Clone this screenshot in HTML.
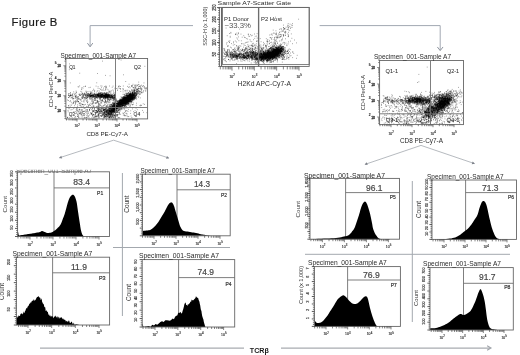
<!DOCTYPE html>
<html><head><meta charset="utf-8"><style>
html,body{margin:0;padding:0;background:#fff;}
svg{display:block;font-family:"Liberation Sans", sans-serif;filter:blur(0.35px);}
</style></head><body>
<svg width="520" height="355" viewBox="0 0 520 355">
<rect width="520" height="355" fill="#fff"/>
<text x="11.6" y="25.95" font-size="11.3" fill="#1a1a1a" stroke="#1a1a1a" stroke-width="0.2" textLength="45.6" lengthAdjust="spacing">Figure B</text>
<polyline points="193.00,25.60 90.10,25.60 90.10,46.50" stroke="#a2a8b2" stroke-width="1.0" fill="none" stroke-linejoin="miter"/>
<polyline points="92.80,43.08 90.10,46.80 87.40,43.08" stroke="#8e949e" stroke-width="1.0" fill="none" stroke-linejoin="miter"/>
<polyline points="319.60,25.60 440.20,25.60 440.20,50.20" stroke="#a2a8b2" stroke-width="1.0" fill="none" stroke-linejoin="miter"/>
<polyline points="443.03,46.98 440.20,50.60 437.37,46.98" stroke="#8e949e" stroke-width="1.0" fill="none" stroke-linejoin="miter"/>
<polyline points="59.40,157.80 113.60,140.20 168.80,158.00" stroke="#a9adb3" stroke-width="0.85" fill="none" stroke-linejoin="miter"/>
<polygon points="59.00,158.00 62.15,158.55 61.22,155.70" fill="#7c8088"/>
<polygon points="169.20,158.20 166.97,155.90 166.05,158.76" fill="#7c8088"/>
<polyline points="365.00,164.40 421.00,145.40 474.50,163.60" stroke="#a9adb3" stroke-width="0.85" fill="none" stroke-linejoin="miter"/>
<polygon points="364.60,164.60 367.76,165.11 366.79,162.27" fill="#7c8088"/>
<polygon points="474.90,163.80 472.71,161.47 471.74,164.31" fill="#7c8088"/>
<line x1="122.40" y1="173.00" x2="122.40" y2="316.00" stroke="#a3a8ae" stroke-width="1.0"/>
<line x1="113.00" y1="247.50" x2="230.00" y2="247.50" stroke="#a3a8ae" stroke-width="1.0"/>
<line x1="412.30" y1="181.00" x2="412.30" y2="322.00" stroke="#a3a8ae" stroke-width="1.0"/>
<line x1="305.00" y1="254.30" x2="510.00" y2="254.30" stroke="#a3a8ae" stroke-width="1.0"/>
<line x1="40.00" y1="348.10" x2="244.00" y2="348.10" stroke="#a8abb0" stroke-width="1.2"/>
<line x1="281.00" y1="348.10" x2="490.00" y2="348.10" stroke="#a8abb0" stroke-width="1.2"/>
<polyline points="487.10,345.85 491.00,348.10 487.10,350.35" stroke="#a0a4aa" stroke-width="1.1" fill="none" stroke-linejoin="miter"/>
<text x="249.80" y="352.70" font-size="7.0" fill="#1a1a1a" textLength="19.00" lengthAdjust="spacingAndGlyphs" font-weight="bold">TCRβ</text>
<line x1="54.00" y1="171.80" x2="54.00" y2="236.50" stroke="#707070" stroke-width="0.9"/>
<line x1="54.00" y1="187.90" x2="109.50" y2="187.90" stroke="#707070" stroke-width="0.9"/>
<path d="M17.60 236.50L17.60 236.50L17.65 235.76L17.71 234.65L17.79 233.46L17.89 232.48L18.00 232.00L18.13 232.20L18.27 232.87L18.43 233.77L18.61 234.64L18.80 235.20L18.95 235.43L19.07 235.50L19.23 235.47L19.51 235.38L20.00 235.30L20.76 235.21L21.73 235.08L22.82 234.93L23.94 234.76L25.00 234.60L26.00 234.45L27.00 234.29L28.00 234.12L29.00 233.96L30.00 233.80L31.00 233.64L32.00 233.49L33.00 233.33L34.00 233.17L35.00 233.00L36.05 232.81L37.14 232.61L38.22 232.41L39.19 232.20L40.00 232.00L40.59 231.77L41.02 231.51L41.34 231.27L41.65 231.08L42.00 231.00L42.37 231.04L42.70 231.17L43.06 231.36L43.47 231.59L44.00 231.80L44.67 232.05L45.46 232.35L46.30 232.64L47.17 232.88L48.00 233.00L48.83 232.97L49.70 232.84L50.54 232.64L51.33 232.42L52.00 232.20L52.53 231.99L52.94 231.76L53.30 231.51L53.63 231.26L54.00 231.00L54.40 230.74L54.80 230.48L55.20 230.21L55.60 229.92L56.00 229.60L56.40 229.25L56.79 228.87L57.18 228.47L57.58 228.05L58.00 227.60L58.45 227.14L58.93 226.66L59.41 226.16L59.87 225.61L60.30 225.00L60.69 224.30L61.06 223.52L61.40 222.71L61.71 221.92L62.00 221.20L62.24 220.59L62.43 220.06L62.60 219.55L62.78 219.01L63.00 218.40L63.27 217.70L63.58 216.93L63.90 216.13L64.21 215.32L64.50 214.50L64.76 213.69L65.00 212.87L65.23 212.04L65.46 211.18L65.70 210.30L65.95 209.38L66.21 208.42L66.47 207.44L66.73 206.46L67.00 205.50L67.27 204.54L67.54 203.56L67.82 202.60L68.11 201.67L68.40 200.80L68.69 199.99L68.99 199.22L69.29 198.50L69.63 197.83L70.00 197.20L70.43 196.59L70.92 195.98L71.42 195.44L71.93 195.03L72.40 194.80L72.84 194.74L73.27 194.81L73.68 195.04L74.09 195.43L74.50 196.00L74.92 196.78L75.34 197.75L75.76 198.88L76.15 200.14L76.50 201.50L76.81 203.02L77.08 204.71L77.32 206.49L77.56 208.28L77.80 210.00L78.05 211.66L78.30 213.31L78.54 214.93L78.77 216.50L79.00 218.00L79.22 219.42L79.42 220.78L79.62 222.08L79.82 223.32L80.00 224.50L80.17 225.61L80.32 226.64L80.46 227.62L80.62 228.57L80.80 229.50L81.01 230.44L81.24 231.37L81.48 232.26L81.73 233.09L82.00 233.80L82.27 234.40L82.55 234.91L82.85 235.34L83.16 235.70L83.50 236.00L83.90 236.22L84.36 236.35L84.82 236.42L85.22 236.46L85.50 236.50L85.50 236.50Z" fill="#000"/>
<rect x="17.60" y="171.80" width="91.90" height="64.70" fill="none" stroke="#666" stroke-width="0.9"/>
<text x="73.20" y="185.30" font-size="8.6" fill="#484848" stroke="#484848" stroke-width="0.2" textLength="16.80" lengthAdjust="spacingAndGlyphs">83.4</text>
<text x="97.10" y="195.40" font-size="5.6" fill="#333" stroke="#333" stroke-width="0.2" textLength="6.10" lengthAdjust="spacingAndGlyphs">P1</text>
<clipPath id="c25"><rect x="14" y="169.8" width="80" height="10"/></clipPath>
<g clip-path="url(#c25)">
<text x="16.00" y="172.60" font-size="6.42" fill="#6a6a6a" textLength="76.00" lengthAdjust="spacingAndGlyphs">Specimen_001-Sample A7</text>
</g>
<path d="M17.97 236.50v2.0 M20.85 236.50v2.0 M23.08 236.50v2.0 M24.90 236.50v2.0 M26.44 236.50v2.0 M27.77 236.50v2.0 M28.95 236.50v2.0 M30.00 236.50v3.0 M36.92 236.50v2.0 M40.97 236.50v2.0 M43.85 236.50v2.0 M46.08 236.50v2.0 M47.90 236.50v2.0 M49.44 236.50v2.0 M50.77 236.50v2.0 M51.95 236.50v2.0 M53.00 236.50v3.0 M59.92 236.50v2.0 M63.97 236.50v2.0 M66.85 236.50v2.0 M69.08 236.50v2.0 M70.90 236.50v2.0 M72.44 236.50v2.0 M73.77 236.50v2.0 M74.95 236.50v2.0 M76.00 236.50v3.0 M82.92 236.50v2.0 M86.97 236.50v2.0 M89.85 236.50v2.0 M92.08 236.50v2.0 M93.90 236.50v2.0 M95.44 236.50v2.0 M96.77 236.50v2.0 M97.95 236.50v2.0 M99.00 236.50v3.0" stroke="#333" stroke-width="0.6"/>
<text x="27.40" y="245.50" font-size="4.1" fill="#3a3a3a" stroke="#3a3a3a" stroke-width="0.18" textLength="3.80" lengthAdjust="spacingAndGlyphs">10</text>
<text x="31.30" y="243.60" font-size="2.9519999999999995" fill="#3a3a3a" stroke="#3a3a3a" stroke-width="0.15">2</text>
<text x="50.40" y="245.50" font-size="4.1" fill="#3a3a3a" stroke="#3a3a3a" stroke-width="0.18" textLength="3.80" lengthAdjust="spacingAndGlyphs">10</text>
<text x="54.30" y="243.60" font-size="2.9519999999999995" fill="#3a3a3a" stroke="#3a3a3a" stroke-width="0.15">3</text>
<text x="73.40" y="245.50" font-size="4.1" fill="#3a3a3a" stroke="#3a3a3a" stroke-width="0.18" textLength="3.80" lengthAdjust="spacingAndGlyphs">10</text>
<text x="77.30" y="243.60" font-size="2.9519999999999995" fill="#3a3a3a" stroke="#3a3a3a" stroke-width="0.15">4</text>
<text x="96.40" y="245.50" font-size="4.1" fill="#3a3a3a" stroke="#3a3a3a" stroke-width="0.18" textLength="3.80" lengthAdjust="spacingAndGlyphs">10</text>
<text x="100.30" y="243.60" font-size="2.9519999999999995" fill="#3a3a3a" stroke="#3a3a3a" stroke-width="0.15">5</text>
<path d="M17.60 236.50h-2.6 M17.60 228.41h-2.6 M17.60 220.32h-2.6 M17.60 212.24h-2.6 M17.60 204.15h-2.6 M17.60 196.06h-2.6 M17.60 187.98h-2.6 M17.60 179.89h-2.6 M17.60 171.80h-2.6" stroke="#333" stroke-width="0.8"/>
<path d="M17.60 234.48h-1.5 M17.60 232.46h-1.5 M17.60 230.43h-1.5 M17.60 226.39h-1.5 M17.60 224.37h-1.5 M17.60 222.35h-1.5 M17.60 218.30h-1.5 M17.60 216.28h-1.5 M17.60 214.26h-1.5 M17.60 210.22h-1.5 M17.60 208.19h-1.5 M17.60 206.17h-1.5 M17.60 202.13h-1.5 M17.60 200.11h-1.5 M17.60 198.08h-1.5 M17.60 194.04h-1.5 M17.60 192.02h-1.5 M17.60 190.00h-1.5 M17.60 185.95h-1.5 M17.60 183.93h-1.5 M17.60 181.91h-1.5 M17.60 177.87h-1.5 M17.60 175.84h-1.5 M17.60 173.82h-1.5" stroke="#444" stroke-width="0.7"/>
<text x="6.90" y="212.50" font-size="6.18" fill="#333" textLength="16.50" lengthAdjust="spacingAndGlyphs" transform="rotate(-90 6.90 212.50)">Count</text>
<text x="13.20" y="227.53" font-size="3.9" fill="#333" stroke="#333" stroke-width="0.15" text-anchor="middle" transform="rotate(-90 13.20 227.53)">50</text>
<text x="13.20" y="218.55" font-size="3.9" fill="#333" stroke="#333" stroke-width="0.15" text-anchor="middle" transform="rotate(-90 13.20 218.55)">100</text>
<text x="13.20" y="209.58" font-size="3.9" fill="#333" stroke="#333" stroke-width="0.15" text-anchor="middle" transform="rotate(-90 13.20 209.58)">150</text>
<text x="13.20" y="200.61" font-size="3.9" fill="#333" stroke="#333" stroke-width="0.15" text-anchor="middle" transform="rotate(-90 13.20 200.61)">200</text>
<text x="13.20" y="191.64" font-size="3.9" fill="#333" stroke="#333" stroke-width="0.15" text-anchor="middle" transform="rotate(-90 13.20 191.64)">250</text>
<text x="13.20" y="182.66" font-size="3.9" fill="#333" stroke="#333" stroke-width="0.15" text-anchor="middle" transform="rotate(-90 13.20 182.66)">300</text>
<text x="13.20" y="173.69" font-size="3.9" fill="#333" stroke="#333" stroke-width="0.15" text-anchor="middle" transform="rotate(-90 13.20 173.69)">350</text>
<line x1="177.00" y1="174.20" x2="177.00" y2="235.80" stroke="#707070" stroke-width="0.9"/>
<line x1="177.00" y1="189.80" x2="230.20" y2="189.80" stroke="#707070" stroke-width="0.9"/>
<path d="M142.40 235.80L142.40 235.80L142.44 235.11L142.48 234.10L142.56 232.97L142.72 231.94L143.00 231.20L143.43 230.82L143.98 230.67L144.61 230.65L145.30 230.66L146.00 230.60L146.75 230.50L147.58 230.43L148.42 230.34L149.25 230.21L150.00 230.00L150.66 229.71L151.27 229.35L151.85 228.94L152.42 228.49L153.00 228.00L153.60 227.48L154.20 226.92L154.80 226.32L155.40 225.68L156.00 225.00L156.60 224.28L157.20 223.52L157.80 222.72L158.40 221.88L159.00 221.00L159.60 220.06L160.20 219.07L160.80 218.05L161.40 217.02L162.00 216.00L162.62 214.98L163.25 213.95L163.87 212.93L164.46 211.94L165.00 211.00L165.46 210.12L165.87 209.29L166.25 208.49L166.62 207.73L167.00 207.00L167.40 206.28L167.80 205.58L168.20 204.91L168.60 204.31L169.00 203.80L169.41 203.37L169.82 203.01L170.24 202.73L170.63 202.52L171.00 202.40L171.33 202.35L171.64 202.38L171.92 202.49L172.21 202.69L172.50 203.00L172.80 203.41L173.10 203.93L173.40 204.54L173.70 205.23L174.00 206.00L174.30 206.87L174.60 207.86L174.90 208.90L175.20 209.97L175.50 211.00L175.80 212.00L176.10 213.00L176.40 214.00L176.70 215.00L177.00 216.00L177.30 217.00L177.60 218.00L177.90 219.00L178.20 220.00L178.50 221.00L178.79 222.02L179.08 223.07L179.36 224.11L179.67 225.10L180.00 226.00L180.37 226.83L180.76 227.60L181.18 228.32L181.59 228.95L182.00 229.50L182.34 229.94L182.61 230.27L182.91 230.53L183.34 230.76L184.00 231.00L184.94 231.23L186.11 231.44L187.41 231.62L188.74 231.81L190.00 232.00L191.20 232.19L192.40 232.38L193.60 232.57L194.80 232.77L196.00 233.00L197.23 233.27L198.50 233.57L199.74 233.88L200.93 234.16L202.00 234.40L202.93 234.57L203.74 234.70L204.50 234.80L205.23 234.89L206.00 235.00L206.83 235.13L207.70 235.26L208.54 235.39L209.33 235.51L210.00 235.60L210.56 235.67L211.04 235.72L211.44 235.75L211.76 235.78L212.00 235.80L212.00 235.80Z" fill="#000"/>
<rect x="142.40" y="174.20" width="87.80" height="61.60" fill="none" stroke="#666" stroke-width="0.9"/>
<text x="194.00" y="186.80" font-size="8.6" fill="#484848" stroke="#484848" stroke-width="0.2" textLength="16.00" lengthAdjust="spacingAndGlyphs">14.3</text>
<text x="221.00" y="197.20" font-size="5.6" fill="#333" stroke="#333" stroke-width="0.2" textLength="6.00" lengthAdjust="spacingAndGlyphs">P2</text>
<text x="140.40" y="173.40" font-size="6.3" fill="#2a2a2a" textLength="74.60" lengthAdjust="spacingAndGlyphs">Specimen_001-Sample A7</text>
<path d="M142.50 235.80v2.0 M145.25 235.80v2.0 M147.38 235.80v2.0 M149.12 235.80v2.0 M150.59 235.80v2.0 M151.87 235.80v2.0 M152.99 235.80v2.0 M154.00 235.80v3.0 M160.62 235.80v2.0 M164.50 235.80v2.0 M167.25 235.80v2.0 M169.38 235.80v2.0 M171.12 235.80v2.0 M172.59 235.80v2.0 M173.87 235.80v2.0 M174.99 235.80v2.0 M176.00 235.80v3.0 M182.62 235.80v2.0 M186.50 235.80v2.0 M189.25 235.80v2.0 M191.38 235.80v2.0 M193.12 235.80v2.0 M194.59 235.80v2.0 M195.87 235.80v2.0 M196.99 235.80v2.0 M198.00 235.80v3.0 M204.62 235.80v2.0 M208.50 235.80v2.0 M211.25 235.80v2.0 M213.38 235.80v2.0 M215.12 235.80v2.0 M216.59 235.80v2.0 M217.87 235.80v2.0 M218.99 235.80v2.0 M220.00 235.80v3.0" stroke="#333" stroke-width="0.6"/>
<text x="151.40" y="244.80" font-size="4.1" fill="#3a3a3a" stroke="#3a3a3a" stroke-width="0.18" textLength="3.80" lengthAdjust="spacingAndGlyphs">10</text>
<text x="155.30" y="242.90" font-size="2.9519999999999995" fill="#3a3a3a" stroke="#3a3a3a" stroke-width="0.15">2</text>
<text x="173.40" y="244.80" font-size="4.1" fill="#3a3a3a" stroke="#3a3a3a" stroke-width="0.18" textLength="3.80" lengthAdjust="spacingAndGlyphs">10</text>
<text x="177.30" y="242.90" font-size="2.9519999999999995" fill="#3a3a3a" stroke="#3a3a3a" stroke-width="0.15">3</text>
<text x="195.40" y="244.80" font-size="4.1" fill="#3a3a3a" stroke="#3a3a3a" stroke-width="0.18" textLength="3.80" lengthAdjust="spacingAndGlyphs">10</text>
<text x="199.30" y="242.90" font-size="2.9519999999999995" fill="#3a3a3a" stroke="#3a3a3a" stroke-width="0.15">4</text>
<text x="217.40" y="244.80" font-size="4.1" fill="#3a3a3a" stroke="#3a3a3a" stroke-width="0.18" textLength="3.80" lengthAdjust="spacingAndGlyphs">10</text>
<text x="221.30" y="242.90" font-size="2.9519999999999995" fill="#3a3a3a" stroke="#3a3a3a" stroke-width="0.15">5</text>
<path d="M142.40 235.80h-2.6 M142.40 228.10h-2.6 M142.40 220.40h-2.6 M142.40 212.70h-2.6 M142.40 205.00h-2.6 M142.40 197.30h-2.6 M142.40 189.60h-2.6 M142.40 181.90h-2.6 M142.40 174.20h-2.6" stroke="#333" stroke-width="0.8"/>
<path d="M142.40 233.88h-1.5 M142.40 231.95h-1.5 M142.40 230.03h-1.5 M142.40 226.18h-1.5 M142.40 224.25h-1.5 M142.40 222.33h-1.5 M142.40 218.47h-1.5 M142.40 216.55h-1.5 M142.40 214.62h-1.5 M142.40 210.78h-1.5 M142.40 208.85h-1.5 M142.40 206.93h-1.5 M142.40 203.07h-1.5 M142.40 201.15h-1.5 M142.40 199.22h-1.5 M142.40 195.38h-1.5 M142.40 193.45h-1.5 M142.40 191.52h-1.5 M142.40 187.68h-1.5 M142.40 185.75h-1.5 M142.40 183.82h-1.5 M142.40 179.97h-1.5 M142.40 178.05h-1.5 M142.40 176.12h-1.5" stroke="#444" stroke-width="0.7"/>
<text x="129.50" y="212.80" font-size="6.48" fill="#333" textLength="17.30" lengthAdjust="spacingAndGlyphs" transform="rotate(-90 129.50 212.80)">Count</text>
<text x="139.00" y="221.47" font-size="3.9" fill="#333" stroke="#333" stroke-width="0.15" text-anchor="middle" transform="rotate(-90 139.00 221.47)">500</text>
<text x="139.00" y="207.15" font-size="3.9" fill="#333" stroke="#333" stroke-width="0.15" text-anchor="middle" transform="rotate(-90 139.00 207.15)">1,000</text>
<text x="139.00" y="192.82" font-size="3.9" fill="#333" stroke="#333" stroke-width="0.15" text-anchor="middle" transform="rotate(-90 139.00 192.82)">1,500</text>
<text x="139.00" y="178.50" font-size="3.9" fill="#333" stroke="#333" stroke-width="0.15" text-anchor="middle" transform="rotate(-90 139.00 178.50)">2,000</text>
<line x1="52.60" y1="257.20" x2="52.60" y2="325.00" stroke="#707070" stroke-width="0.9"/>
<line x1="52.60" y1="272.80" x2="109.60" y2="272.80" stroke="#707070" stroke-width="0.9"/>
<path d="M16.40 325.00L16.40 317.00L16.61 316.81L16.91 317.04L17.25 317.97L17.63 316.56L18.00 316.52L18.36 316.55L18.73 315.19L19.12 315.85L19.54 315.89L20.00 316.02L20.51 313.71L21.07 313.90L21.65 312.88L22.23 314.44L22.80 313.64L23.35 311.31L23.89 313.39L24.43 312.78L24.97 311.32L25.50 310.62L26.02 308.78L26.52 307.84L27.02 308.71L27.54 306.75L28.10 306.33L28.72 305.45L29.38 303.63L30.06 303.57L30.71 302.34L31.30 302.56L31.80 301.07L32.24 301.05L32.65 300.43L33.06 300.69L33.50 299.88L33.95 299.11L34.40 300.87L34.87 300.62L35.36 299.93L35.90 299.28L36.53 297.81L37.23 297.11L37.94 296.84L38.62 295.91L39.20 297.75L39.65 296.85L40.01 298.39L40.33 297.54L40.64 299.68L41.00 299.97L41.41 298.32L41.84 299.75L42.27 302.63L42.70 302.33L43.10 304.65L43.47 303.87L43.81 303.82L44.15 306.23L44.47 307.48L44.80 306.86L45.11 307.10L45.40 308.50L45.69 310.97L46.02 311.09L46.40 310.03L46.87 311.19L47.40 311.64L47.96 312.37L48.50 315.20L49.00 314.10L49.44 315.64L49.85 315.67L50.24 315.22L50.62 316.95L51.00 315.47L51.38 317.09L51.73 315.76L52.09 316.72L52.48 316.20L52.90 316.36L53.38 318.21L53.89 317.53L54.43 315.89L54.98 317.33L55.50 315.39L56.00 316.02L56.49 317.54L56.98 317.24L57.48 316.03L58.00 318.77L58.53 316.79L59.08 317.09L59.64 318.69L60.21 317.62L60.80 317.73L61.41 317.34L62.05 317.64L62.69 319.29L63.35 318.61L64.00 319.88L64.66 319.52L65.32 320.03L65.98 321.74L66.64 320.69L67.30 321.21L67.94 322.28L68.58 320.61L69.22 320.77L69.86 323.11L70.50 323.09L71.16 321.72L71.82 321.78L72.48 323.54L73.14 324.31L73.80 322.45L74.46 324.79L75.12 324.83L75.78 324.29L76.41 324.21L77.00 324.40L77.58 324.56L78.17 324.70L78.71 324.83L79.17 324.93L79.50 325.00L79.50 325.00Z" fill="#000"/>
<rect x="16.40" y="257.20" width="93.20" height="67.80" fill="none" stroke="#666" stroke-width="0.9"/>
<text x="71.00" y="270.30" font-size="8.6" fill="#484848" stroke="#484848" stroke-width="0.2" textLength="16.00" lengthAdjust="spacingAndGlyphs">11.9</text>
<text x="99.00" y="280.00" font-size="5.6" fill="#333" stroke="#333" stroke-width="0.2" textLength="6.60" lengthAdjust="spacingAndGlyphs">P3</text>
<text x="12.40" y="256.00" font-size="6.76" fill="#2a2a2a" textLength="80.00" lengthAdjust="spacingAndGlyphs">Specimen_001-Sample A7</text>
<path d="M18.58 325.00v2.0 M20.88 325.00v2.0 M22.75 325.00v2.0 M24.33 325.00v2.0 M25.71 325.00v2.0 M26.92 325.00v2.0 M28.00 325.00v3.0 M35.12 325.00v2.0 M39.29 325.00v2.0 M42.25 325.00v2.0 M44.54 325.00v2.0 M46.42 325.00v2.0 M48.00 325.00v2.0 M49.37 325.00v2.0 M50.58 325.00v2.0 M51.67 325.00v3.0 M58.79 325.00v2.0 M62.96 325.00v2.0 M65.92 325.00v2.0 M68.21 325.00v2.0 M70.08 325.00v2.0 M71.67 325.00v2.0 M73.04 325.00v2.0 M74.25 325.00v2.0 M75.33 325.00v3.0 M82.46 325.00v2.0 M86.63 325.00v2.0 M89.58 325.00v2.0 M91.88 325.00v2.0 M93.75 325.00v2.0 M95.33 325.00v2.0 M96.71 325.00v2.0 M97.92 325.00v2.0 M99.00 325.00v3.0" stroke="#333" stroke-width="0.6"/>
<text x="25.40" y="334.00" font-size="4.1" fill="#3a3a3a" stroke="#3a3a3a" stroke-width="0.18" textLength="3.80" lengthAdjust="spacingAndGlyphs">10</text>
<text x="29.30" y="332.10" font-size="2.9519999999999995" fill="#3a3a3a" stroke="#3a3a3a" stroke-width="0.15">2</text>
<text x="49.07" y="334.00" font-size="4.1" fill="#3a3a3a" stroke="#3a3a3a" stroke-width="0.18" textLength="3.80" lengthAdjust="spacingAndGlyphs">10</text>
<text x="52.97" y="332.10" font-size="2.9519999999999995" fill="#3a3a3a" stroke="#3a3a3a" stroke-width="0.15">3</text>
<text x="72.73" y="334.00" font-size="4.1" fill="#3a3a3a" stroke="#3a3a3a" stroke-width="0.18" textLength="3.80" lengthAdjust="spacingAndGlyphs">10</text>
<text x="76.63" y="332.10" font-size="2.9519999999999995" fill="#3a3a3a" stroke="#3a3a3a" stroke-width="0.15">4</text>
<text x="96.40" y="334.00" font-size="4.1" fill="#3a3a3a" stroke="#3a3a3a" stroke-width="0.18" textLength="3.80" lengthAdjust="spacingAndGlyphs">10</text>
<text x="100.30" y="332.10" font-size="2.9519999999999995" fill="#3a3a3a" stroke="#3a3a3a" stroke-width="0.15">5</text>
<path d="M16.40 325.00h-2.6 M16.40 316.52h-2.6 M16.40 308.05h-2.6 M16.40 299.57h-2.6 M16.40 291.10h-2.6 M16.40 282.62h-2.6 M16.40 274.15h-2.6 M16.40 265.68h-2.6 M16.40 257.20h-2.6" stroke="#333" stroke-width="0.8"/>
<path d="M16.40 322.88h-1.5 M16.40 320.76h-1.5 M16.40 318.64h-1.5 M16.40 314.41h-1.5 M16.40 312.29h-1.5 M16.40 310.17h-1.5 M16.40 305.93h-1.5 M16.40 303.81h-1.5 M16.40 301.69h-1.5 M16.40 297.46h-1.5 M16.40 295.34h-1.5 M16.40 293.22h-1.5 M16.40 288.98h-1.5 M16.40 286.86h-1.5 M16.40 284.74h-1.5 M16.40 280.51h-1.5 M16.40 278.39h-1.5 M16.40 276.27h-1.5 M16.40 272.03h-1.5 M16.40 269.91h-1.5 M16.40 267.79h-1.5 M16.40 263.56h-1.5 M16.40 261.44h-1.5 M16.40 259.32h-1.5" stroke="#444" stroke-width="0.7"/>
<text x="4.40" y="300.00" font-size="6.37" fill="#333" textLength="17.00" lengthAdjust="spacingAndGlyphs" transform="rotate(-90 4.40 300.00)">Count</text>
<text x="9.80" y="309.28" font-size="3.9" fill="#333" stroke="#333" stroke-width="0.15" text-anchor="middle" transform="rotate(-90 9.80 309.28)">50</text>
<text x="9.80" y="293.56" font-size="3.9" fill="#333" stroke="#333" stroke-width="0.15" text-anchor="middle" transform="rotate(-90 9.80 293.56)">100</text>
<text x="9.80" y="277.84" font-size="3.9" fill="#333" stroke="#333" stroke-width="0.15" text-anchor="middle" transform="rotate(-90 9.80 277.84)">150</text>
<text x="9.80" y="262.12" font-size="3.9" fill="#333" stroke="#333" stroke-width="0.15" text-anchor="middle" transform="rotate(-90 9.80 262.12)">200</text>
<line x1="178.60" y1="259.60" x2="178.60" y2="327.00" stroke="#707070" stroke-width="0.9"/>
<line x1="178.60" y1="277.60" x2="234.70" y2="277.60" stroke="#707070" stroke-width="0.9"/>
<path d="M142.40 327.00L142.40 324.00L142.53 324.19L142.69 323.99L142.91 324.46L143.17 326.13L143.50 326.50L143.82 326.67L144.14 326.71L144.54 326.66L145.13 326.54L146.00 326.40L147.25 326.23L148.80 326.01L150.54 326.85L152.31 324.78L154.00 325.49L155.60 323.90L157.20 324.64L158.80 323.44L160.40 322.07L162.00 321.22L163.63 322.08L165.30 320.14L166.94 320.17L168.53 320.59L170.00 320.85L171.38 319.75L172.69 318.39L173.91 319.32L175.02 316.97L176.00 315.84L176.79 315.66L177.42 315.20L177.94 313.38L178.45 312.85L179.00 312.69L179.60 312.89L180.20 311.84L180.80 312.43L181.40 313.54L182.00 313.15L182.60 311.08L183.20 309.33L183.80 307.09L184.40 304.27L185.00 302.88L185.60 302.55L186.20 304.98L186.80 305.01L187.40 306.09L188.00 303.85L188.60 304.81L189.20 303.62L189.80 303.25L190.40 301.32L191.00 302.20L191.61 299.46L192.23 300.20L192.84 300.32L193.44 300.37L194.00 299.57L194.52 298.91L194.99 298.41L195.45 298.02L195.92 296.18L196.40 296.84L196.92 297.58L197.45 297.98L197.99 297.60L198.52 299.47L199.00 300.87L199.44 301.80L199.84 303.94L200.23 305.55L200.61 308.22L201.00 310.26L201.40 310.72L201.80 313.68L202.20 316.08L202.60 317.34L203.00 318.55L203.42 319.44L203.85 322.10L204.27 323.50L204.66 324.71L205.00 326.00L205.28 326.66L205.52 326.95L205.72 327.01L205.88 326.98L206.00 327.00L206.00 327.00Z" fill="#000"/>
<rect x="142.20" y="259.60" width="92.50" height="67.40" fill="none" stroke="#666" stroke-width="0.9"/>
<text x="197.60" y="274.80" font-size="8.6" fill="#484848" stroke="#484848" stroke-width="0.2" textLength="16.40" lengthAdjust="spacingAndGlyphs">74.9</text>
<text x="225.40" y="285.60" font-size="5.6" fill="#333" stroke="#333" stroke-width="0.2" textLength="6.00" lengthAdjust="spacingAndGlyphs">P4</text>
<text x="139.00" y="258.30" font-size="6.76" fill="#2a2a2a" textLength="80.00" lengthAdjust="spacingAndGlyphs">Specimen_001-Sample A7</text>
<path d="M143.04 327.00v2.0 M145.90 327.00v2.0 M148.12 327.00v2.0 M149.93 327.00v2.0 M151.46 327.00v2.0 M152.78 327.00v2.0 M153.95 327.00v2.0 M155.00 327.00v3.0 M161.88 327.00v2.0 M165.91 327.00v2.0 M168.77 327.00v2.0 M170.98 327.00v2.0 M172.79 327.00v2.0 M174.32 327.00v2.0 M175.65 327.00v2.0 M176.82 327.00v2.0 M177.87 327.00v3.0 M184.75 327.00v2.0 M188.78 327.00v2.0 M191.63 327.00v2.0 M193.85 327.00v2.0 M195.66 327.00v2.0 M197.19 327.00v2.0 M198.52 327.00v2.0 M199.69 327.00v2.0 M200.73 327.00v3.0 M207.62 327.00v2.0 M211.64 327.00v2.0 M214.50 327.00v2.0 M216.72 327.00v2.0 M218.53 327.00v2.0 M220.06 327.00v2.0 M221.38 327.00v2.0 M222.55 327.00v2.0 M223.60 327.00v3.0" stroke="#333" stroke-width="0.6"/>
<text x="152.40" y="336.00" font-size="4.1" fill="#3a3a3a" stroke="#3a3a3a" stroke-width="0.18" textLength="3.80" lengthAdjust="spacingAndGlyphs">10</text>
<text x="156.30" y="334.10" font-size="2.9519999999999995" fill="#3a3a3a" stroke="#3a3a3a" stroke-width="0.15">2</text>
<text x="175.27" y="336.00" font-size="4.1" fill="#3a3a3a" stroke="#3a3a3a" stroke-width="0.18" textLength="3.80" lengthAdjust="spacingAndGlyphs">10</text>
<text x="179.17" y="334.10" font-size="2.9519999999999995" fill="#3a3a3a" stroke="#3a3a3a" stroke-width="0.15">3</text>
<text x="198.13" y="336.00" font-size="4.1" fill="#3a3a3a" stroke="#3a3a3a" stroke-width="0.18" textLength="3.80" lengthAdjust="spacingAndGlyphs">10</text>
<text x="202.03" y="334.10" font-size="2.9519999999999995" fill="#3a3a3a" stroke="#3a3a3a" stroke-width="0.15">4</text>
<text x="221.00" y="336.00" font-size="4.1" fill="#3a3a3a" stroke="#3a3a3a" stroke-width="0.18" textLength="3.80" lengthAdjust="spacingAndGlyphs">10</text>
<text x="224.90" y="334.10" font-size="2.9519999999999995" fill="#3a3a3a" stroke="#3a3a3a" stroke-width="0.15">5</text>
<path d="M142.20 327.00h-2.6 M142.20 318.57h-2.6 M142.20 310.15h-2.6 M142.20 301.73h-2.6 M142.20 293.30h-2.6 M142.20 284.88h-2.6 M142.20 276.45h-2.6 M142.20 268.03h-2.6 M142.20 259.60h-2.6" stroke="#333" stroke-width="0.8"/>
<path d="M142.20 324.89h-1.5 M142.20 322.79h-1.5 M142.20 320.68h-1.5 M142.20 316.47h-1.5 M142.20 314.36h-1.5 M142.20 312.26h-1.5 M142.20 308.04h-1.5 M142.20 305.94h-1.5 M142.20 303.83h-1.5 M142.20 299.62h-1.5 M142.20 297.51h-1.5 M142.20 295.41h-1.5 M142.20 291.19h-1.5 M142.20 289.09h-1.5 M142.20 286.98h-1.5 M142.20 282.77h-1.5 M142.20 280.66h-1.5 M142.20 278.56h-1.5 M142.20 274.34h-1.5 M142.20 272.24h-1.5 M142.20 270.13h-1.5 M142.20 265.92h-1.5 M142.20 263.81h-1.5 M142.20 261.71h-1.5" stroke="#444" stroke-width="0.7"/>
<text x="131.00" y="301.00" font-size="6.37" fill="#333" textLength="17.00" lengthAdjust="spacingAndGlyphs" transform="rotate(-90 131.00 301.00)">Count</text>
<text x="137.00" y="319.73" font-size="3.9" fill="#333" stroke="#333" stroke-width="0.15" text-anchor="middle" transform="rotate(-90 137.00 319.73)">10</text>
<text x="137.00" y="312.46" font-size="3.9" fill="#333" stroke="#333" stroke-width="0.15" text-anchor="middle" transform="rotate(-90 137.00 312.46)">20</text>
<text x="137.00" y="305.19" font-size="3.9" fill="#333" stroke="#333" stroke-width="0.15" text-anchor="middle" transform="rotate(-90 137.00 305.19)">30</text>
<text x="137.00" y="297.92" font-size="3.9" fill="#333" stroke="#333" stroke-width="0.15" text-anchor="middle" transform="rotate(-90 137.00 297.92)">40</text>
<text x="137.00" y="290.66" font-size="3.9" fill="#333" stroke="#333" stroke-width="0.15" text-anchor="middle" transform="rotate(-90 137.00 290.66)">50</text>
<text x="137.00" y="283.39" font-size="3.9" fill="#333" stroke="#333" stroke-width="0.15" text-anchor="middle" transform="rotate(-90 137.00 283.39)">60</text>
<text x="137.00" y="276.12" font-size="3.9" fill="#333" stroke="#333" stroke-width="0.15" text-anchor="middle" transform="rotate(-90 137.00 276.12)">70</text>
<text x="137.00" y="268.85" font-size="3.9" fill="#333" stroke="#333" stroke-width="0.15" text-anchor="middle" transform="rotate(-90 137.00 268.85)">80</text>
<text x="137.00" y="261.58" font-size="3.9" fill="#333" stroke="#333" stroke-width="0.15" text-anchor="middle" transform="rotate(-90 137.00 261.58)">90</text>
<line x1="345.60" y1="178.40" x2="345.60" y2="239.20" stroke="#707070" stroke-width="0.9"/>
<line x1="345.60" y1="192.60" x2="399.50" y2="192.60" stroke="#707070" stroke-width="0.9"/>
<path d="M311.00 239.20L311.00 239.00L312.78 238.95L315.31 238.88L318.25 238.79L321.26 238.70L324.00 238.60L326.53 238.51L329.06 238.41L331.54 238.31L333.87 238.17L336.00 238.00L337.92 237.77L339.68 237.48L341.28 237.18L342.72 236.87L344.00 236.60L345.09 236.37L345.98 236.16L346.74 235.95L347.39 235.74L348.00 235.50L348.53 235.24L348.94 234.97L349.30 234.68L349.63 234.36L350.00 234.00L350.40 233.59L350.79 233.13L351.19 232.65L351.59 232.13L352.00 231.60L352.43 231.06L352.88 230.52L353.34 229.94L353.78 229.31L354.20 228.60L354.58 227.80L354.94 226.94L355.28 226.02L355.63 225.04L356.00 224.00L356.40 222.84L356.83 221.56L357.26 220.25L357.66 219.03L358.00 218.00L358.25 217.27L358.42 216.78L358.58 216.34L358.75 215.81L359.00 215.00L359.34 213.82L359.73 212.38L360.15 210.83L360.58 209.32L361.00 208.00L361.40 206.86L361.80 205.81L362.20 204.85L362.60 204.01L363.00 203.30L363.40 202.70L363.80 202.21L364.20 201.84L364.60 201.63L365.00 201.60L365.40 201.76L365.80 202.09L366.20 202.58L366.60 203.22L367.00 204.00L367.41 204.98L367.83 206.17L368.24 207.48L368.64 208.79L369.00 210.00L369.32 211.07L369.59 212.06L369.85 213.04L370.12 214.10L370.40 215.30L370.72 216.72L371.05 218.30L371.39 219.94L371.71 221.54L372.00 223.00L372.24 224.30L372.44 225.51L372.63 226.65L372.84 227.74L373.10 228.80L373.44 229.85L373.82 230.87L374.23 231.85L374.63 232.73L375.00 233.50L375.31 234.11L375.58 234.58L375.85 234.97L376.14 235.36L376.50 235.80L376.90 236.33L377.31 236.90L377.77 237.47L378.32 237.98L379.00 238.40L379.82 238.70L380.77 238.91L381.81 239.06L382.90 239.19L384.00 239.30L385.23 239.40L386.62 239.48L387.98 239.53L389.17 239.57L390.00 239.60L390.00 239.20Z" fill="#000"/>
<rect x="310.00" y="178.40" width="89.50" height="60.80" fill="none" stroke="#666" stroke-width="0.9"/>
<text x="366.00" y="190.80" font-size="8.6" fill="#484848" stroke="#484848" stroke-width="0.2" textLength="16.50" lengthAdjust="spacingAndGlyphs">96.1</text>
<text x="389.80" y="199.20" font-size="5.6" fill="#333" stroke="#333" stroke-width="0.2" textLength="6.00" lengthAdjust="spacingAndGlyphs">P5</text>
<text x="304.00" y="178.20" font-size="6.84" fill="#2a2a2a" textLength="81.00" lengthAdjust="spacingAndGlyphs">Specimen_001-Sample A7</text>
<path d="M310.90 239.20v2.0 M313.65 239.20v2.0 M315.78 239.20v2.0 M317.52 239.20v2.0 M318.99 239.20v2.0 M320.27 239.20v2.0 M321.39 239.20v2.0 M322.40 239.20v3.0 M329.02 239.20v2.0 M332.90 239.20v2.0 M335.65 239.20v2.0 M337.78 239.20v2.0 M339.52 239.20v2.0 M340.99 239.20v2.0 M342.27 239.20v2.0 M343.39 239.20v2.0 M344.40 239.20v3.0 M351.02 239.20v2.0 M354.90 239.20v2.0 M357.65 239.20v2.0 M359.78 239.20v2.0 M361.52 239.20v2.0 M362.99 239.20v2.0 M364.27 239.20v2.0 M365.39 239.20v2.0 M366.40 239.20v3.0 M373.02 239.20v2.0 M376.90 239.20v2.0 M379.65 239.20v2.0 M381.78 239.20v2.0 M383.52 239.20v2.0 M384.99 239.20v2.0 M386.27 239.20v2.0 M387.39 239.20v2.0 M388.40 239.20v3.0" stroke="#333" stroke-width="0.6"/>
<text x="319.80" y="248.20" font-size="4.1" fill="#3a3a3a" stroke="#3a3a3a" stroke-width="0.18" textLength="3.80" lengthAdjust="spacingAndGlyphs">10</text>
<text x="323.70" y="246.30" font-size="2.9519999999999995" fill="#3a3a3a" stroke="#3a3a3a" stroke-width="0.15">2</text>
<text x="341.80" y="248.20" font-size="4.1" fill="#3a3a3a" stroke="#3a3a3a" stroke-width="0.18" textLength="3.80" lengthAdjust="spacingAndGlyphs">10</text>
<text x="345.70" y="246.30" font-size="2.9519999999999995" fill="#3a3a3a" stroke="#3a3a3a" stroke-width="0.15">3</text>
<text x="363.80" y="248.20" font-size="4.1" fill="#3a3a3a" stroke="#3a3a3a" stroke-width="0.18" textLength="3.80" lengthAdjust="spacingAndGlyphs">10</text>
<text x="367.70" y="246.30" font-size="2.9519999999999995" fill="#3a3a3a" stroke="#3a3a3a" stroke-width="0.15">4</text>
<text x="385.80" y="248.20" font-size="4.1" fill="#3a3a3a" stroke="#3a3a3a" stroke-width="0.18" textLength="3.80" lengthAdjust="spacingAndGlyphs">10</text>
<text x="389.70" y="246.30" font-size="2.9519999999999995" fill="#3a3a3a" stroke="#3a3a3a" stroke-width="0.15">5</text>
<path d="M310.00 239.20h-2.6 M310.00 231.60h-2.6 M310.00 224.00h-2.6 M310.00 216.40h-2.6 M310.00 208.80h-2.6 M310.00 201.20h-2.6 M310.00 193.60h-2.6 M310.00 186.00h-2.6 M310.00 178.40h-2.6" stroke="#333" stroke-width="0.8"/>
<path d="M310.00 237.30h-1.5 M310.00 235.40h-1.5 M310.00 233.50h-1.5 M310.00 229.70h-1.5 M310.00 227.80h-1.5 M310.00 225.90h-1.5 M310.00 222.10h-1.5 M310.00 220.20h-1.5 M310.00 218.30h-1.5 M310.00 214.50h-1.5 M310.00 212.60h-1.5 M310.00 210.70h-1.5 M310.00 206.90h-1.5 M310.00 205.00h-1.5 M310.00 203.10h-1.5 M310.00 199.30h-1.5 M310.00 197.40h-1.5 M310.00 195.50h-1.5 M310.00 191.70h-1.5 M310.00 189.80h-1.5 M310.00 187.90h-1.5 M310.00 184.10h-1.5 M310.00 182.20h-1.5 M310.00 180.30h-1.5" stroke="#444" stroke-width="0.7"/>
<text x="300.00" y="217.50" font-size="6.18" fill="#333" textLength="16.50" lengthAdjust="spacingAndGlyphs" transform="rotate(-90 300.00 217.50)">Count</text>
<text x="308.00" y="225.37" font-size="3.9" fill="#333" stroke="#333" stroke-width="0.15" text-anchor="middle" transform="rotate(-90 308.00 225.37)">500</text>
<text x="308.00" y="211.13" font-size="3.9" fill="#333" stroke="#333" stroke-width="0.15" text-anchor="middle" transform="rotate(-90 308.00 211.13)">1,000</text>
<text x="308.00" y="196.90" font-size="3.9" fill="#333" stroke="#333" stroke-width="0.15" text-anchor="middle" transform="rotate(-90 308.00 196.90)">1,500</text>
<text x="308.00" y="182.67" font-size="3.9" fill="#333" stroke="#333" stroke-width="0.15" text-anchor="middle" transform="rotate(-90 308.00 182.67)">1,800</text>
<line x1="465.60" y1="180.00" x2="465.60" y2="239.40" stroke="#707070" stroke-width="0.9"/>
<line x1="465.60" y1="192.60" x2="516.50" y2="192.60" stroke="#707070" stroke-width="0.9"/>
<path d="M432.00 239.40L432.00 239.60L434.00 239.53L436.88 239.43L440.16 239.31L443.36 239.17L446.00 239.00L448.03 238.82L449.78 238.62L451.30 238.39L452.69 238.12L454.00 237.80L455.21 237.42L456.26 236.99L457.22 236.52L458.11 236.02L459.00 235.50L459.85 234.96L460.63 234.38L461.39 233.78L462.16 233.16L463.00 232.50L463.93 231.81L464.94 231.08L465.96 230.32L466.93 229.56L467.80 228.80L468.55 228.06L469.20 227.32L469.81 226.58L470.40 225.81L471.00 225.00L471.61 224.16L472.20 223.28L472.79 222.38L473.38 221.46L474.00 220.50L474.66 219.54L475.35 218.57L476.04 217.56L476.71 216.49L477.30 215.30L477.81 213.94L478.26 212.44L478.68 210.88L479.08 209.37L479.50 208.00L479.93 206.74L480.36 205.52L480.79 204.40L481.20 203.41L481.60 202.60L481.98 201.99L482.33 201.54L482.68 201.23L483.03 201.06L483.40 201.00L483.79 201.05L484.20 201.23L484.62 201.54L485.02 201.96L485.40 202.50L485.74 203.15L486.06 203.90L486.36 204.78L486.67 205.81L487.00 207.00L487.35 208.43L487.71 210.08L488.07 211.84L488.44 213.62L488.80 215.30L489.16 216.91L489.53 218.51L489.89 220.09L490.25 221.59L490.60 223.00L490.93 224.30L491.24 225.51L491.56 226.65L491.87 227.74L492.20 228.80L492.54 229.82L492.89 230.79L493.24 231.72L493.61 232.62L494.00 233.50L494.39 234.38L494.77 235.26L495.19 236.09L495.65 236.85L496.20 237.50L496.84 238.02L497.55 238.45L498.32 238.79L499.14 239.07L500.00 239.30L501.00 239.46L502.15 239.54L503.30 239.57L504.30 239.58L505.00 239.60L505.00 239.40Z" fill="#000"/>
<rect x="432.00" y="180.00" width="84.50" height="59.40" fill="none" stroke="#666" stroke-width="0.9"/>
<text x="482.00" y="190.80" font-size="8.6" fill="#484848" stroke="#484848" stroke-width="0.2" textLength="16.50" lengthAdjust="spacingAndGlyphs">71.3</text>
<text x="508.00" y="199.20" font-size="5.6" fill="#333" stroke="#333" stroke-width="0.2" textLength="6.00" lengthAdjust="spacingAndGlyphs">P6</text>
<text x="427.00" y="179.00" font-size="6.46" fill="#2a2a2a" textLength="76.50" lengthAdjust="spacingAndGlyphs">Specimen_001-Sample A7</text>
<path d="M433.02 239.40v2.0 M435.64 239.40v2.0 M437.68 239.40v2.0 M439.34 239.40v2.0 M440.75 239.40v2.0 M441.96 239.40v2.0 M443.04 239.40v2.0 M444.00 239.40v3.0 M450.32 239.40v2.0 M454.02 239.40v2.0 M456.64 239.40v2.0 M458.68 239.40v2.0 M460.34 239.40v2.0 M461.75 239.40v2.0 M462.96 239.40v2.0 M464.04 239.40v2.0 M465.00 239.40v3.0 M471.32 239.40v2.0 M475.02 239.40v2.0 M477.64 239.40v2.0 M479.68 239.40v2.0 M481.34 239.40v2.0 M482.75 239.40v2.0 M483.96 239.40v2.0 M485.04 239.40v2.0 M486.00 239.40v3.0 M492.32 239.40v2.0 M496.02 239.40v2.0 M498.64 239.40v2.0 M500.68 239.40v2.0 M502.34 239.40v2.0 M503.75 239.40v2.0 M504.96 239.40v2.0 M506.04 239.40v2.0 M507.00 239.40v3.0" stroke="#333" stroke-width="0.6"/>
<text x="441.40" y="248.40" font-size="4.1" fill="#3a3a3a" stroke="#3a3a3a" stroke-width="0.18" textLength="3.80" lengthAdjust="spacingAndGlyphs">10</text>
<text x="445.30" y="246.50" font-size="2.9519999999999995" fill="#3a3a3a" stroke="#3a3a3a" stroke-width="0.15">2</text>
<text x="462.40" y="248.40" font-size="4.1" fill="#3a3a3a" stroke="#3a3a3a" stroke-width="0.18" textLength="3.80" lengthAdjust="spacingAndGlyphs">10</text>
<text x="466.30" y="246.50" font-size="2.9519999999999995" fill="#3a3a3a" stroke="#3a3a3a" stroke-width="0.15">3</text>
<text x="483.40" y="248.40" font-size="4.1" fill="#3a3a3a" stroke="#3a3a3a" stroke-width="0.18" textLength="3.80" lengthAdjust="spacingAndGlyphs">10</text>
<text x="487.30" y="246.50" font-size="2.9519999999999995" fill="#3a3a3a" stroke="#3a3a3a" stroke-width="0.15">4</text>
<text x="504.40" y="248.40" font-size="4.1" fill="#3a3a3a" stroke="#3a3a3a" stroke-width="0.18" textLength="3.80" lengthAdjust="spacingAndGlyphs">10</text>
<text x="508.30" y="246.50" font-size="2.9519999999999995" fill="#3a3a3a" stroke="#3a3a3a" stroke-width="0.15">5</text>
<path d="M432.00 239.40h-2.6 M432.00 231.97h-2.6 M432.00 224.55h-2.6 M432.00 217.12h-2.6 M432.00 209.70h-2.6 M432.00 202.28h-2.6 M432.00 194.85h-2.6 M432.00 187.43h-2.6 M432.00 180.00h-2.6" stroke="#333" stroke-width="0.8"/>
<path d="M432.00 237.54h-1.5 M432.00 235.69h-1.5 M432.00 233.83h-1.5 M432.00 230.12h-1.5 M432.00 228.26h-1.5 M432.00 226.41h-1.5 M432.00 222.69h-1.5 M432.00 220.84h-1.5 M432.00 218.98h-1.5 M432.00 215.27h-1.5 M432.00 213.41h-1.5 M432.00 211.56h-1.5 M432.00 207.84h-1.5 M432.00 205.99h-1.5 M432.00 204.13h-1.5 M432.00 200.42h-1.5 M432.00 198.56h-1.5 M432.00 196.71h-1.5 M432.00 192.99h-1.5 M432.00 191.14h-1.5 M432.00 189.28h-1.5 M432.00 185.57h-1.5 M432.00 183.71h-1.5 M432.00 181.86h-1.5" stroke="#444" stroke-width="0.7"/>
<text x="421.00" y="218.00" font-size="6.37" fill="#333" textLength="17.00" lengthAdjust="spacingAndGlyphs" transform="rotate(-90 421.00 218.00)">Count</text>
<text x="428.50" y="233.81" font-size="3.9" fill="#333" stroke="#333" stroke-width="0.15" text-anchor="middle" transform="rotate(-90 428.50 233.81)">10</text>
<text x="428.50" y="228.03" font-size="3.9" fill="#333" stroke="#333" stroke-width="0.15" text-anchor="middle" transform="rotate(-90 428.50 228.03)">20</text>
<text x="428.50" y="222.24" font-size="3.9" fill="#333" stroke="#333" stroke-width="0.15" text-anchor="middle" transform="rotate(-90 428.50 222.24)">30</text>
<text x="428.50" y="216.45" font-size="3.9" fill="#333" stroke="#333" stroke-width="0.15" text-anchor="middle" transform="rotate(-90 428.50 216.45)">40</text>
<text x="428.50" y="210.67" font-size="3.9" fill="#333" stroke="#333" stroke-width="0.15" text-anchor="middle" transform="rotate(-90 428.50 210.67)">50</text>
<text x="428.50" y="204.88" font-size="3.9" fill="#333" stroke="#333" stroke-width="0.15" text-anchor="middle" transform="rotate(-90 428.50 204.88)">60</text>
<text x="428.50" y="199.10" font-size="3.9" fill="#333" stroke="#333" stroke-width="0.15" text-anchor="middle" transform="rotate(-90 428.50 199.10)">70</text>
<text x="428.50" y="193.31" font-size="3.9" fill="#333" stroke="#333" stroke-width="0.15" text-anchor="middle" transform="rotate(-90 428.50 193.31)">80</text>
<text x="428.50" y="187.52" font-size="3.9" fill="#333" stroke="#333" stroke-width="0.15" text-anchor="middle" transform="rotate(-90 428.50 187.52)">90</text>
<text x="428.50" y="181.74" font-size="3.9" fill="#333" stroke="#333" stroke-width="0.15" text-anchor="middle" transform="rotate(-90 428.50 181.74)">100</text>
<line x1="347.60" y1="266.60" x2="347.60" y2="326.40" stroke="#707070" stroke-width="0.9"/>
<line x1="347.60" y1="280.00" x2="400.40" y2="280.00" stroke="#707070" stroke-width="0.9"/>
<path d="M314.60 326.40L314.60 320.00L314.88 320.48L315.26 321.19L315.74 321.96L316.32 322.62L317.00 323.00L317.83 323.10L318.81 323.03L319.88 322.80L320.96 322.39L322.00 321.80L323.03 320.95L324.10 319.83L325.14 318.59L326.13 317.33L327.00 316.20L327.72 315.22L328.32 314.29L328.85 313.39L329.39 312.48L330.00 311.50L330.68 310.47L331.38 309.40L332.11 308.30L332.85 307.17L333.60 306.00L334.37 304.73L335.16 303.35L335.95 301.97L336.74 300.69L337.50 299.60L338.24 298.72L338.98 297.99L339.69 297.38L340.37 296.85L341.00 296.40L341.56 296.00L342.07 295.67L342.55 295.44L343.02 295.31L343.50 295.30L343.98 295.41L344.43 295.64L344.89 295.98L345.40 296.43L346.00 297.00L346.70 297.77L347.49 298.74L348.33 299.78L349.18 300.77L350.00 301.60L350.80 302.28L351.60 302.88L352.40 303.39L353.20 303.77L354.00 304.00L354.80 304.07L355.60 303.99L356.40 303.78L357.20 303.45L358.00 303.00L358.82 302.37L359.65 301.55L360.47 300.64L361.26 299.76L362.00 299.00L362.67 298.32L363.29 297.66L363.88 297.07L364.44 296.63L365.00 296.40L365.55 296.32L366.08 296.33L366.59 296.55L367.10 297.08L367.60 298.00L368.08 299.46L368.55 301.40L369.01 303.60L369.48 305.87L370.00 308.00L370.56 310.05L371.16 312.14L371.77 314.22L372.39 316.19L373.00 318.00L373.62 319.68L374.25 321.28L374.87 322.75L375.46 324.01L376.00 325.00L376.50 325.66L376.97 326.03L377.39 326.21L377.74 326.30L378.00 326.40L378.00 326.40Z" fill="#000"/>
<rect x="314.40" y="266.60" width="86.00" height="59.80" fill="none" stroke="#666" stroke-width="0.9"/>
<text x="363.00" y="277.80" font-size="8.6" fill="#484848" stroke="#484848" stroke-width="0.2" textLength="16.80" lengthAdjust="spacingAndGlyphs">76.9</text>
<text x="390.80" y="286.90" font-size="5.6" fill="#333" stroke="#333" stroke-width="0.2" textLength="6.00" lengthAdjust="spacingAndGlyphs">P7</text>
<text x="308.00" y="264.60" font-size="6.66" fill="#2a2a2a" textLength="78.80" lengthAdjust="spacingAndGlyphs">Specimen_001-Sample A7</text>
<path d="M314.67 326.40v2.0 M317.38 326.40v2.0 M319.48 326.40v2.0 M321.19 326.40v2.0 M322.64 326.40v2.0 M323.90 326.40v2.0 M325.01 326.40v2.0 M326.00 326.40v3.0 M332.52 326.40v2.0 M336.34 326.40v2.0 M339.04 326.40v2.0 M341.14 326.40v2.0 M342.86 326.40v2.0 M344.31 326.40v2.0 M345.57 326.40v2.0 M346.68 326.40v2.0 M347.67 326.40v3.0 M354.19 326.40v2.0 M358.00 326.40v2.0 M360.71 326.40v2.0 M362.81 326.40v2.0 M364.53 326.40v2.0 M365.98 326.40v2.0 M367.23 326.40v2.0 M368.34 326.40v2.0 M369.33 326.40v3.0 M375.86 326.40v2.0 M379.67 326.40v2.0 M382.38 326.40v2.0 M384.48 326.40v2.0 M386.19 326.40v2.0 M387.64 326.40v2.0 M388.90 326.40v2.0 M390.01 326.40v2.0 M391.00 326.40v3.0" stroke="#333" stroke-width="0.6"/>
<text x="323.40" y="335.40" font-size="4.1" fill="#3a3a3a" stroke="#3a3a3a" stroke-width="0.18" textLength="3.80" lengthAdjust="spacingAndGlyphs">10</text>
<text x="327.30" y="333.50" font-size="2.9519999999999995" fill="#3a3a3a" stroke="#3a3a3a" stroke-width="0.15">2</text>
<text x="345.07" y="335.40" font-size="4.1" fill="#3a3a3a" stroke="#3a3a3a" stroke-width="0.18" textLength="3.80" lengthAdjust="spacingAndGlyphs">10</text>
<text x="348.97" y="333.50" font-size="2.9519999999999995" fill="#3a3a3a" stroke="#3a3a3a" stroke-width="0.15">3</text>
<text x="366.73" y="335.40" font-size="4.1" fill="#3a3a3a" stroke="#3a3a3a" stroke-width="0.18" textLength="3.80" lengthAdjust="spacingAndGlyphs">10</text>
<text x="370.63" y="333.50" font-size="2.9519999999999995" fill="#3a3a3a" stroke="#3a3a3a" stroke-width="0.15">4</text>
<text x="388.40" y="335.40" font-size="4.1" fill="#3a3a3a" stroke="#3a3a3a" stroke-width="0.18" textLength="3.80" lengthAdjust="spacingAndGlyphs">10</text>
<text x="392.30" y="333.50" font-size="2.9519999999999995" fill="#3a3a3a" stroke="#3a3a3a" stroke-width="0.15">5</text>
<path d="M314.40 326.40h-2.6 M314.40 318.92h-2.6 M314.40 311.45h-2.6 M314.40 303.98h-2.6 M314.40 296.50h-2.6 M314.40 289.02h-2.6 M314.40 281.55h-2.6 M314.40 274.08h-2.6 M314.40 266.60h-2.6" stroke="#333" stroke-width="0.8"/>
<path d="M314.40 324.53h-1.5 M314.40 322.66h-1.5 M314.40 320.79h-1.5 M314.40 317.06h-1.5 M314.40 315.19h-1.5 M314.40 313.32h-1.5 M314.40 309.58h-1.5 M314.40 307.71h-1.5 M314.40 305.84h-1.5 M314.40 302.11h-1.5 M314.40 300.24h-1.5 M314.40 298.37h-1.5 M314.40 294.63h-1.5 M314.40 292.76h-1.5 M314.40 290.89h-1.5 M314.40 287.16h-1.5 M314.40 285.29h-1.5 M314.40 283.42h-1.5 M314.40 279.68h-1.5 M314.40 277.81h-1.5 M314.40 275.94h-1.5 M314.40 272.21h-1.5 M314.40 270.34h-1.5 M314.40 268.47h-1.5" stroke="#444" stroke-width="0.7"/>
<text x="303.00" y="304.00" font-size="5.51" fill="#333" textLength="38.00" lengthAdjust="spacingAndGlyphs" transform="rotate(-90 303.00 304.00)">Count (x 1,000)</text>
<text x="309.50" y="318.13" font-size="3.9" fill="#333" stroke="#333" stroke-width="0.15" text-anchor="middle" transform="rotate(-90 309.50 318.13)">1</text>
<text x="309.50" y="309.85" font-size="3.9" fill="#333" stroke="#333" stroke-width="0.15" text-anchor="middle" transform="rotate(-90 309.50 309.85)">2</text>
<text x="309.50" y="301.58" font-size="3.9" fill="#333" stroke="#333" stroke-width="0.15" text-anchor="middle" transform="rotate(-90 309.50 301.58)">3</text>
<text x="309.50" y="293.30" font-size="3.9" fill="#333" stroke="#333" stroke-width="0.15" text-anchor="middle" transform="rotate(-90 309.50 293.30)">4</text>
<text x="309.50" y="285.03" font-size="3.9" fill="#333" stroke="#333" stroke-width="0.15" text-anchor="middle" transform="rotate(-90 309.50 285.03)">5</text>
<text x="309.50" y="276.76" font-size="3.9" fill="#333" stroke="#333" stroke-width="0.15" text-anchor="middle" transform="rotate(-90 309.50 276.76)">6</text>
<text x="309.50" y="268.48" font-size="3.9" fill="#333" stroke="#333" stroke-width="0.15" text-anchor="middle" transform="rotate(-90 309.50 268.48)">7</text>
<line x1="463.50" y1="267.60" x2="463.50" y2="330.00" stroke="#707070" stroke-width="0.9"/>
<line x1="463.50" y1="283.30" x2="513.30" y2="283.30" stroke="#707070" stroke-width="0.9"/>
<path d="M430.00 330.00L430.00 328.40L430.82 328.37L431.97 328.35L433.31 328.29L434.70 328.19L436.00 328.00L437.20 327.72L438.40 327.36L439.60 326.95L440.80 326.49L442.00 326.00L443.22 325.48L444.45 324.92L445.67 324.32L446.86 323.68L448.00 323.00L449.08 322.25L450.12 321.42L451.12 320.58L452.08 319.75L453.00 319.00L453.87 318.32L454.70 317.68L455.49 317.08L456.25 316.52L457.00 316.00L457.72 315.49L458.39 314.98L459.05 314.54L459.72 314.19L460.40 314.00L461.10 314.06L461.81 314.33L462.52 314.67L463.25 314.94L464.00 315.00L464.78 314.81L465.60 314.48L466.42 314.04L467.23 313.54L468.00 313.00L468.71 312.49L469.37 312.00L470.02 311.41L470.68 310.64L471.40 309.60L472.19 308.19L473.04 306.49L473.91 304.61L474.74 302.71L475.50 300.90L476.18 299.12L476.82 297.27L477.42 295.48L477.98 293.85L478.50 292.50L478.98 291.38L479.40 290.42L479.80 289.69L480.19 289.26L480.60 289.20L481.04 289.61L481.49 290.43L481.94 291.53L482.38 292.77L482.80 294.00L483.20 295.24L483.58 296.59L483.94 298.02L484.28 299.50L484.60 301.00L484.88 302.50L485.11 304.01L485.33 305.57L485.56 307.22L485.80 309.00L486.06 311.00L486.33 313.21L486.60 315.47L486.89 317.62L487.20 319.50L487.53 321.12L487.88 322.58L488.25 323.87L488.62 325.01L489.00 326.00L489.36 326.80L489.69 327.40L490.05 327.86L490.47 328.24L491.00 328.60L491.69 328.91L492.50 329.14L493.38 329.32L494.23 329.46L495.00 329.60L495.71 329.72L496.42 329.82L497.06 329.90L497.61 329.96L498.00 330.00L498.00 330.00Z" fill="#000"/>
<rect x="430.00" y="267.60" width="83.30" height="62.40" fill="none" stroke="#666" stroke-width="0.9"/>
<text x="479.00" y="280.40" font-size="8.6" fill="#484848" stroke="#484848" stroke-width="0.2" textLength="16.50" lengthAdjust="spacingAndGlyphs">91.7</text>
<text x="504.20" y="289.20" font-size="5.6" fill="#333" stroke="#333" stroke-width="0.2" textLength="6.20" lengthAdjust="spacingAndGlyphs">P8</text>
<text x="423.00" y="266.40" font-size="6.59" fill="#2a2a2a" textLength="78.00" lengthAdjust="spacingAndGlyphs">Specimen_001-Sample A7</text>
<path d="M431.19 330.00v2.0 M433.78 330.00v2.0 M435.78 330.00v2.0 M437.42 330.00v2.0 M438.80 330.00v2.0 M440.00 330.00v2.0 M441.05 330.00v2.0 M442.00 330.00v3.0 M448.22 330.00v2.0 M451.86 330.00v2.0 M454.44 330.00v2.0 M456.45 330.00v2.0 M458.08 330.00v2.0 M459.47 330.00v2.0 M460.66 330.00v2.0 M461.72 330.00v2.0 M462.67 330.00v3.0 M468.89 330.00v2.0 M472.53 330.00v2.0 M475.11 330.00v2.0 M477.11 330.00v2.0 M478.75 330.00v2.0 M480.13 330.00v2.0 M481.33 330.00v2.0 M482.39 330.00v2.0 M483.33 330.00v3.0 M489.55 330.00v2.0 M493.19 330.00v2.0 M495.78 330.00v2.0 M497.78 330.00v2.0 M499.42 330.00v2.0 M500.80 330.00v2.0 M502.00 330.00v2.0 M503.05 330.00v2.0 M504.00 330.00v3.0" stroke="#333" stroke-width="0.6"/>
<text x="439.40" y="339.00" font-size="4.1" fill="#3a3a3a" stroke="#3a3a3a" stroke-width="0.18" textLength="3.80" lengthAdjust="spacingAndGlyphs">10</text>
<text x="443.30" y="337.10" font-size="2.9519999999999995" fill="#3a3a3a" stroke="#3a3a3a" stroke-width="0.15">2</text>
<text x="460.07" y="339.00" font-size="4.1" fill="#3a3a3a" stroke="#3a3a3a" stroke-width="0.18" textLength="3.80" lengthAdjust="spacingAndGlyphs">10</text>
<text x="463.97" y="337.10" font-size="2.9519999999999995" fill="#3a3a3a" stroke="#3a3a3a" stroke-width="0.15">3</text>
<text x="480.73" y="339.00" font-size="4.1" fill="#3a3a3a" stroke="#3a3a3a" stroke-width="0.18" textLength="3.80" lengthAdjust="spacingAndGlyphs">10</text>
<text x="484.63" y="337.10" font-size="2.9519999999999995" fill="#3a3a3a" stroke="#3a3a3a" stroke-width="0.15">4</text>
<text x="501.40" y="339.00" font-size="4.1" fill="#3a3a3a" stroke="#3a3a3a" stroke-width="0.18" textLength="3.80" lengthAdjust="spacingAndGlyphs">10</text>
<text x="505.30" y="337.10" font-size="2.9519999999999995" fill="#3a3a3a" stroke="#3a3a3a" stroke-width="0.15">5</text>
<path d="M430.00 330.00h-2.6 M430.00 322.20h-2.6 M430.00 314.40h-2.6 M430.00 306.60h-2.6 M430.00 298.80h-2.6 M430.00 291.00h-2.6 M430.00 283.20h-2.6 M430.00 275.40h-2.6 M430.00 267.60h-2.6" stroke="#333" stroke-width="0.8"/>
<path d="M430.00 328.05h-1.5 M430.00 326.10h-1.5 M430.00 324.15h-1.5 M430.00 320.25h-1.5 M430.00 318.30h-1.5 M430.00 316.35h-1.5 M430.00 312.45h-1.5 M430.00 310.50h-1.5 M430.00 308.55h-1.5 M430.00 304.65h-1.5 M430.00 302.70h-1.5 M430.00 300.75h-1.5 M430.00 296.85h-1.5 M430.00 294.90h-1.5 M430.00 292.95h-1.5 M430.00 289.05h-1.5 M430.00 287.10h-1.5 M430.00 285.15h-1.5 M430.00 281.25h-1.5 M430.00 279.30h-1.5 M430.00 277.35h-1.5 M430.00 273.45h-1.5 M430.00 271.50h-1.5 M430.00 269.55h-1.5" stroke="#444" stroke-width="0.7"/>
<text x="418.00" y="306.00" font-size="6.0" fill="#333" textLength="16.00" lengthAdjust="spacingAndGlyphs" transform="rotate(-90 418.00 306.00)">Count</text>
<text x="425.00" y="321.51" font-size="3.9" fill="#333" stroke="#333" stroke-width="0.15" text-anchor="middle" transform="rotate(-90 425.00 321.51)">100</text>
<text x="425.00" y="313.01" font-size="3.9" fill="#333" stroke="#333" stroke-width="0.15" text-anchor="middle" transform="rotate(-90 425.00 313.01)">200</text>
<text x="425.00" y="304.52" font-size="3.9" fill="#333" stroke="#333" stroke-width="0.15" text-anchor="middle" transform="rotate(-90 425.00 304.52)">300</text>
<text x="425.00" y="296.03" font-size="3.9" fill="#333" stroke="#333" stroke-width="0.15" text-anchor="middle" transform="rotate(-90 425.00 296.03)">400</text>
<text x="425.00" y="287.53" font-size="3.9" fill="#333" stroke="#333" stroke-width="0.15" text-anchor="middle" transform="rotate(-90 425.00 287.53)">500</text>
<text x="425.00" y="279.04" font-size="3.9" fill="#333" stroke="#333" stroke-width="0.15" text-anchor="middle" transform="rotate(-90 425.00 279.04)">600</text>
<text x="425.00" y="270.55" font-size="3.9" fill="#333" stroke="#333" stroke-width="0.15" text-anchor="middle" transform="rotate(-90 425.00 270.55)">700</text>
<path d="M275.2 17.2h.75M271.9 18.9h.75M298.3 19.2h.75M287.8 23.6h.75M289.7 24.2h.75M292.0 23.6h.75M248.1 24.6h.75M283.1 25.1h.75M287.5 25.2h.75M291.1 25.1h.75M292.1 25.4h.75M287.7 25.6h.75M289.4 26.4h.75M285.7 27.2h.75M287.2 26.8h.75M287.9 27.4h.75M288.5 27.0h.75M290.5 27.3h.75M291.7 27.4h.75M225.7 28.0h.75M283.2 27.7h.75M283.3 27.5h.75M288.0 28.1h.75M239.3 29.1h.75M279.2 29.3h.75M280.5 28.8h.75M281.1 29.1h.75M283.6 29.2h.75M283.7 29.1h.75M283.9 28.7h.75M284.0 28.6h.75M284.8 28.8h.75M286.7 29.5h.75M287.4 29.3h.75M290.0 28.5h.75M272.8 30.1h.75M282.9 30.1h.75M288.1 29.8h.75M275.6 30.8h.75M281.6 31.0h.75M282.5 31.1h.75M282.7 31.3h.75M285.3 31.3h.75M289.4 30.6h.75M230.5 32.4h.75M279.2 32.1h.75M280.6 31.8h.75M284.5 31.9h.75M284.8 32.1h.75M285.5 32.1h.75M288.2 32.3h.75M230.5 33.2h.75M236.5 33.1h.75M238.2 32.8h.75M273.2 33.1h.75M273.9 33.2h.75M275.9 32.9h.75M279.0 32.7h.75M284.5 32.6h.75M284.9 33.2h.75M229.0 33.5h.75M235.0 34.4h.75M235.2 34.0h.75M238.0 33.6h.75M240.6 34.1h.75M247.9 34.2h.75M247.9 34.3h.75M254.2 34.0h.75M256.7 33.6h.75M270.8 34.4h.75M271.6 33.8h.75M275.1 34.0h.75M275.8 33.9h.75M276.3 34.0h.75M278.2 34.0h.75M279.9 34.4h.75M287.4 34.0h.75M290.9 33.9h.75M235.6 34.6h.75M237.4 34.9h.75M250.2 34.6h.75M251.8 35.3h.75M269.4 35.0h.75M271.8 35.2h.75M275.8 34.7h.75M278.9 34.7h.75M279.9 34.7h.75M281.4 34.6h.75M282.9 34.6h.75M283.1 35.1h.75M283.4 35.1h.75M284.9 35.2h.75M285.1 35.3h.75M288.1 34.9h.75M226.8 35.7h.75M229.8 36.3h.75M243.4 35.7h.75M248.3 36.0h.75M249.2 36.4h.75M250.9 35.8h.75M254.8 36.3h.75M256.3 36.1h.75M258.1 36.4h.75M276.7 36.2h.75M277.7 35.6h.75M280.6 36.3h.75M281.3 35.9h.75M283.0 35.6h.75M283.0 36.3h.75M287.9 36.1h.75M288.1 36.1h.75M229.8 37.3h.75M238.1 36.9h.75M241.8 37.2h.75M244.0 37.3h.75M274.8 37.1h.75M276.4 37.2h.75M276.4 37.4h.75M276.9 37.3h.75M277.5 37.2h.75M277.7 37.4h.75M278.8 36.7h.75M280.0 36.7h.75M280.2 36.9h.75M287.8 36.7h.75M236.5 37.9h.75M244.8 37.5h.75M254.4 38.4h.75M256.7 38.1h.75M257.8 38.1h.75M269.7 37.6h.75M270.3 37.6h.75M270.9 38.5h.75M271.7 37.6h.75M274.0 38.0h.75M274.2 37.8h.75M277.4 38.2h.75M279.0 37.6h.75M282.2 38.2h.75M291.5 38.3h.75M237.3 39.1h.75M245.9 38.6h.75M247.3 39.0h.75M259.8 38.6h.75M265.9 38.7h.75M273.6 39.4h.75M276.2 39.1h.75M285.0 38.8h.75M249.6 39.6h.75M253.0 39.7h.75M267.1 40.2h.75M267.5 39.7h.75M269.2 40.4h.75M271.4 39.5h.75M274.3 40.1h.75M274.7 39.9h.75M281.2 39.7h.75M282.1 39.8h.75M294.0 40.0h.75M228.2 41.3h.75M229.5 40.7h.75M234.9 41.0h.75M238.5 40.7h.75M240.9 40.8h.75M249.9 41.1h.75M256.3 41.2h.75M256.5 41.4h.75M256.8 40.8h.75M266.3 41.2h.75M274.9 40.7h.75M275.8 40.9h.75M279.1 41.0h.75M280.8 40.8h.75M290.1 41.1h.75M229.2 42.0h.75M233.2 41.8h.75M236.3 42.0h.75M245.8 42.4h.75M246.7 42.3h.75M247.7 41.9h.75M251.4 41.7h.75M260.7 41.7h.75M263.2 42.4h.75M267.0 41.7h.75M267.2 41.9h.75M267.5 41.6h.75M268.9 41.8h.75M271.2 42.2h.75M273.6 42.1h.75M274.5 41.8h.75M276.5 41.6h.75M283.5 42.4h.75M288.1 41.9h.75M226.6 42.6h.75M229.1 42.5h.75M233.1 42.9h.75M244.9 42.9h.75M253.3 43.3h.75M266.7 43.3h.75M270.4 42.5h.75M272.7 43.0h.75M274.0 43.0h.75M275.0 43.3h.75M275.1 42.8h.75M277.1 42.9h.75M282.5 43.1h.75M284.2 42.8h.75M285.5 43.1h.75M296.1 42.9h.75M226.2 44.0h.75M231.1 43.6h.75M241.1 43.7h.75M241.7 43.7h.75M243.5 43.8h.75M252.0 43.7h.75M255.9 43.8h.75M258.8 44.1h.75M263.0 44.3h.75M264.0 43.8h.75M268.9 43.6h.75M269.1 43.7h.75M271.6 44.3h.75M273.1 44.3h.75M274.3 43.9h.75M274.8 43.7h.75M277.2 43.5h.75M280.4 43.8h.75M284.1 44.2h.75M287.7 43.9h.75M292.2 43.7h.75M232.8 45.1h.75M234.4 44.6h.75M243.7 45.1h.75M247.5 44.6h.75M249.7 45.4h.75M251.1 45.3h.75M251.5 45.3h.75M251.9 45.1h.75M253.8 44.9h.75M254.8 44.9h.75M260.5 45.0h.75M265.6 45.0h.75M267.3 44.8h.75M274.8 44.6h.75M275.6 44.8h.75M276.6 45.4h.75M278.7 44.9h.75M279.0 45.4h.75M279.9 44.9h.75M280.1 45.4h.75M280.8 44.7h.75M281.4 44.9h.75M286.4 45.0h.75M227.2 46.1h.75M227.3 46.1h.75M228.0 45.9h.75M236.0 45.9h.75M236.3 45.7h.75M237.7 46.3h.75M237.9 46.3h.75M239.5 45.7h.75M240.5 46.2h.75M244.8 45.5h.75M247.7 46.1h.75M247.9 46.4h.75M248.4 46.3h.75M250.9 45.9h.75M252.0 46.0h.75M252.5 46.0h.75M253.0 46.3h.75M254.4 45.7h.75M255.8 45.7h.75M259.1 45.9h.75M259.3 45.9h.75M260.5 46.4h.75M262.9 45.5h.75M265.2 45.8h.75M265.4 45.8h.75M265.5 45.9h.75M265.9 45.6h.75M268.5 46.5h.75M270.5 45.8h.75M272.0 45.8h.75M272.3 46.1h.75M273.4 45.7h.75M273.6 46.2h.75M273.8 45.7h.75M274.2 45.6h.75M276.3 45.8h.75M276.4 46.4h.75M278.1 46.1h.75M279.0 46.5h.75M279.0 46.2h.75M279.6 46.4h.75M279.9 46.0h.75M280.1 46.3h.75M280.3 46.3h.75M280.4 46.0h.75M281.8 46.4h.75M282.9 46.4h.75M286.6 45.7h.75M230.1 47.2h.75M238.8 47.2h.75M243.2 47.1h.75M246.2 47.0h.75M248.8 47.4h.75M252.0 46.6h.75M254.8 47.2h.75M254.9 47.3h.75M256.9 46.6h.75M262.9 47.3h.75M265.7 46.6h.75M265.8 46.7h.75M268.6 46.7h.75M271.2 47.1h.75M271.9 46.6h.75M272.0 47.3h.75M272.3 46.9h.75M273.0 46.7h.75M273.3 46.8h.75M274.1 46.9h.75M274.5 47.0h.75M275.0 46.6h.75M275.1 47.4h.75M275.9 47.5h.75M276.3 47.4h.75M276.8 46.8h.75M277.1 47.5h.75M277.6 47.1h.75M277.8 46.6h.75M277.8 47.1h.75M277.8 46.8h.75M278.2 47.2h.75M278.6 47.3h.75M279.5 47.2h.75M279.6 47.4h.75M280.8 47.3h.75M281.1 46.8h.75M281.2 47.2h.75M281.3 47.4h.75M281.6 46.8h.75M281.6 46.8h.75M282.0 47.0h.75M282.5 46.5h.75M282.6 46.8h.75M282.7 47.1h.75M283.3 46.6h.75M283.7 47.3h.75M231.1 47.9h.75M234.6 47.9h.75M236.7 48.1h.75M237.3 47.9h.75M238.2 48.1h.75M238.3 47.8h.75M238.7 48.2h.75M238.7 47.7h.75M245.4 48.2h.75M245.4 47.5h.75M245.5 48.4h.75M247.6 47.9h.75M249.7 48.3h.75M250.0 48.3h.75M250.6 48.3h.75M250.8 48.1h.75M252.4 48.1h.75M254.8 47.9h.75M255.0 48.3h.75M255.6 48.1h.75M257.4 47.8h.75M258.3 48.2h.75M258.7 47.9h.75M258.7 48.0h.75M260.0 47.7h.75M260.9 47.8h.75M261.0 48.3h.75M262.6 47.7h.75M262.9 48.0h.75M264.6 47.9h.75M266.3 47.9h.75M266.3 48.2h.75M269.9 48.2h.75M270.0 47.9h.75M270.2 48.4h.75M270.3 47.7h.75M270.5 47.6h.75M270.7 48.0h.75M270.7 48.1h.75M271.2 47.7h.75M271.2 47.8h.75M271.9 48.0h.75M272.9 47.9h.75M273.2 48.4h.75M273.4 48.2h.75M274.7 47.5h.75M275.2 47.5h.75M275.4 47.6h.75M275.6 48.2h.75M275.6 48.2h.75M276.0 47.6h.75M276.0 48.0h.75M276.0 48.3h.75M276.2 48.1h.75M276.4 47.9h.75M276.6 47.9h.75M276.6 47.8h.75M277.2 48.4h.75M277.3 48.2h.75M277.5 48.5h.75M277.6 47.6h.75M277.9 48.0h.75M277.9 47.6h.75M278.0 48.3h.75M278.0 48.5h.75M278.4 47.6h.75M278.5 48.5h.75M278.6 48.0h.75M278.6 47.5h.75M278.7 47.5h.75M278.9 47.9h.75M278.9 47.9h.75M279.5 48.3h.75M279.8 47.9h.75M279.9 48.1h.75M279.9 47.7h.75M280.2 48.4h.75M280.4 48.5h.75M280.6 47.8h.75M280.9 48.4h.75M281.0 48.3h.75M281.1 48.0h.75M281.2 48.3h.75M281.3 48.1h.75M281.3 48.0h.75M281.4 48.3h.75M281.4 47.8h.75M281.6 48.4h.75M281.7 47.7h.75M281.8 48.2h.75M282.3 47.9h.75M282.6 48.3h.75M283.1 48.1h.75M283.4 48.1h.75M284.5 47.8h.75M284.9 47.9h.75M223.1 48.8h.75M224.3 49.1h.75M224.3 48.9h.75M228.7 49.4h.75M232.9 49.5h.75M234.3 48.7h.75M237.4 49.2h.75M237.6 49.0h.75M238.0 48.7h.75M239.8 49.5h.75M241.7 49.1h.75M242.0 49.3h.75M244.5 49.3h.75M244.8 49.2h.75M245.1 49.2h.75M245.8 48.5h.75M245.9 49.0h.75M246.7 48.6h.75M248.1 49.4h.75M249.0 49.2h.75M249.2 49.5h.75M252.0 48.5h.75M252.1 48.8h.75M252.6 49.2h.75M253.6 49.2h.75M254.3 48.9h.75M256.7 48.5h.75M257.9 49.4h.75M258.4 49.0h.75M259.3 49.5h.75M260.5 49.3h.75M261.0 48.6h.75M261.7 48.5h.75M262.3 49.5h.75M262.5 48.9h.75M263.1 48.7h.75M267.2 49.2h.75M268.0 49.4h.75M268.6 48.8h.75M268.7 49.1h.75M269.0 48.7h.75M269.2 48.6h.75M269.3 49.1h.75M269.8 48.6h.75M270.3 48.8h.75M270.5 48.8h.75M271.0 49.4h.75M271.4 48.6h.75M271.6 48.7h.75M271.9 48.7h.75M271.9 48.9h.75M272.1 49.3h.75M272.2 48.7h.75M272.2 49.4h.75M272.2 49.3h.75M272.9 48.7h.75M273.0 49.5h.75M273.1 49.1h.75M273.4 48.8h.75M273.5 49.5h.75M273.6 49.2h.75M273.6 49.3h.75M273.7 49.3h.75M273.7 49.0h.75M273.8 48.6h.75M274.1 49.2h.75M274.7 48.6h.75M274.7 48.9h.75M274.8 48.7h.75M275.3 49.4h.75M275.3 49.4h.75M275.5 49.3h.75M275.6 49.2h.75M275.9 49.0h.75M276.0 48.6h.75M276.1 49.1h.75M276.2 48.9h.75M276.2 49.3h.75M276.3 48.9h.75M276.4 49.4h.75M276.5 49.1h.75M276.6 49.3h.75M276.7 48.9h.75M276.8 49.1h.75M276.8 49.3h.75M276.9 49.4h.75M277.0 48.8h.75M277.3 49.1h.75M277.3 48.6h.75M277.3 48.7h.75M277.3 48.6h.75M277.3 49.1h.75M277.4 49.2h.75M277.5 48.6h.75M278.0 49.0h.75M278.2 49.3h.75M278.2 49.5h.75M278.3 48.7h.75M278.7 49.2h.75M278.7 49.4h.75M278.8 48.6h.75M278.9 49.5h.75M279.1 49.2h.75M279.2 48.5h.75M279.4 49.4h.75M279.5 48.8h.75M279.8 49.2h.75M279.9 48.7h.75M280.0 48.9h.75M280.0 48.9h.75M280.2 48.8h.75M280.3 49.1h.75M280.3 49.2h.75M280.3 49.2h.75M280.4 48.6h.75M280.5 49.4h.75M280.6 48.7h.75M280.9 48.6h.75M281.0 49.5h.75M281.3 49.4h.75M281.6 49.1h.75M281.8 48.9h.75M281.8 48.6h.75M282.2 49.1h.75M282.6 48.8h.75M282.6 49.3h.75M282.6 49.1h.75M283.4 48.5h.75M283.4 49.5h.75M283.4 49.0h.75M283.8 49.2h.75M288.8 48.9h.75M223.9 50.2h.75M227.2 49.9h.75M227.5 49.6h.75M228.6 50.1h.75M232.3 49.7h.75M233.0 49.7h.75M234.0 50.0h.75M235.3 49.6h.75M237.0 49.8h.75M238.0 49.9h.75M238.3 49.8h.75M242.2 50.1h.75M242.3 50.2h.75M242.4 49.7h.75M243.5 49.5h.75M244.1 50.4h.75M244.3 50.2h.75M244.4 50.1h.75M245.2 50.3h.75M246.3 50.0h.75M247.0 49.9h.75M247.1 50.3h.75M247.9 50.2h.75M249.1 49.6h.75M250.0 50.0h.75M250.2 50.1h.75M251.4 50.1h.75M251.5 49.8h.75M251.8 50.1h.75M252.0 49.7h.75M252.2 50.4h.75M252.2 50.5h.75M254.4 49.5h.75M254.9 50.5h.75M255.3 50.2h.75M256.7 50.0h.75M261.4 49.6h.75M261.6 49.6h.75M261.7 50.0h.75M263.8 50.1h.75M265.2 50.4h.75M265.4 49.7h.75M265.5 50.3h.75M265.8 50.5h.75M265.9 50.1h.75M266.6 50.3h.75M267.1 50.0h.75M267.6 50.2h.75M268.1 50.2h.75M268.2 50.2h.75M268.4 49.8h.75M268.9 50.4h.75M269.1 49.7h.75M269.6 50.0h.75M270.6 49.8h.75M270.8 49.6h.75M270.8 49.8h.75M270.9 50.3h.75M271.3 49.9h.75M271.4 50.4h.75M271.5 49.9h.75M271.6 50.1h.75M272.4 50.3h.75M273.0 49.7h.75M273.0 50.1h.75M273.1 49.6h.75M273.1 50.1h.75M273.3 50.0h.75M273.5 50.0h.75M273.5 50.5h.75M273.6 50.5h.75M273.7 49.7h.75M273.8 49.7h.75M273.8 50.1h.75M273.9 50.2h.75M274.2 49.9h.75M274.2 49.7h.75M274.2 49.5h.75M274.3 49.7h.75M274.3 49.8h.75M274.5 49.9h.75M274.5 50.1h.75M274.6 49.7h.75M274.6 49.6h.75M274.7 50.1h.75M274.8 49.7h.75M274.9 49.5h.75M274.9 50.3h.75M275.1 50.4h.75M275.1 50.4h.75M275.3 49.8h.75M275.3 49.8h.75M275.3 50.3h.75M275.4 49.8h.75M275.4 50.2h.75M275.6 49.8h.75M275.6 49.9h.75M275.7 49.8h.75M275.9 50.2h.75M275.9 50.2h.75M275.9 50.2h.75M276.0 49.6h.75M276.0 50.2h.75M276.3 49.9h.75M276.5 49.8h.75M277.0 50.3h.75M277.2 49.7h.75M277.2 50.3h.75M277.2 50.5h.75M277.3 50.1h.75M277.4 50.2h.75M277.6 50.2h.75M277.6 50.4h.75M277.6 50.1h.75M277.6 50.4h.75M277.6 50.4h.75M277.6 49.6h.75M277.7 49.6h.75M277.7 50.3h.75M277.8 50.2h.75M277.8 50.4h.75M277.8 49.6h.75M277.9 49.7h.75M277.9 50.2h.75M277.9 50.4h.75M278.1 50.3h.75M278.2 49.6h.75M278.3 49.7h.75M278.4 50.1h.75M278.5 50.0h.75M278.6 49.8h.75M278.6 49.8h.75M278.6 50.4h.75M278.7 50.0h.75M278.7 49.8h.75M278.7 50.4h.75M278.7 50.0h.75M278.7 50.1h.75M278.8 49.7h.75M279.0 50.3h.75M279.4 49.6h.75M279.6 49.9h.75M279.6 49.7h.75M279.7 49.6h.75M279.7 49.8h.75M279.7 49.7h.75M280.2 50.4h.75M280.4 50.3h.75M280.7 49.8h.75M280.7 50.4h.75M281.0 50.5h.75M281.1 50.1h.75M281.2 49.8h.75M281.2 49.8h.75M281.7 50.3h.75M282.0 49.8h.75M282.3 49.5h.75M282.3 49.6h.75M282.4 49.7h.75M282.7 50.3h.75M282.8 49.9h.75M282.9 50.2h.75M282.9 49.9h.75M283.5 50.1h.75M284.6 49.9h.75M284.8 50.5h.75M285.0 50.2h.75M287.8 49.8h.75M287.9 50.4h.75M289.9 49.6h.75M223.9 50.7h.75M224.8 51.1h.75M227.0 51.2h.75M227.1 50.6h.75M229.0 51.1h.75M229.1 51.0h.75M231.2 51.3h.75M232.7 50.8h.75M233.9 51.0h.75M234.3 51.3h.75M234.6 51.5h.75M235.3 51.2h.75M235.7 50.9h.75M236.4 50.8h.75M237.4 50.6h.75M238.7 51.0h.75M239.0 51.2h.75M240.5 51.1h.75M240.9 50.6h.75M241.4 50.6h.75M242.2 50.8h.75M243.3 51.4h.75M243.4 51.1h.75M243.9 51.4h.75M247.3 51.4h.75M249.8 51.1h.75M249.9 51.3h.75M251.0 51.5h.75M252.5 51.4h.75M253.1 51.3h.75M253.1 51.5h.75M253.5 51.3h.75M254.8 51.5h.75M256.0 50.7h.75M257.9 50.8h.75M259.4 51.2h.75M259.6 50.7h.75M259.9 50.5h.75M260.3 50.8h.75M260.6 50.9h.75M261.0 50.8h.75M261.1 50.9h.75M261.9 51.0h.75M262.2 50.8h.75M262.6 50.7h.75M263.0 51.4h.75M263.5 51.3h.75M263.7 51.3h.75M264.9 51.3h.75M265.2 51.2h.75M266.6 51.4h.75M267.3 50.7h.75M267.4 50.7h.75M267.6 50.7h.75M267.6 50.6h.75M267.8 51.4h.75M267.8 50.7h.75M267.9 50.6h.75M267.9 51.2h.75M268.3 51.0h.75M268.7 51.2h.75M268.8 50.9h.75M269.1 50.6h.75M269.3 51.3h.75M269.5 50.8h.75M269.6 51.4h.75M269.9 51.1h.75M270.1 51.1h.75M270.3 51.1h.75M270.5 51.0h.75M270.9 51.1h.75M271.0 50.9h.75M271.5 50.9h.75M271.7 50.7h.75M271.9 51.3h.75M271.9 51.2h.75M272.1 51.0h.75M272.1 50.5h.75M272.2 51.4h.75M272.3 51.1h.75M272.4 51.3h.75M272.6 50.7h.75M272.6 51.2h.75M272.7 51.2h.75M272.8 51.0h.75M272.9 51.1h.75M272.9 50.8h.75M273.0 50.7h.75M273.1 51.2h.75M273.2 51.0h.75M273.4 51.3h.75M273.4 51.1h.75M273.5 51.2h.75M273.5 51.1h.75M273.5 50.7h.75M273.7 51.0h.75M274.0 51.3h.75M274.1 50.9h.75M274.2 50.9h.75M274.2 51.1h.75M274.3 50.8h.75M274.4 51.4h.75M274.4 50.8h.75M274.5 51.1h.75M274.6 51.1h.75M274.6 51.3h.75M274.8 50.7h.75M274.9 51.3h.75M275.0 51.3h.75M275.0 51.0h.75M275.1 51.0h.75M275.2 50.6h.75M275.3 50.7h.75M275.6 51.3h.75M275.6 51.0h.75M275.7 50.7h.75M275.7 50.9h.75M275.7 50.6h.75M275.7 51.5h.75M275.8 50.8h.75M276.0 50.9h.75M276.1 51.4h.75M276.1 50.9h.75M276.2 51.4h.75M276.3 50.7h.75M276.4 50.9h.75M276.5 51.4h.75M276.5 50.8h.75M276.6 51.5h.75M276.6 51.0h.75M276.7 51.2h.75M276.7 51.4h.75M276.7 51.3h.75M276.7 51.3h.75M276.8 50.8h.75M276.9 50.8h.75M276.9 50.9h.75M277.1 50.9h.75M277.1 51.0h.75M277.2 50.7h.75M277.4 50.6h.75M277.4 50.7h.75M277.4 50.7h.75M277.5 51.3h.75M277.5 51.5h.75M277.6 51.1h.75M277.7 51.5h.75M277.8 50.7h.75M277.8 50.9h.75M277.9 50.6h.75M278.2 50.9h.75M278.3 50.7h.75M278.4 51.2h.75M278.4 51.3h.75M278.4 50.9h.75M278.6 50.9h.75M278.6 51.5h.75M278.7 50.9h.75M278.8 50.5h.75M278.8 51.4h.75M278.9 51.0h.75M279.0 50.9h.75M279.0 51.2h.75M279.3 51.2h.75M279.3 50.7h.75M279.4 50.7h.75M279.4 50.6h.75M279.5 50.8h.75M279.5 51.4h.75M279.8 50.8h.75M279.8 50.6h.75M279.9 50.7h.75M280.0 51.2h.75M280.0 51.5h.75M280.2 51.5h.75M280.2 50.6h.75M280.3 51.3h.75M280.3 51.0h.75M280.4 51.0h.75M280.4 51.3h.75M280.4 51.1h.75M280.6 50.8h.75M280.7 50.5h.75M280.7 50.5h.75M280.8 51.5h.75M280.8 51.2h.75M281.0 51.0h.75M281.0 51.0h.75M281.1 50.8h.75M281.2 51.2h.75M281.3 50.6h.75M281.3 50.5h.75M281.5 50.7h.75M281.6 51.3h.75M281.7 51.3h.75M282.3 50.8h.75M282.3 51.5h.75M282.5 50.8h.75M282.9 51.1h.75M283.0 51.0h.75M284.3 51.3h.75M284.3 51.2h.75M284.6 51.4h.75M285.6 51.3h.75M286.7 51.3h.75M287.0 51.0h.75M287.0 51.1h.75M223.4 52.3h.75M225.2 52.2h.75M225.4 52.3h.75M226.4 51.9h.75M226.6 51.9h.75M226.7 51.8h.75M227.3 52.2h.75M228.0 52.2h.75M229.8 52.1h.75M230.6 52.3h.75M231.4 52.2h.75M232.0 52.3h.75M233.0 51.7h.75M234.2 52.4h.75M234.4 51.5h.75M234.7 52.0h.75M235.2 52.2h.75M238.4 51.5h.75M240.2 52.1h.75M241.6 52.2h.75M243.5 52.2h.75M244.6 51.9h.75M245.8 52.3h.75M246.0 52.5h.75M246.1 51.8h.75M246.1 51.7h.75M246.9 51.8h.75M247.8 52.0h.75M248.8 52.0h.75M249.2 51.6h.75M249.5 52.0h.75M249.5 52.1h.75M249.7 51.6h.75M250.6 52.1h.75M250.7 52.3h.75M251.1 51.9h.75M251.6 51.8h.75M251.6 52.5h.75M251.6 52.4h.75M251.6 52.2h.75M251.9 52.3h.75M252.3 52.1h.75M252.5 52.2h.75M252.6 52.3h.75M252.9 51.7h.75M253.0 51.8h.75M253.0 52.1h.75M253.6 52.4h.75M254.3 51.9h.75M254.4 52.2h.75M255.0 51.8h.75M255.1 52.3h.75M255.3 52.4h.75M255.3 52.4h.75M256.5 52.4h.75M256.9 51.9h.75M257.2 52.3h.75M257.9 51.6h.75M259.2 52.0h.75M259.6 52.3h.75M259.9 52.1h.75M260.0 51.5h.75M260.2 51.7h.75M260.5 52.4h.75M260.9 51.7h.75M261.5 51.9h.75M262.0 52.3h.75M262.5 51.7h.75M262.5 52.4h.75M262.7 52.2h.75M263.2 51.6h.75M263.2 51.9h.75M263.3 51.8h.75M263.5 52.3h.75M263.5 51.8h.75M263.7 52.0h.75M265.0 52.2h.75M265.1 51.8h.75M265.2 51.7h.75M265.6 52.4h.75M265.9 51.8h.75M266.1 51.9h.75M266.6 52.4h.75M266.6 51.8h.75M266.7 52.5h.75M266.9 52.1h.75M267.1 52.4h.75M267.2 52.1h.75M267.3 52.2h.75M267.3 52.5h.75M267.4 52.3h.75M267.4 52.1h.75M267.5 52.3h.75M267.6 52.5h.75M267.6 51.7h.75M267.6 51.8h.75M267.7 51.6h.75M267.8 52.0h.75M267.9 52.4h.75M267.9 52.1h.75M268.0 51.8h.75M268.0 51.7h.75M268.3 51.9h.75M268.3 51.5h.75M268.5 51.9h.75M268.7 51.9h.75M268.8 51.6h.75M268.8 52.3h.75M268.8 52.0h.75M268.8 52.4h.75M268.9 52.4h.75M269.2 52.2h.75M269.3 52.3h.75M269.3 52.3h.75M269.4 52.5h.75M269.6 52.4h.75M269.7 52.4h.75M269.8 52.4h.75M269.8 52.3h.75M269.9 52.4h.75M270.0 51.5h.75M270.1 52.1h.75M270.4 52.1h.75M270.5 52.2h.75M270.7 52.2h.75M270.9 52.3h.75M270.9 51.9h.75M271.2 52.2h.75M271.3 51.9h.75M271.4 52.2h.75M271.4 52.2h.75M271.5 51.8h.75M271.5 52.3h.75M271.5 51.9h.75M271.7 51.6h.75M271.8 51.9h.75M271.8 52.3h.75M271.8 52.4h.75M271.9 52.0h.75M271.9 52.3h.75M272.0 52.0h.75M272.1 52.2h.75M272.2 52.0h.75M272.3 51.8h.75M272.5 51.8h.75M272.6 52.0h.75M272.6 51.6h.75M272.6 51.6h.75M272.8 52.4h.75M272.8 52.3h.75M272.9 51.9h.75M272.9 52.3h.75M273.0 52.2h.75M273.0 52.0h.75M273.1 51.6h.75M273.1 51.8h.75M273.1 52.1h.75M273.3 52.2h.75M273.4 51.7h.75M273.4 52.4h.75M273.7 52.0h.75M273.7 52.0h.75M273.8 51.7h.75M274.4 52.0h.75M274.5 52.4h.75M274.5 51.5h.75M274.6 52.3h.75M274.6 52.0h.75M274.7 51.8h.75M274.7 52.0h.75M274.8 51.9h.75M274.9 51.7h.75M274.9 52.2h.75M275.0 52.1h.75M275.1 52.5h.75M275.1 52.5h.75M275.2 52.4h.75M275.2 52.4h.75M275.3 51.8h.75M275.3 52.1h.75M275.4 51.9h.75M275.4 52.4h.75M275.4 52.4h.75M275.4 52.1h.75M275.5 51.7h.75M275.5 52.0h.75M275.5 51.9h.75M275.5 51.7h.75M275.6 51.9h.75M275.6 51.9h.75M275.7 51.7h.75M275.7 52.3h.75M275.8 52.3h.75M275.8 52.4h.75M275.8 52.1h.75M275.9 52.5h.75M276.1 52.2h.75M276.3 52.1h.75M276.3 52.3h.75M276.4 51.8h.75M276.4 52.0h.75M276.6 52.2h.75M276.6 52.1h.75M276.6 52.5h.75M276.6 51.9h.75M276.7 51.5h.75M276.8 52.1h.75M276.9 51.9h.75M277.1 51.9h.75M277.1 52.3h.75M277.1 52.2h.75M277.3 51.8h.75M277.3 51.8h.75M277.3 52.1h.75M277.4 51.7h.75M277.5 52.1h.75M277.5 52.4h.75M277.6 51.5h.75M277.6 51.7h.75M277.6 51.6h.75M277.6 52.4h.75M277.6 52.1h.75M277.7 52.2h.75M277.7 51.7h.75M277.7 51.7h.75M277.8 52.3h.75M277.9 52.2h.75M277.9 51.7h.75M277.9 52.3h.75M277.9 51.5h.75M278.0 52.2h.75M278.1 52.2h.75M278.1 52.4h.75M278.2 51.7h.75M278.3 52.3h.75M278.3 52.0h.75M278.4 51.9h.75M278.4 51.8h.75M278.5 51.6h.75M278.7 51.6h.75M278.9 52.4h.75M279.1 52.1h.75M279.2 51.8h.75M279.3 51.8h.75M279.3 52.1h.75M279.3 52.0h.75M279.4 52.0h.75M279.4 51.9h.75M279.7 52.5h.75M279.7 51.7h.75M279.9 52.1h.75M280.0 52.2h.75M280.4 52.2h.75M280.7 51.8h.75M280.7 52.0h.75M280.7 51.7h.75M280.8 52.1h.75M280.8 51.6h.75M280.9 51.6h.75M281.2 51.9h.75M281.3 51.5h.75M281.4 52.0h.75M281.8 52.2h.75M281.9 51.6h.75M282.0 52.0h.75M282.9 52.3h.75M283.6 52.4h.75M283.6 52.3h.75M284.1 52.4h.75M285.2 51.7h.75M285.8 51.9h.75M287.1 51.5h.75M287.5 51.8h.75M289.1 51.5h.75M292.2 52.0h.75M292.6 52.0h.75M224.5 53.3h.75M226.2 52.9h.75M226.3 52.9h.75M226.3 52.7h.75M227.2 53.1h.75M228.7 53.3h.75M229.2 52.8h.75M229.6 52.9h.75M230.5 52.9h.75M230.5 53.3h.75M230.7 52.7h.75M232.1 52.7h.75M232.3 53.1h.75M232.6 53.3h.75M234.5 53.4h.75M235.3 53.3h.75M235.7 52.5h.75M235.9 53.2h.75M236.3 53.2h.75M236.6 53.4h.75M236.8 53.3h.75M238.7 53.4h.75M239.0 53.0h.75M239.4 53.3h.75M239.6 53.2h.75M240.3 53.3h.75M240.5 53.2h.75M243.1 53.4h.75M244.6 53.3h.75M244.7 53.0h.75M244.8 53.0h.75M244.9 52.8h.75M245.1 53.0h.75M245.3 52.6h.75M245.6 53.3h.75M246.3 53.1h.75M246.4 52.9h.75M247.1 52.9h.75M247.2 52.9h.75M247.2 52.6h.75M247.6 52.6h.75M247.6 52.9h.75M247.8 52.6h.75M247.9 53.3h.75M249.5 52.6h.75M249.7 53.2h.75M250.0 52.6h.75M250.3 52.8h.75M250.3 52.7h.75M250.5 53.4h.75M251.4 53.2h.75M251.5 52.9h.75M251.7 53.5h.75M252.0 52.5h.75M252.1 52.6h.75M252.1 53.3h.75M252.1 52.7h.75M252.5 52.9h.75M252.6 53.3h.75M252.7 53.4h.75M253.1 52.6h.75M253.3 52.7h.75M253.5 53.4h.75M253.6 53.4h.75M253.7 53.1h.75M253.7 52.9h.75M254.0 53.5h.75M254.5 52.6h.75M254.6 53.3h.75M255.1 53.4h.75M255.8 52.7h.75M256.2 52.7h.75M256.3 53.2h.75M256.8 53.3h.75M257.9 53.0h.75M258.4 53.2h.75M258.4 52.7h.75M258.7 53.2h.75M259.3 52.9h.75M259.7 53.5h.75M259.9 53.0h.75M260.2 53.2h.75M260.4 53.0h.75M261.0 53.1h.75M261.1 52.8h.75M261.3 53.2h.75M261.4 53.5h.75M261.5 53.2h.75M261.6 53.4h.75M261.9 53.4h.75M262.6 53.4h.75M263.0 53.0h.75M263.1 52.7h.75M263.2 53.5h.75M263.3 53.3h.75M263.4 53.4h.75M263.4 53.2h.75M263.5 52.6h.75M263.6 53.4h.75M263.8 53.2h.75M264.0 53.2h.75M264.0 52.9h.75M264.1 52.7h.75M264.2 52.7h.75M264.3 53.5h.75M264.4 52.5h.75M264.5 52.6h.75M264.5 53.2h.75M264.6 53.5h.75M264.8 52.7h.75M265.3 53.2h.75M265.3 53.1h.75M265.4 52.9h.75M265.4 53.0h.75M265.6 53.2h.75M265.6 52.7h.75M266.0 53.3h.75M266.1 53.0h.75M266.2 53.3h.75M266.6 52.9h.75M266.7 52.8h.75M266.8 52.8h.75M266.8 53.0h.75M266.9 53.4h.75M266.9 52.6h.75M267.0 53.4h.75M267.1 52.8h.75M267.2 52.8h.75M267.3 53.0h.75M267.4 52.6h.75M267.5 53.2h.75M267.6 53.1h.75M267.8 52.9h.75M267.9 53.4h.75M268.0 53.3h.75M268.2 53.4h.75M268.3 53.3h.75M268.4 52.9h.75M268.6 53.0h.75M268.6 53.1h.75M268.6 53.3h.75M268.7 53.2h.75M268.8 53.3h.75M268.8 53.5h.75M268.8 53.4h.75M269.0 53.4h.75M269.0 52.8h.75M269.0 53.3h.75M269.1 53.1h.75M269.3 52.9h.75M269.4 53.5h.75M269.5 53.4h.75M269.5 53.2h.75M269.7 53.0h.75M269.7 53.2h.75M269.7 52.7h.75M269.7 53.0h.75M269.8 53.0h.75M269.8 52.9h.75M269.8 52.7h.75M269.9 52.7h.75M269.9 52.9h.75M270.0 53.0h.75M270.1 52.9h.75M270.1 52.7h.75M270.1 53.4h.75M270.2 53.0h.75M270.3 53.3h.75M270.5 53.4h.75M270.5 52.6h.75M270.6 53.0h.75M270.7 53.3h.75M271.1 53.5h.75M271.3 53.4h.75M271.3 52.7h.75M271.3 52.6h.75M271.4 53.0h.75M271.5 53.0h.75M271.5 53.1h.75M271.6 53.4h.75M271.8 53.3h.75M271.8 53.4h.75M271.9 52.9h.75M272.0 53.1h.75M272.2 52.6h.75M272.2 53.4h.75M272.2 52.7h.75M272.3 52.9h.75M272.4 53.2h.75M272.5 53.2h.75M272.6 53.3h.75M272.7 53.0h.75M272.8 53.5h.75M272.8 53.3h.75M272.9 52.6h.75M272.9 53.0h.75M273.0 52.9h.75M273.1 52.9h.75M273.2 53.2h.75M273.2 52.7h.75M273.2 53.2h.75M273.2 53.2h.75M273.4 53.2h.75M273.5 52.8h.75M273.5 53.4h.75M273.6 53.2h.75M273.6 53.2h.75M273.7 53.0h.75M273.8 53.4h.75M273.8 53.4h.75M273.9 53.0h.75M274.0 53.5h.75M274.0 53.3h.75M274.1 52.7h.75M274.2 52.9h.75M274.2 53.5h.75M274.5 53.2h.75M274.5 52.6h.75M274.5 53.1h.75M274.5 52.9h.75M274.6 53.3h.75M274.6 52.9h.75M274.6 52.9h.75M274.7 52.8h.75M274.8 52.6h.75M274.8 52.5h.75M274.9 52.7h.75M274.9 53.2h.75M275.0 53.1h.75M275.0 52.7h.75M275.0 52.6h.75M275.0 52.7h.75M275.1 52.9h.75M275.2 53.5h.75M275.3 52.6h.75M275.3 53.4h.75M275.4 52.9h.75M275.5 52.7h.75M275.6 52.8h.75M275.6 53.5h.75M275.7 53.5h.75M275.7 52.7h.75M275.8 52.7h.75M275.9 52.8h.75M275.9 52.8h.75M276.0 52.9h.75M276.0 53.3h.75M276.0 53.1h.75M276.1 52.8h.75M276.2 52.9h.75M276.5 52.7h.75M276.6 52.9h.75M276.8 53.1h.75M276.9 53.1h.75M277.2 53.2h.75M277.2 53.5h.75M277.3 52.9h.75M277.5 52.7h.75M277.8 53.1h.75M277.8 53.3h.75M277.8 53.3h.75M278.0 53.2h.75M278.1 53.2h.75M278.2 52.6h.75M278.2 52.7h.75M278.2 53.2h.75M278.3 53.3h.75M278.3 53.1h.75M278.4 52.6h.75M278.4 53.2h.75M278.5 53.1h.75M278.5 52.6h.75M278.5 53.1h.75M278.5 53.3h.75M278.6 52.5h.75M278.8 53.0h.75M279.0 52.7h.75M279.6 52.6h.75M279.7 53.5h.75M279.8 52.6h.75M280.0 53.1h.75M280.1 52.9h.75M280.1 52.7h.75M280.4 53.1h.75M280.5 53.1h.75M280.5 53.0h.75M280.5 53.0h.75M281.6 53.4h.75M282.5 52.8h.75M283.6 53.1h.75M284.5 53.0h.75M284.5 52.8h.75M285.4 53.1h.75M287.7 53.4h.75M288.0 53.3h.75M288.2 52.6h.75M290.2 53.0h.75M293.4 53.4h.75M223.7 53.6h.75M224.5 54.1h.75M224.5 54.2h.75M226.2 53.8h.75M226.9 54.3h.75M226.9 53.6h.75M227.0 54.2h.75M227.2 54.1h.75M228.5 54.5h.75M229.4 53.9h.75M229.9 54.4h.75M230.1 54.3h.75M230.1 53.9h.75M230.1 54.4h.75M230.5 54.2h.75M230.9 54.1h.75M231.3 53.9h.75M231.7 53.6h.75M231.8 54.4h.75M233.0 53.6h.75M233.3 54.5h.75M233.3 53.7h.75M233.8 53.8h.75M234.1 54.5h.75M234.6 53.6h.75M235.2 54.2h.75M235.4 54.4h.75M237.4 54.1h.75M238.0 54.3h.75M238.1 54.2h.75M238.4 54.1h.75M239.0 54.2h.75M239.5 53.9h.75M239.7 53.9h.75M239.7 54.5h.75M240.5 54.5h.75M240.7 54.0h.75M240.8 53.9h.75M240.8 54.1h.75M240.9 54.2h.75M241.3 53.9h.75M241.5 54.1h.75M242.0 54.3h.75M242.1 54.3h.75M242.8 54.3h.75M243.0 54.3h.75M243.4 53.5h.75M243.5 53.9h.75M244.0 54.0h.75M244.7 54.3h.75M244.9 54.3h.75M245.3 53.5h.75M245.4 53.9h.75M246.1 54.2h.75M246.4 54.4h.75M246.5 53.7h.75M246.6 54.1h.75M246.6 54.2h.75M246.9 53.7h.75M247.9 54.3h.75M248.0 54.4h.75M248.0 53.6h.75M248.7 53.6h.75M249.5 53.8h.75M250.2 54.1h.75M250.2 54.1h.75M250.6 53.7h.75M251.1 54.1h.75M251.5 53.8h.75M251.8 54.3h.75M252.0 53.5h.75M252.4 54.4h.75M252.6 54.4h.75M252.7 54.2h.75M252.8 54.0h.75M252.9 54.1h.75M253.2 54.2h.75M253.7 54.2h.75M253.8 54.2h.75M254.5 54.2h.75M254.8 53.8h.75M255.1 54.1h.75M255.2 53.6h.75M255.3 54.3h.75M255.6 53.6h.75M255.6 53.9h.75M256.3 54.4h.75M256.5 54.5h.75M256.7 53.9h.75M256.8 54.2h.75M256.9 53.6h.75M257.0 53.5h.75M257.2 54.1h.75M257.2 53.6h.75M257.5 53.7h.75M257.5 53.8h.75M257.6 53.7h.75M257.6 54.2h.75M257.7 54.2h.75M258.1 54.2h.75M258.2 54.3h.75M258.4 54.3h.75M258.7 53.6h.75M258.7 54.4h.75M259.4 53.9h.75M259.6 54.3h.75M259.7 53.5h.75M259.8 54.4h.75M259.9 54.2h.75M260.1 53.8h.75M260.2 54.2h.75M260.2 53.7h.75M260.5 54.2h.75M260.9 54.2h.75M260.9 53.6h.75M261.0 53.5h.75M261.2 53.9h.75M261.3 54.1h.75M261.3 54.2h.75M261.4 54.3h.75M261.5 53.7h.75M261.6 54.2h.75M261.7 54.2h.75M262.1 54.4h.75M262.5 54.3h.75M262.9 54.3h.75M262.9 53.6h.75M263.0 53.8h.75M263.0 54.2h.75M263.1 54.0h.75M263.1 54.2h.75M263.2 54.4h.75M263.2 54.3h.75M263.5 54.2h.75M263.5 54.4h.75M263.6 54.4h.75M263.7 54.5h.75M263.8 54.4h.75M263.9 54.2h.75M264.0 54.3h.75M264.1 53.6h.75M264.3 54.0h.75M264.4 53.9h.75M264.4 54.4h.75M264.5 54.5h.75M264.6 54.2h.75M264.7 54.0h.75M265.0 53.8h.75M265.0 53.8h.75M265.1 54.2h.75M265.2 54.3h.75M265.2 53.9h.75M265.5 54.0h.75M265.5 53.7h.75M265.6 53.6h.75M265.7 54.4h.75M265.7 54.2h.75M265.9 54.3h.75M266.1 54.0h.75M266.2 54.4h.75M266.2 53.9h.75M266.3 53.5h.75M266.7 54.0h.75M266.7 54.3h.75M266.7 54.3h.75M266.8 53.7h.75M266.9 53.7h.75M267.0 53.7h.75M267.1 53.8h.75M267.2 53.9h.75M267.2 54.0h.75M267.2 53.7h.75M267.2 53.8h.75M267.3 54.1h.75M267.4 53.6h.75M267.4 54.3h.75M267.4 53.6h.75M267.6 53.9h.75M267.6 54.4h.75M267.7 53.8h.75M267.7 53.6h.75M267.8 54.3h.75M267.9 53.5h.75M267.9 53.6h.75M268.0 53.8h.75M268.1 54.5h.75M268.1 53.7h.75M268.2 54.2h.75M268.2 54.0h.75M268.2 54.0h.75M268.5 53.9h.75M268.8 54.3h.75M268.9 53.6h.75M268.9 53.9h.75M269.0 54.1h.75M269.1 54.4h.75M269.1 53.5h.75M269.2 54.0h.75M269.2 53.8h.75M269.2 53.6h.75M269.5 54.0h.75M269.5 53.9h.75M269.6 53.9h.75M269.6 54.1h.75M269.6 53.8h.75M269.7 54.4h.75M269.7 54.5h.75M269.7 53.9h.75M269.7 54.5h.75M269.9 53.6h.75M269.9 54.1h.75M269.9 54.4h.75M270.0 54.1h.75M270.1 54.3h.75M270.2 54.1h.75M270.2 54.3h.75M270.3 54.2h.75M270.3 54.4h.75M270.5 54.4h.75M270.5 54.3h.75M270.5 54.0h.75M270.7 54.5h.75M270.7 54.2h.75M270.7 54.4h.75M270.7 53.8h.75M270.7 54.3h.75M270.7 54.1h.75M270.9 53.8h.75M270.9 54.4h.75M271.0 53.6h.75M271.0 54.1h.75M271.0 54.0h.75M271.0 54.5h.75M271.1 54.0h.75M271.2 53.5h.75M271.2 53.7h.75M271.3 54.1h.75M271.3 54.2h.75M271.4 53.6h.75M271.5 54.3h.75M271.5 53.8h.75M271.8 53.5h.75M271.9 53.5h.75M271.9 54.2h.75M272.0 53.7h.75M272.0 53.6h.75M272.3 54.4h.75M272.3 54.0h.75M272.4 53.7h.75M272.4 54.0h.75M272.4 54.4h.75M272.4 53.6h.75M272.6 54.2h.75M272.6 53.5h.75M272.6 53.6h.75M272.6 53.9h.75M272.8 54.4h.75M272.8 54.1h.75M272.8 53.9h.75M272.8 54.0h.75M272.9 53.7h.75M273.1 53.6h.75M273.2 53.7h.75M273.2 53.6h.75M273.2 53.5h.75M273.3 53.7h.75M273.3 54.3h.75M273.4 53.7h.75M273.4 54.4h.75M273.4 54.0h.75M273.4 53.6h.75M273.4 54.0h.75M273.5 54.4h.75M273.6 53.7h.75M273.7 53.5h.75M274.0 54.3h.75M274.2 54.3h.75M274.3 54.3h.75M274.3 54.2h.75M274.4 53.9h.75M274.4 54.2h.75M274.4 53.6h.75M274.5 53.6h.75M274.6 54.5h.75M274.6 53.6h.75M274.7 53.7h.75M274.7 54.2h.75M274.7 53.7h.75M274.7 54.1h.75M274.8 54.0h.75M274.8 53.9h.75M274.8 54.1h.75M274.8 53.7h.75M274.9 54.2h.75M275.0 54.4h.75M275.0 54.0h.75M275.1 54.4h.75M275.2 54.4h.75M275.2 53.8h.75M275.3 53.9h.75M275.3 53.6h.75M275.3 54.0h.75M275.3 54.2h.75M275.4 53.8h.75M275.4 53.5h.75M275.5 54.3h.75M275.5 53.8h.75M275.6 54.3h.75M275.7 53.8h.75M275.9 53.8h.75M275.9 54.1h.75M275.9 53.8h.75M276.0 54.2h.75M276.0 53.9h.75M276.0 54.0h.75M276.1 53.7h.75M276.1 54.1h.75M276.1 54.2h.75M276.2 53.7h.75M276.3 53.8h.75M276.4 54.4h.75M276.4 54.0h.75M276.5 53.8h.75M276.6 54.1h.75M276.7 53.8h.75M276.9 54.1h.75M276.9 53.6h.75M276.9 53.8h.75M277.0 53.8h.75M277.2 54.1h.75M277.4 53.9h.75M277.4 53.7h.75M277.7 53.5h.75M277.7 53.9h.75M277.8 54.1h.75M277.8 53.7h.75M277.9 54.2h.75M277.9 53.9h.75M278.2 53.7h.75M278.2 54.1h.75M278.4 54.3h.75M278.5 53.9h.75M278.6 53.9h.75M278.9 54.0h.75M278.9 54.2h.75M279.0 53.8h.75M279.2 53.7h.75M279.3 54.2h.75M279.5 53.5h.75M279.8 53.9h.75M279.8 53.8h.75M280.0 54.0h.75M280.1 53.5h.75M280.3 54.0h.75M280.7 54.5h.75M280.7 53.8h.75M281.0 54.3h.75M281.9 53.8h.75M281.9 54.3h.75M282.3 53.6h.75M283.0 54.2h.75M283.1 54.0h.75M284.4 53.9h.75M285.1 53.5h.75M286.0 54.1h.75M286.8 53.6h.75M287.3 53.6h.75M224.8 54.6h.75M224.8 54.5h.75M226.1 55.2h.75M226.5 55.4h.75M226.5 54.6h.75M226.6 54.7h.75M226.7 55.2h.75M227.3 55.3h.75M227.5 55.5h.75M229.2 54.7h.75M230.1 55.2h.75M230.4 54.5h.75M230.5 55.3h.75M230.8 55.2h.75M231.0 54.7h.75M231.6 55.2h.75M231.7 55.2h.75M231.8 55.5h.75M232.0 54.6h.75M232.1 54.6h.75M232.2 54.5h.75M232.4 54.6h.75M233.0 54.6h.75M233.7 54.8h.75M233.7 55.5h.75M234.3 54.5h.75M234.6 55.0h.75M235.1 54.8h.75M235.4 55.0h.75M235.6 55.2h.75M236.0 55.4h.75M236.1 55.3h.75M236.1 55.1h.75M236.2 55.0h.75M236.2 55.0h.75M236.4 55.4h.75M236.7 55.2h.75M236.9 55.4h.75M237.3 55.0h.75M237.5 54.8h.75M237.7 55.1h.75M237.8 54.6h.75M238.6 54.5h.75M238.7 54.7h.75M238.9 55.2h.75M239.0 55.0h.75M239.1 54.6h.75M239.2 54.7h.75M239.3 54.5h.75M239.7 54.8h.75M240.7 55.5h.75M240.8 55.4h.75M241.5 55.1h.75M242.1 54.8h.75M242.7 54.5h.75M242.9 55.3h.75M243.0 55.4h.75M243.0 54.5h.75M243.2 55.2h.75M243.6 55.2h.75M243.7 55.5h.75M243.9 55.0h.75M245.2 55.5h.75M245.9 55.1h.75M246.6 55.5h.75M247.2 55.4h.75M247.4 54.9h.75M247.4 54.7h.75M247.9 55.4h.75M247.9 55.0h.75M248.1 55.0h.75M248.4 54.6h.75M248.5 55.0h.75M249.0 54.7h.75M249.3 54.9h.75M249.4 55.4h.75M249.5 55.0h.75M249.9 54.9h.75M250.0 54.8h.75M250.4 54.9h.75M250.5 55.2h.75M250.8 55.4h.75M251.2 55.0h.75M251.6 55.3h.75M251.7 54.5h.75M251.8 55.2h.75M252.3 55.5h.75M252.6 54.8h.75M252.9 55.2h.75M253.1 55.2h.75M253.1 55.5h.75M253.2 55.2h.75M253.6 54.7h.75M254.3 54.5h.75M254.3 55.1h.75M254.7 54.7h.75M254.8 55.3h.75M255.2 54.8h.75M255.2 54.8h.75M255.3 55.0h.75M255.4 55.4h.75M255.6 54.9h.75M255.9 55.4h.75M256.1 54.6h.75M256.2 55.3h.75M256.5 55.0h.75M256.5 54.8h.75M256.6 54.6h.75M256.8 54.5h.75M256.9 55.2h.75M257.4 54.8h.75M257.9 55.0h.75M258.2 55.0h.75M258.3 55.2h.75M258.3 55.0h.75M258.3 54.9h.75M258.4 54.6h.75M258.5 54.7h.75M258.8 55.2h.75M258.8 55.5h.75M258.9 55.0h.75M259.0 54.8h.75M259.0 54.5h.75M259.2 55.2h.75M259.2 55.0h.75M259.4 54.8h.75M259.7 55.3h.75M260.2 55.5h.75M260.2 54.5h.75M260.4 54.7h.75M260.4 55.5h.75M261.0 55.3h.75M261.1 55.0h.75M261.2 54.7h.75M261.3 54.6h.75M261.3 54.5h.75M261.4 55.0h.75M261.4 55.3h.75M261.5 54.6h.75M261.6 54.7h.75M262.0 55.1h.75M262.0 55.2h.75M262.1 55.3h.75M262.1 55.3h.75M262.2 55.0h.75M262.3 55.1h.75M262.4 54.8h.75M262.5 54.9h.75M262.9 55.1h.75M263.1 54.8h.75M263.1 54.8h.75M263.2 55.1h.75M263.2 54.8h.75M263.2 54.8h.75M263.4 55.0h.75M263.5 55.1h.75M263.7 55.0h.75M263.7 54.8h.75M264.1 54.8h.75M264.1 55.4h.75M264.2 54.6h.75M264.2 55.4h.75M264.3 54.9h.75M264.4 55.5h.75M264.6 55.0h.75M264.6 55.0h.75M264.6 55.3h.75M264.7 55.0h.75M264.8 54.8h.75M264.8 55.0h.75M264.8 55.4h.75M264.9 54.7h.75M264.9 54.7h.75M265.1 55.5h.75M265.2 55.1h.75M265.3 54.8h.75M265.3 54.7h.75M265.5 55.2h.75M265.7 54.5h.75M265.8 55.1h.75M265.8 54.9h.75M265.8 55.2h.75M265.9 55.5h.75M266.0 55.3h.75M266.1 54.7h.75M266.2 54.8h.75M266.2 55.4h.75M266.3 55.3h.75M266.5 54.7h.75M266.5 55.2h.75M266.5 55.2h.75M266.6 55.3h.75M266.6 54.9h.75M266.7 55.2h.75M266.7 54.8h.75M266.7 54.9h.75M266.7 54.7h.75M267.1 55.3h.75M267.2 55.3h.75M267.2 55.1h.75M267.3 54.6h.75M267.4 55.1h.75M267.4 54.9h.75M267.4 55.4h.75M267.5 54.8h.75M267.6 54.7h.75M267.6 55.3h.75M267.6 54.7h.75M267.7 54.5h.75M267.9 54.8h.75M268.0 55.5h.75M268.2 54.7h.75M268.2 55.0h.75M268.4 55.4h.75M268.4 55.2h.75M268.5 54.9h.75M268.7 55.2h.75M268.8 54.9h.75M268.8 55.2h.75M268.9 55.3h.75M269.0 55.3h.75M269.0 54.6h.75M269.0 55.0h.75M269.1 54.7h.75M269.3 54.5h.75M269.4 55.3h.75M269.4 55.1h.75M269.4 55.1h.75M269.4 55.2h.75M269.5 54.7h.75M269.7 54.8h.75M269.8 55.1h.75M269.8 55.0h.75M269.8 55.2h.75M269.8 55.0h.75M269.9 54.8h.75M269.9 55.4h.75M269.9 55.1h.75M269.9 54.8h.75M270.1 55.2h.75M270.1 54.7h.75M270.2 54.8h.75M270.2 54.5h.75M270.2 54.6h.75M270.4 55.2h.75M270.5 54.9h.75M270.5 55.2h.75M270.5 55.0h.75M270.6 55.0h.75M270.6 54.5h.75M270.7 54.7h.75M270.7 55.3h.75M270.8 54.8h.75M271.0 55.3h.75M271.1 55.1h.75M271.1 55.0h.75M271.1 55.0h.75M271.1 55.4h.75M271.4 54.9h.75M271.6 55.4h.75M271.7 55.1h.75M271.7 54.7h.75M271.7 55.2h.75M271.7 54.8h.75M271.9 54.6h.75M272.0 54.9h.75M272.0 54.7h.75M272.0 54.8h.75M272.0 54.8h.75M272.1 54.8h.75M272.1 55.4h.75M272.1 55.0h.75M272.2 54.7h.75M272.3 55.0h.75M272.3 54.8h.75M272.4 55.3h.75M272.4 55.3h.75M272.5 55.0h.75M272.6 54.5h.75M272.6 55.3h.75M272.7 55.0h.75M272.7 55.3h.75M272.7 55.1h.75M272.8 54.5h.75M272.9 54.9h.75M272.9 54.8h.75M272.9 54.5h.75M273.0 54.6h.75M273.0 55.3h.75M273.1 54.8h.75M273.2 55.3h.75M273.2 54.6h.75M273.3 55.5h.75M273.5 55.0h.75M273.7 55.3h.75M273.7 55.1h.75M273.7 55.0h.75M273.8 55.1h.75M273.9 54.9h.75M274.0 54.6h.75M274.1 55.3h.75M274.2 54.5h.75M274.3 55.3h.75M274.3 54.7h.75M274.4 55.3h.75M274.4 55.0h.75M274.4 54.7h.75M274.4 54.9h.75M274.4 55.1h.75M274.5 54.7h.75M274.6 54.8h.75M274.6 55.1h.75M274.8 55.3h.75M274.8 55.4h.75M274.9 55.3h.75M274.9 54.8h.75M274.9 55.1h.75M275.0 54.8h.75M275.3 55.0h.75M275.3 55.1h.75M275.6 55.1h.75M275.7 55.1h.75M275.7 55.2h.75M275.7 55.2h.75M275.8 54.7h.75M275.9 55.1h.75M275.9 54.7h.75M275.9 54.7h.75M276.1 55.0h.75M276.1 54.8h.75M276.2 55.0h.75M276.4 54.7h.75M276.5 54.9h.75M276.6 54.7h.75M276.6 54.7h.75M276.7 55.0h.75M276.7 55.0h.75M277.0 55.5h.75M277.1 54.9h.75M277.2 55.0h.75M277.2 54.6h.75M277.4 54.6h.75M277.4 55.2h.75M277.5 55.1h.75M277.5 54.7h.75M277.6 54.6h.75M277.6 54.6h.75M277.7 55.1h.75M277.8 54.5h.75M278.1 55.3h.75M278.8 55.2h.75M279.0 54.8h.75M279.2 55.0h.75M279.4 55.4h.75M280.6 54.9h.75M280.8 54.7h.75M281.0 55.4h.75M281.3 54.8h.75M281.7 55.0h.75M281.9 54.8h.75M282.1 54.8h.75M282.2 55.2h.75M282.4 54.8h.75M283.1 55.0h.75M283.2 55.1h.75M283.6 54.9h.75M284.0 54.5h.75M288.9 54.8h.75M296.8 55.3h.75M223.2 56.2h.75M223.9 56.4h.75M225.9 55.9h.75M226.8 56.1h.75M228.1 56.4h.75M228.4 55.6h.75M228.5 56.3h.75M229.5 55.7h.75M230.0 56.2h.75M230.0 55.8h.75M230.7 56.2h.75M231.5 56.0h.75M231.7 55.8h.75M231.9 56.3h.75M232.4 55.7h.75M232.6 55.5h.75M232.7 55.9h.75M232.9 56.4h.75M233.3 55.5h.75M233.3 56.0h.75M233.9 56.0h.75M234.0 56.3h.75M234.1 55.5h.75M234.2 56.1h.75M234.4 55.8h.75M234.6 55.8h.75M234.9 56.5h.75M234.9 56.0h.75M235.2 55.8h.75M235.3 55.7h.75M235.5 55.9h.75M235.6 56.4h.75M236.2 55.9h.75M236.2 56.1h.75M236.3 56.1h.75M236.5 55.7h.75M236.7 56.4h.75M236.9 56.4h.75M236.9 56.4h.75M237.0 56.4h.75M237.1 55.9h.75M237.7 55.6h.75M237.8 56.0h.75M237.8 56.3h.75M238.0 55.6h.75M238.1 56.1h.75M238.1 55.5h.75M238.8 55.9h.75M239.4 56.1h.75M239.7 55.7h.75M241.5 55.5h.75M242.2 56.2h.75M242.3 56.0h.75M242.6 56.3h.75M243.0 56.0h.75M243.1 56.3h.75M243.2 55.7h.75M243.3 55.5h.75M243.6 56.5h.75M243.7 55.7h.75M244.1 55.9h.75M244.2 55.6h.75M244.2 55.9h.75M244.2 55.6h.75M244.7 56.2h.75M245.3 56.1h.75M245.4 56.4h.75M245.9 55.6h.75M245.9 56.0h.75M246.2 55.9h.75M246.5 56.5h.75M246.5 56.0h.75M246.6 55.6h.75M247.2 56.0h.75M247.2 55.7h.75M247.2 56.3h.75M247.2 56.3h.75M247.2 55.6h.75M247.4 56.2h.75M247.6 55.8h.75M247.7 56.4h.75M247.7 55.9h.75M247.9 56.2h.75M248.1 55.5h.75M248.1 56.1h.75M248.2 56.1h.75M248.2 55.9h.75M248.3 55.6h.75M248.4 55.8h.75M248.6 55.9h.75M248.6 55.6h.75M248.7 55.8h.75M249.1 56.3h.75M249.7 56.4h.75M250.7 56.4h.75M251.1 55.7h.75M251.1 55.8h.75M251.3 55.7h.75M251.5 55.7h.75M251.6 56.0h.75M251.9 55.7h.75M252.2 56.2h.75M252.3 56.3h.75M252.8 56.3h.75M253.1 56.4h.75M253.7 56.5h.75M253.8 56.2h.75M253.8 56.2h.75M253.9 55.5h.75M253.9 56.2h.75M254.2 56.0h.75M254.5 56.0h.75M254.6 56.3h.75M254.9 55.8h.75M255.0 56.2h.75M255.3 56.1h.75M255.4 55.5h.75M255.5 56.1h.75M255.7 56.0h.75M255.9 56.0h.75M255.9 56.2h.75M256.2 56.2h.75M256.5 55.6h.75M257.1 56.1h.75M257.1 55.9h.75M257.6 55.9h.75M257.9 56.0h.75M258.2 55.5h.75M258.3 56.5h.75M258.4 56.3h.75M258.4 56.0h.75M258.4 56.5h.75M258.5 55.9h.75M258.8 56.5h.75M259.1 55.9h.75M259.1 55.6h.75M259.4 56.2h.75M259.5 56.3h.75M259.7 56.2h.75M259.7 56.2h.75M259.9 56.1h.75M260.0 55.7h.75M260.3 55.5h.75M260.5 55.8h.75M260.8 55.8h.75M260.8 56.4h.75M261.1 56.2h.75M261.3 56.3h.75M261.5 56.1h.75M261.5 55.5h.75M261.6 56.4h.75M261.6 56.4h.75M261.7 55.9h.75M261.8 55.8h.75M261.8 55.5h.75M261.9 56.2h.75M262.0 56.5h.75M262.5 55.5h.75M262.6 56.3h.75M262.6 55.7h.75M262.7 55.6h.75M262.8 56.2h.75M263.2 56.0h.75M263.4 56.0h.75M263.5 55.8h.75M263.6 56.0h.75M263.7 56.0h.75M263.7 56.3h.75M263.7 56.3h.75M263.9 55.6h.75M263.9 55.6h.75M263.9 55.7h.75M264.2 56.0h.75M264.3 55.9h.75M264.4 56.4h.75M264.5 56.1h.75M264.5 56.3h.75M264.6 56.0h.75M264.7 56.2h.75M264.7 55.9h.75M265.0 55.9h.75M265.1 56.5h.75M265.1 56.4h.75M265.2 56.5h.75M265.3 55.9h.75M265.3 55.9h.75M265.3 56.0h.75M265.3 56.1h.75M265.3 55.8h.75M265.4 55.7h.75M265.4 56.0h.75M265.4 55.8h.75M265.7 55.5h.75M265.9 56.3h.75M265.9 55.8h.75M266.0 55.7h.75M266.0 56.1h.75M266.1 55.7h.75M266.1 55.6h.75M266.2 56.4h.75M266.2 56.3h.75M266.3 56.2h.75M266.3 56.1h.75M266.3 56.4h.75M266.4 56.3h.75M266.5 55.8h.75M266.5 55.9h.75M266.6 56.2h.75M266.7 55.9h.75M266.7 56.1h.75M266.8 56.3h.75M266.8 56.1h.75M266.9 56.2h.75M267.0 56.0h.75M267.0 55.6h.75M267.1 55.7h.75M267.3 56.4h.75M267.4 56.0h.75M267.5 55.9h.75M267.6 56.4h.75M267.6 56.2h.75M267.7 55.8h.75M267.7 55.8h.75M267.7 55.9h.75M267.7 56.4h.75M267.8 56.3h.75M267.8 56.4h.75M267.9 55.5h.75M267.9 56.3h.75M268.0 55.9h.75M268.1 55.9h.75M268.3 55.8h.75M268.4 56.0h.75M268.4 56.5h.75M268.5 56.0h.75M268.6 56.3h.75M268.7 55.8h.75M268.8 56.4h.75M268.9 56.5h.75M269.1 56.2h.75M269.2 56.3h.75M269.4 55.8h.75M269.4 56.5h.75M269.5 55.5h.75M269.7 55.6h.75M269.8 55.8h.75M269.8 55.9h.75M269.8 55.6h.75M270.1 56.3h.75M270.2 55.6h.75M270.2 55.5h.75M270.2 56.2h.75M270.3 55.8h.75M270.3 56.2h.75M270.4 56.2h.75M270.4 56.2h.75M270.4 56.3h.75M270.5 56.2h.75M270.6 55.6h.75M270.6 55.9h.75M270.6 55.9h.75M270.7 55.9h.75M270.7 56.2h.75M270.8 56.3h.75M270.8 55.9h.75M270.8 56.1h.75M270.8 55.6h.75M271.0 56.4h.75M271.0 56.4h.75M271.2 56.5h.75M271.3 55.6h.75M271.3 55.9h.75M271.4 55.9h.75M271.5 55.6h.75M271.6 55.9h.75M271.8 56.1h.75M271.9 56.1h.75M271.9 55.7h.75M272.0 55.7h.75M272.0 55.6h.75M272.2 56.5h.75M272.3 56.1h.75M272.3 56.4h.75M272.4 56.3h.75M272.7 56.2h.75M272.7 56.3h.75M272.7 56.0h.75M272.8 55.7h.75M272.9 56.1h.75M272.9 55.9h.75M272.9 55.7h.75M273.0 55.5h.75M273.0 55.5h.75M273.2 56.0h.75M273.4 56.1h.75M273.4 55.5h.75M273.8 56.1h.75M273.9 55.7h.75M274.0 56.2h.75M274.0 56.0h.75M274.0 56.5h.75M274.0 56.5h.75M274.1 55.8h.75M274.1 56.3h.75M274.2 55.9h.75M274.3 55.8h.75M274.3 56.1h.75M274.5 55.5h.75M274.6 55.6h.75M274.6 55.6h.75M274.7 56.2h.75M274.8 55.7h.75M274.9 56.2h.75M274.9 55.9h.75M275.1 56.0h.75M275.1 56.1h.75M275.4 55.6h.75M275.5 56.0h.75M275.5 55.6h.75M275.6 56.4h.75M275.9 55.7h.75M276.1 55.5h.75M276.2 56.0h.75M276.3 56.3h.75M276.7 55.8h.75M276.8 55.5h.75M276.9 56.2h.75M276.9 55.7h.75M277.1 56.4h.75M277.1 55.9h.75M277.7 56.2h.75M277.8 56.0h.75M277.9 55.6h.75M278.2 56.1h.75M278.4 56.0h.75M278.6 55.6h.75M278.6 56.3h.75M278.6 55.5h.75M278.8 56.0h.75M279.2 55.5h.75M279.5 55.7h.75M279.6 55.9h.75M280.4 55.7h.75M281.5 56.1h.75M282.5 55.5h.75M282.8 56.0h.75M283.2 55.6h.75M285.6 55.9h.75M287.0 56.0h.75M289.6 56.0h.75M290.6 55.6h.75M225.1 57.3h.75M225.2 56.5h.75M226.3 56.6h.75M226.7 56.9h.75M228.6 57.2h.75M228.8 57.2h.75M229.9 57.0h.75M229.9 57.0h.75M229.9 56.9h.75M230.9 56.5h.75M231.9 57.4h.75M231.9 56.9h.75M232.3 56.9h.75M232.6 57.4h.75M232.6 56.8h.75M233.1 56.9h.75M233.2 57.5h.75M233.3 56.8h.75M233.4 56.9h.75M233.4 57.2h.75M233.6 56.7h.75M233.7 57.0h.75M234.7 57.2h.75M234.8 57.3h.75M235.4 56.6h.75M235.5 57.4h.75M236.0 57.1h.75M236.1 56.8h.75M236.2 56.7h.75M236.4 57.3h.75M236.5 57.0h.75M236.6 57.2h.75M236.8 57.0h.75M236.9 57.0h.75M237.0 56.8h.75M237.0 56.7h.75M237.5 57.3h.75M237.9 56.9h.75M238.0 56.6h.75M238.9 57.1h.75M239.0 57.1h.75M239.0 57.2h.75M239.3 56.9h.75M239.4 57.1h.75M240.0 56.8h.75M240.2 56.6h.75M240.2 57.3h.75M240.4 56.6h.75M240.4 56.7h.75M240.8 56.7h.75M241.0 57.4h.75M241.1 57.3h.75M241.2 57.0h.75M241.7 56.9h.75M242.1 56.8h.75M242.3 57.1h.75M242.4 57.4h.75M242.4 57.3h.75M242.8 57.0h.75M243.0 57.1h.75M243.0 57.2h.75M243.4 56.6h.75M243.9 56.7h.75M244.0 57.3h.75M244.1 56.9h.75M244.4 57.0h.75M244.6 56.8h.75M244.7 56.9h.75M245.0 57.3h.75M245.1 57.1h.75M245.1 56.9h.75M245.2 56.9h.75M245.4 57.1h.75M245.4 57.3h.75M245.8 56.9h.75M246.4 57.0h.75M246.5 57.2h.75M247.9 56.8h.75M248.5 56.7h.75M248.6 56.6h.75M249.5 56.9h.75M249.6 57.1h.75M249.9 57.0h.75M250.1 56.9h.75M250.1 56.8h.75M250.3 57.1h.75M250.3 57.2h.75M250.7 57.0h.75M250.8 56.9h.75M251.0 56.8h.75M251.1 56.7h.75M251.3 56.7h.75M251.4 56.7h.75M251.4 57.0h.75M251.5 57.1h.75M251.7 57.4h.75M252.0 57.0h.75M252.1 56.8h.75M252.6 57.3h.75M254.0 57.2h.75M254.3 56.7h.75M254.5 56.8h.75M254.5 57.1h.75M254.6 57.4h.75M254.7 56.6h.75M254.9 56.7h.75M255.0 57.2h.75M255.4 57.0h.75M256.1 57.4h.75M256.1 57.4h.75M256.3 57.1h.75M256.4 57.5h.75M257.2 57.2h.75M257.5 57.3h.75M257.8 57.0h.75M257.8 57.0h.75M257.9 56.5h.75M258.0 56.5h.75M258.1 57.2h.75M258.2 57.2h.75M258.4 56.8h.75M258.4 56.9h.75M258.5 56.6h.75M258.6 57.3h.75M258.6 56.5h.75M258.6 56.7h.75M258.8 56.9h.75M258.8 57.4h.75M258.9 57.4h.75M259.1 57.2h.75M259.3 57.2h.75M259.4 56.7h.75M259.5 56.8h.75M259.6 56.6h.75M259.6 56.9h.75M259.7 57.2h.75M259.7 56.8h.75M259.8 57.3h.75M259.9 56.6h.75M260.0 57.5h.75M260.0 57.3h.75M260.0 57.1h.75M260.1 56.8h.75M260.3 56.5h.75M260.5 57.1h.75M260.7 56.6h.75M260.9 57.1h.75M260.9 57.0h.75M260.9 56.7h.75M261.1 57.4h.75M261.2 57.4h.75M261.3 57.1h.75M261.3 57.4h.75M261.5 57.0h.75M261.6 57.1h.75M261.6 56.8h.75M261.7 57.2h.75M261.8 57.3h.75M261.8 56.7h.75M261.8 57.0h.75M261.8 57.0h.75M261.8 57.3h.75M261.9 56.7h.75M262.0 56.7h.75M262.0 57.1h.75M262.0 56.9h.75M262.2 57.0h.75M262.2 57.2h.75M262.2 56.9h.75M262.3 57.4h.75M262.3 56.7h.75M262.4 57.3h.75M262.5 57.1h.75M262.5 57.1h.75M262.6 56.5h.75M262.7 57.2h.75M262.7 57.0h.75M262.7 56.8h.75M262.8 56.6h.75M262.8 57.0h.75M263.0 56.5h.75M263.1 56.7h.75M263.1 56.8h.75M263.1 56.9h.75M263.2 56.9h.75M263.2 56.8h.75M263.2 56.8h.75M263.2 57.4h.75M263.4 57.2h.75M263.4 57.1h.75M263.8 57.2h.75M263.8 57.2h.75M263.9 57.3h.75M263.9 57.0h.75M263.9 57.2h.75M264.1 56.9h.75M264.1 56.9h.75M264.2 56.8h.75M264.2 57.1h.75M264.4 57.2h.75M264.7 57.3h.75M264.8 57.5h.75M264.9 57.0h.75M265.0 56.8h.75M265.0 57.3h.75M265.0 57.4h.75M265.2 57.2h.75M265.2 56.6h.75M265.2 57.5h.75M265.2 57.2h.75M265.3 56.6h.75M265.3 56.6h.75M265.4 56.9h.75M265.5 56.5h.75M265.5 57.0h.75M265.6 57.3h.75M265.6 57.3h.75M265.6 56.5h.75M265.6 57.3h.75M265.6 57.4h.75M265.7 57.4h.75M265.7 56.6h.75M265.8 57.2h.75M265.8 56.8h.75M265.8 57.3h.75M266.0 57.4h.75M266.0 57.0h.75M266.1 57.3h.75M266.1 56.7h.75M266.2 57.2h.75M266.2 57.4h.75M266.2 57.3h.75M266.5 57.2h.75M266.7 57.0h.75M266.7 56.5h.75M266.8 56.8h.75M266.8 57.3h.75M266.8 56.8h.75M266.9 57.1h.75M266.9 57.0h.75M266.9 56.9h.75M266.9 56.6h.75M267.0 57.4h.75M267.0 57.0h.75M267.0 56.9h.75M267.1 57.0h.75M267.2 57.4h.75M267.2 56.8h.75M267.3 56.9h.75M267.4 57.1h.75M267.5 57.1h.75M267.6 56.8h.75M267.7 56.9h.75M267.7 56.7h.75M267.7 57.4h.75M267.8 57.1h.75M267.9 57.0h.75M268.0 57.3h.75M268.0 56.6h.75M268.2 56.5h.75M268.2 57.2h.75M268.4 56.9h.75M268.4 56.6h.75M268.6 56.9h.75M268.6 56.5h.75M268.7 57.2h.75M268.7 57.0h.75M268.8 57.1h.75M269.1 56.7h.75M269.2 56.6h.75M269.2 56.6h.75M269.3 57.5h.75M269.3 57.0h.75M269.4 56.8h.75M269.5 57.3h.75M269.5 56.6h.75M269.7 57.2h.75M269.7 57.3h.75M269.9 57.4h.75M270.0 57.0h.75M270.2 56.9h.75M270.3 56.6h.75M270.3 56.7h.75M270.3 57.0h.75M270.3 56.9h.75M270.3 56.8h.75M270.3 57.5h.75M270.5 57.0h.75M270.5 57.1h.75M270.6 56.5h.75M270.6 56.9h.75M270.7 56.8h.75M270.9 57.2h.75M271.1 56.8h.75M271.2 57.3h.75M271.4 56.9h.75M271.5 57.0h.75M271.5 57.1h.75M271.5 57.2h.75M271.6 57.1h.75M271.6 57.2h.75M271.6 56.7h.75M271.6 57.3h.75M271.7 56.6h.75M271.8 57.1h.75M271.9 56.7h.75M271.9 57.1h.75M271.9 57.0h.75M272.0 56.9h.75M272.1 57.1h.75M272.6 57.2h.75M272.8 56.8h.75M272.8 56.5h.75M273.0 56.7h.75M273.0 56.5h.75M273.0 57.0h.75M273.0 57.1h.75M273.3 56.9h.75M273.3 57.0h.75M273.3 56.7h.75M273.4 56.6h.75M273.6 57.3h.75M273.6 57.0h.75M273.7 56.7h.75M273.9 56.8h.75M273.9 57.2h.75M274.1 56.6h.75M274.1 57.4h.75M274.1 56.7h.75M274.2 57.3h.75M274.2 57.1h.75M274.2 57.3h.75M274.2 56.8h.75M274.5 57.5h.75M274.6 56.9h.75M274.7 57.3h.75M274.9 56.8h.75M275.2 56.6h.75M275.6 56.8h.75M275.7 56.6h.75M276.0 57.4h.75M276.0 56.6h.75M276.3 57.1h.75M276.5 57.1h.75M276.8 57.2h.75M276.8 56.8h.75M276.9 56.7h.75M277.6 56.5h.75M277.7 56.8h.75M277.9 57.3h.75M278.6 57.2h.75M278.8 56.8h.75M279.0 57.0h.75M279.8 56.8h.75M280.6 56.8h.75M280.8 56.7h.75M281.4 56.9h.75M281.6 56.9h.75M282.9 57.0h.75M282.9 56.6h.75M283.7 57.2h.75M283.9 56.6h.75M284.0 57.2h.75M286.0 57.1h.75M288.6 57.3h.75M230.5 57.6h.75M230.7 58.4h.75M231.0 57.8h.75M231.3 58.0h.75M231.7 58.1h.75M232.1 58.3h.75M233.7 57.7h.75M234.7 57.6h.75M235.3 57.7h.75M235.9 58.5h.75M236.3 57.9h.75M237.1 57.9h.75M237.4 58.4h.75M237.7 58.3h.75M238.7 58.3h.75M239.0 58.3h.75M239.9 58.2h.75M240.3 57.6h.75M240.9 58.0h.75M241.5 58.3h.75M241.8 57.8h.75M242.0 57.7h.75M243.1 57.9h.75M243.1 58.2h.75M243.3 57.5h.75M243.3 57.6h.75M243.5 57.6h.75M243.6 57.6h.75M243.7 57.6h.75M243.8 58.4h.75M244.0 57.6h.75M244.1 57.9h.75M244.2 58.3h.75M244.3 58.1h.75M244.4 57.7h.75M244.4 58.1h.75M244.7 57.5h.75M244.7 57.8h.75M245.7 57.5h.75M245.7 57.5h.75M245.9 57.7h.75M245.9 57.8h.75M246.1 58.1h.75M246.1 58.0h.75M246.1 58.2h.75M246.5 58.2h.75M247.3 57.8h.75M247.3 58.2h.75M247.8 57.8h.75M248.0 57.9h.75M248.0 57.7h.75M248.1 57.6h.75M248.5 57.7h.75M248.8 58.1h.75M249.2 58.0h.75M249.6 58.4h.75M250.8 57.8h.75M251.1 57.8h.75M251.2 57.9h.75M251.5 57.8h.75M251.5 57.7h.75M251.6 57.6h.75M252.1 57.7h.75M252.1 58.4h.75M252.2 57.8h.75M252.3 58.4h.75M253.0 57.8h.75M253.3 58.2h.75M253.3 58.2h.75M253.7 57.6h.75M254.0 57.6h.75M254.1 57.6h.75M254.4 58.0h.75M254.4 58.1h.75M254.7 57.9h.75M255.0 58.4h.75M255.2 57.7h.75M255.8 57.8h.75M256.2 58.4h.75M256.6 58.4h.75M256.8 58.2h.75M257.1 58.3h.75M257.2 58.2h.75M257.4 58.1h.75M258.1 58.3h.75M258.2 58.1h.75M258.2 57.6h.75M258.4 58.3h.75M258.4 57.6h.75M258.4 57.7h.75M258.4 57.6h.75M258.7 58.1h.75M258.7 58.4h.75M258.9 57.6h.75M258.9 58.4h.75M259.0 57.8h.75M259.0 57.7h.75M259.0 58.4h.75M259.2 57.7h.75M259.2 57.8h.75M259.5 57.9h.75M259.6 57.9h.75M259.6 57.6h.75M259.7 57.8h.75M259.9 58.0h.75M259.9 58.3h.75M260.3 57.5h.75M260.3 57.6h.75M260.5 58.0h.75M260.5 57.9h.75M260.5 57.6h.75M260.6 57.7h.75M260.8 57.5h.75M260.9 58.5h.75M260.9 57.9h.75M260.9 57.6h.75M261.0 58.0h.75M261.0 57.7h.75M261.1 57.9h.75M261.1 58.0h.75M261.2 57.6h.75M261.3 57.5h.75M261.4 57.9h.75M261.4 57.6h.75M261.6 58.5h.75M261.6 57.9h.75M261.7 58.4h.75M261.8 58.0h.75M261.8 57.7h.75M261.9 57.7h.75M262.0 57.9h.75M262.0 58.2h.75M262.1 58.0h.75M262.1 57.7h.75M262.1 57.7h.75M262.3 57.9h.75M262.4 58.0h.75M262.4 57.6h.75M262.6 58.2h.75M263.0 58.0h.75M263.0 58.0h.75M263.0 58.4h.75M263.0 57.5h.75M263.1 58.0h.75M263.1 57.8h.75M263.1 57.8h.75M263.2 57.5h.75M263.2 58.2h.75M263.4 57.7h.75M263.4 58.2h.75M263.5 58.4h.75M263.7 57.9h.75M263.9 57.7h.75M264.0 58.3h.75M264.3 57.6h.75M264.5 58.0h.75M264.6 58.2h.75M264.7 58.0h.75M264.9 58.2h.75M264.9 58.0h.75M265.0 58.0h.75M265.1 58.4h.75M265.1 57.7h.75M265.4 58.4h.75M265.4 57.7h.75M265.5 58.5h.75M265.5 57.9h.75M265.5 57.5h.75M265.5 58.4h.75M265.7 58.1h.75M265.8 57.7h.75M265.9 57.7h.75M265.9 57.6h.75M266.0 57.7h.75M266.1 58.2h.75M266.5 57.7h.75M266.5 57.6h.75M266.6 57.6h.75M266.7 57.5h.75M266.7 57.6h.75M266.8 58.4h.75M267.2 57.7h.75M267.5 57.9h.75M267.7 57.7h.75M267.8 58.0h.75M267.8 57.8h.75M267.9 57.6h.75M267.9 57.9h.75M268.0 58.4h.75M268.0 58.1h.75M268.2 57.9h.75M268.2 58.4h.75M268.3 58.3h.75M268.6 57.8h.75M268.7 58.0h.75M268.7 58.5h.75M268.7 57.7h.75M269.0 57.7h.75M269.1 58.2h.75M269.2 58.2h.75M269.2 58.0h.75M269.2 58.2h.75M269.7 58.0h.75M269.7 58.5h.75M270.0 58.1h.75M270.0 57.9h.75M270.2 58.2h.75M270.2 57.6h.75M270.3 58.4h.75M270.4 57.7h.75M270.5 58.4h.75M270.5 57.5h.75M270.6 57.7h.75M270.7 58.2h.75M270.9 58.1h.75M271.1 57.6h.75M271.2 57.7h.75M271.6 57.9h.75M271.6 58.0h.75M271.7 57.9h.75M271.7 57.8h.75M271.8 57.8h.75M271.8 57.8h.75M272.0 57.6h.75M272.1 58.4h.75M272.3 57.6h.75M272.4 57.6h.75M272.5 58.4h.75M272.5 57.8h.75M272.9 57.5h.75M272.9 58.1h.75M273.2 58.3h.75M273.3 58.0h.75M273.3 58.2h.75M273.4 58.0h.75M273.5 58.1h.75M273.8 58.1h.75M274.1 58.0h.75M274.4 57.7h.75M274.4 57.6h.75M275.0 57.5h.75M275.0 58.0h.75M275.0 58.0h.75M275.4 57.8h.75M275.6 57.6h.75M275.7 58.3h.75M276.3 58.3h.75M276.4 58.2h.75M276.8 58.4h.75M278.1 57.9h.75M278.8 57.8h.75M279.0 57.7h.75M280.5 58.2h.75M282.2 58.0h.75M282.4 57.6h.75M284.0 57.9h.75M286.4 58.5h.75M286.8 58.1h.75M287.9 57.6h.75M288.4 57.6h.75M292.3 57.6h.75M296.0 58.3h.75M223.1 59.1h.75M224.0 58.6h.75M225.4 58.8h.75M228.2 59.4h.75M228.4 59.5h.75M231.3 59.3h.75M231.5 58.6h.75M234.4 59.3h.75M234.8 59.2h.75M235.8 59.1h.75M236.4 58.8h.75M236.4 58.9h.75M236.9 59.3h.75M237.0 58.9h.75M239.5 58.6h.75M240.1 59.2h.75M240.9 59.1h.75M241.8 58.5h.75M243.4 58.6h.75M244.8 59.2h.75M245.2 58.7h.75M246.6 58.8h.75M246.7 58.6h.75M246.9 58.5h.75M247.0 58.9h.75M247.5 58.9h.75M248.9 58.9h.75M250.7 58.6h.75M251.5 58.8h.75M251.5 59.5h.75M251.6 58.7h.75M252.2 58.6h.75M252.7 59.5h.75M253.2 59.5h.75M254.6 59.5h.75M254.6 59.4h.75M254.7 59.1h.75M254.8 59.3h.75M254.9 58.5h.75M255.2 59.1h.75M255.5 58.5h.75M255.6 59.0h.75M255.9 58.5h.75M256.0 59.1h.75M256.2 58.6h.75M256.2 59.0h.75M256.4 58.8h.75M256.6 59.2h.75M256.6 58.6h.75M256.8 58.8h.75M256.8 58.9h.75M257.1 59.3h.75M257.1 59.1h.75M257.1 59.0h.75M257.6 59.3h.75M258.0 59.4h.75M258.0 59.3h.75M258.1 58.7h.75M258.2 58.7h.75M258.4 59.1h.75M258.7 59.4h.75M258.9 59.4h.75M259.1 59.0h.75M259.5 59.1h.75M260.0 59.2h.75M260.1 58.8h.75M260.4 59.1h.75M260.5 59.3h.75M260.8 58.9h.75M261.0 59.0h.75M261.0 58.9h.75M261.4 59.3h.75M261.5 58.6h.75M261.7 59.3h.75M261.7 58.6h.75M261.8 58.8h.75M261.9 59.0h.75M262.1 59.0h.75M262.2 58.6h.75M262.2 59.3h.75M262.3 58.7h.75M262.4 58.6h.75M262.5 58.6h.75M262.6 58.6h.75M262.7 59.4h.75M262.8 58.9h.75M263.4 59.3h.75M263.4 59.3h.75M263.7 59.3h.75M264.0 58.7h.75M264.1 58.7h.75M264.2 59.2h.75M264.2 58.6h.75M264.5 59.0h.75M264.5 58.8h.75M264.6 58.7h.75M264.6 59.0h.75M264.8 58.9h.75M265.0 58.8h.75M265.0 58.7h.75M265.0 58.8h.75M265.0 58.8h.75M265.1 58.6h.75M265.1 58.6h.75M265.2 59.2h.75M265.5 58.6h.75M266.1 58.7h.75M266.3 58.7h.75M266.4 58.5h.75M266.5 58.7h.75M266.6 58.9h.75M266.6 58.6h.75M266.7 58.6h.75M266.8 59.2h.75M267.0 59.3h.75M267.1 58.6h.75M267.4 59.3h.75M267.6 59.0h.75M267.8 59.1h.75M268.0 59.2h.75M268.5 58.8h.75M268.6 58.5h.75M268.6 59.1h.75M268.9 58.7h.75M269.4 59.0h.75M269.6 58.6h.75M269.6 58.9h.75M269.8 58.7h.75M270.2 58.9h.75M270.2 58.8h.75M270.3 58.7h.75M270.4 59.2h.75M270.4 58.9h.75M270.4 58.8h.75M271.2 59.4h.75M271.4 59.0h.75M271.9 58.8h.75M272.0 59.3h.75M272.1 58.6h.75M272.1 59.1h.75M272.3 59.0h.75M272.5 59.3h.75M273.0 59.1h.75M273.6 58.7h.75M274.6 58.5h.75M275.3 58.8h.75M276.1 59.0h.75M276.1 59.0h.75M276.7 58.6h.75M282.2 59.0h.75M282.3 59.3h.75M282.4 59.2h.75M283.0 58.8h.75M283.1 59.1h.75M285.6 59.5h.75M288.5 59.1h.75M223.6 59.8h.75M228.2 59.6h.75M229.8 59.7h.75M232.2 59.8h.75M232.7 60.3h.75M234.4 60.3h.75M242.3 59.6h.75M242.5 59.6h.75M243.1 60.0h.75M243.9 60.4h.75M246.1 59.6h.75M249.0 59.6h.75M251.3 60.3h.75M251.9 59.6h.75M252.3 60.0h.75M254.0 59.7h.75M254.7 60.3h.75M255.6 59.7h.75M255.8 59.9h.75M255.9 59.6h.75M256.0 59.7h.75M256.4 60.3h.75M257.3 59.7h.75M257.3 59.5h.75M257.8 60.2h.75M258.0 60.4h.75M258.0 59.8h.75M258.9 59.5h.75M259.1 60.4h.75M260.2 59.9h.75M260.5 60.3h.75M260.6 59.7h.75M260.9 59.5h.75M261.1 59.9h.75M261.1 60.0h.75M261.2 59.7h.75M261.2 60.2h.75M261.2 59.8h.75M261.3 60.0h.75M261.4 59.6h.75M261.6 60.2h.75M262.6 60.3h.75M262.7 59.8h.75M262.7 60.2h.75M262.8 60.2h.75M262.8 60.0h.75M262.8 60.0h.75M263.0 60.2h.75M263.3 59.8h.75M264.3 59.5h.75M264.7 59.9h.75M265.7 60.2h.75M265.7 59.8h.75M265.9 59.6h.75M266.3 60.2h.75M266.7 59.7h.75M266.8 59.6h.75M266.8 60.0h.75M267.0 60.2h.75M267.0 59.9h.75M267.2 60.2h.75M267.5 59.6h.75M267.5 59.8h.75M267.7 59.9h.75M267.8 60.2h.75M267.8 60.0h.75M267.9 60.2h.75M268.6 59.5h.75M268.7 60.1h.75M268.8 60.0h.75M268.9 59.7h.75M269.3 59.5h.75M269.3 60.1h.75M269.4 60.1h.75M269.5 59.6h.75M269.8 60.4h.75M270.4 60.3h.75M271.5 59.8h.75M272.0 59.5h.75M274.4 60.4h.75M274.4 59.7h.75M275.0 59.7h.75M275.4 60.2h.75M277.2 59.6h.75M277.2 59.6h.75M281.6 59.5h.75M284.1 59.6h.75M224.6 60.6h.75M225.2 60.9h.75M229.6 60.9h.75M237.7 61.0h.75M240.4 60.9h.75M241.6 61.2h.75M244.6 60.8h.75M247.4 60.8h.75M248.9 61.2h.75M255.1 61.1h.75M256.9 60.6h.75M257.5 61.3h.75M257.7 61.3h.75M258.3 60.6h.75M258.7 61.3h.75M259.9 61.0h.75M260.0 60.5h.75M260.2 60.5h.75M261.0 60.6h.75M261.4 61.4h.75M261.7 61.4h.75M262.0 61.5h.75M262.8 61.4h.75M263.1 60.9h.75M263.6 60.6h.75M263.6 60.9h.75M264.2 60.9h.75M266.0 61.2h.75M266.0 60.7h.75M266.1 60.5h.75M266.3 61.0h.75M266.8 60.7h.75M266.9 60.6h.75M267.2 61.0h.75M267.4 60.9h.75M267.4 61.1h.75M268.2 60.5h.75M268.3 61.0h.75M269.0 61.1h.75M270.1 60.9h.75M270.7 61.1h.75M271.4 60.6h.75M273.1 60.5h.75M277.1 60.6h.75M226.1 61.7h.75M253.7 62.1h.75M254.8 62.4h.75M255.3 61.6h.75M256.2 62.4h.75M257.1 61.8h.75M257.9 61.9h.75M262.8 62.2h.75M263.4 62.3h.75M267.1 61.6h.75M270.0 62.4h.75M270.6 61.7h.75M270.8 62.4h.75M271.0 62.0h.75M271.9 61.7h.75M272.9 61.5h.75M273.2 61.9h.75M276.9 61.9h.75M281.9 62.1h.75M250.8 63.0h.75M254.9 63.1h.75M255.8 63.5h.75M256.9 62.7h.75M257.8 63.2h.75M262.9 63.0h.75M266.6 62.6h.75M268.9 62.8h.75M236.3 63.6h.75M263.9 63.6h.75" stroke="#000" stroke-opacity="0.6" stroke-width="0.75" fill="none"/>
<rect x="222.40" y="7.40" width="86.80" height="57.00" fill="none" stroke="#666" stroke-width="0.8"/>
<line x1="258.60" y1="7.40" x2="258.60" y2="66.40" stroke="#555" stroke-width="1.3"/>
<line x1="221.60" y1="7.40" x2="221.60" y2="66.40" stroke="#555" stroke-width="1.0"/>
<rect x="219.60" y="7.40" width="89.60" height="59.00" fill="none" stroke="#666" stroke-width="0.9"/>
<line x1="258.50" y1="7.40" x2="258.50" y2="66.40" stroke="#707070" stroke-width="0.9"/>
<text x="217.60" y="5.20" font-size="5.6" fill="#2a2a2a" textLength="73.40" lengthAdjust="spacingAndGlyphs">Sample A7-Scatter Gate</text>
<path d="M220.32 66.40v3.0 M223.11 66.40v3.0 M225.28 66.40v3.0 M227.05 66.40v3.0 M228.54 66.40v3.0 M229.84 66.40v3.0 M230.98 66.40v3.0 M232.00 66.40v4.2 M238.72 66.40v3.0 M242.66 66.40v3.0 M245.45 66.40v3.0 M247.61 66.40v3.0 M249.38 66.40v3.0 M250.87 66.40v3.0 M252.17 66.40v3.0 M253.31 66.40v3.0 M254.33 66.40v4.2 M261.06 66.40v3.0 M264.99 66.40v3.0 M267.78 66.40v3.0 M269.94 66.40v3.0 M271.71 66.40v3.0 M273.21 66.40v3.0 M274.50 66.40v3.0 M275.64 66.40v3.0 M276.67 66.40v4.2 M283.39 66.40v3.0 M287.32 66.40v3.0 M290.11 66.40v3.0 M292.28 66.40v3.0 M294.05 66.40v3.0 M295.54 66.40v3.0 M296.84 66.40v3.0 M297.98 66.40v3.0 M299.00 66.40v4.2" stroke="#333" stroke-width="0.6"/>
<text x="229.40" y="78.00" font-size="4.1" fill="#3a3a3a" stroke="#3a3a3a" stroke-width="0.18" textLength="3.80" lengthAdjust="spacingAndGlyphs">10</text>
<text x="233.30" y="76.10" font-size="2.9519999999999995" fill="#3a3a3a" stroke="#3a3a3a" stroke-width="0.15">2</text>
<text x="251.73" y="78.00" font-size="4.1" fill="#3a3a3a" stroke="#3a3a3a" stroke-width="0.18" textLength="3.80" lengthAdjust="spacingAndGlyphs">10</text>
<text x="255.63" y="76.10" font-size="2.9519999999999995" fill="#3a3a3a" stroke="#3a3a3a" stroke-width="0.15">3</text>
<text x="274.07" y="78.00" font-size="4.1" fill="#3a3a3a" stroke="#3a3a3a" stroke-width="0.18" textLength="3.80" lengthAdjust="spacingAndGlyphs">10</text>
<text x="277.97" y="76.10" font-size="2.9519999999999995" fill="#3a3a3a" stroke="#3a3a3a" stroke-width="0.15">4</text>
<text x="296.40" y="78.00" font-size="4.1" fill="#3a3a3a" stroke="#3a3a3a" stroke-width="0.18" textLength="3.80" lengthAdjust="spacingAndGlyphs">10</text>
<text x="300.30" y="76.10" font-size="2.9519999999999995" fill="#3a3a3a" stroke="#3a3a3a" stroke-width="0.15">5</text>
<text x="237.60" y="86.20" font-size="6.77" fill="#2a2a2a" textLength="53.40" lengthAdjust="spacingAndGlyphs">H2Kd APC-Cy7-A</text>
<text x="207.20" y="45.80" font-size="5.32" fill="#333" textLength="39.00" lengthAdjust="spacingAndGlyphs" transform="rotate(-90 207.20 45.80)">SSC-H (x 1,000)</text>
<path d="M219.60 54.20h-2.6 M219.60 42.55h-2.6 M219.60 30.90h-2.6 M219.60 19.25h-2.6 M219.60 7.60h-2.6" stroke="#333" stroke-width="0.8"/>
<path d="M219.60 66.40h-1.5 M219.60 64.07h-1.5 M219.60 61.74h-1.5 M219.60 59.41h-1.5 M219.60 57.08h-1.5 M219.60 54.75h-1.5 M219.60 52.42h-1.5 M219.60 50.09h-1.5 M219.60 47.76h-1.5 M219.60 45.43h-1.5 M219.60 43.10h-1.5 M219.60 40.77h-1.5 M219.60 38.44h-1.5 M219.60 36.11h-1.5 M219.60 33.78h-1.5 M219.60 31.45h-1.5 M219.60 29.12h-1.5 M219.60 26.79h-1.5 M219.60 24.46h-1.5 M219.60 22.13h-1.5 M219.60 19.80h-1.5 M219.60 17.47h-1.5 M219.60 15.14h-1.5 M219.60 12.81h-1.5 M219.60 10.48h-1.5 M219.60 8.15h-1.5" stroke="#444" stroke-width="0.7"/>
<text x="215.60" y="7.60" font-size="4.6" fill="#333" stroke="#333" stroke-width="0.2" text-anchor="middle" textLength="6.50" lengthAdjust="spacingAndGlyphs" transform="rotate(-90 215.60 7.60)">250</text>
<text x="215.60" y="19.25" font-size="4.6" fill="#333" stroke="#333" stroke-width="0.2" text-anchor="middle" textLength="6.50" lengthAdjust="spacingAndGlyphs" transform="rotate(-90 215.60 19.25)">200</text>
<text x="215.60" y="30.90" font-size="4.6" fill="#333" stroke="#333" stroke-width="0.2" text-anchor="middle" textLength="6.50" lengthAdjust="spacingAndGlyphs" transform="rotate(-90 215.60 30.90)">150</text>
<text x="215.60" y="42.55" font-size="4.6" fill="#333" stroke="#333" stroke-width="0.2" text-anchor="middle" textLength="6.50" lengthAdjust="spacingAndGlyphs" transform="rotate(-90 215.60 42.55)">100</text>
<text x="215.60" y="54.20" font-size="4.6" fill="#333" stroke="#333" stroke-width="0.2" text-anchor="middle" textLength="4.40" lengthAdjust="spacingAndGlyphs" transform="rotate(-90 215.60 54.20)">50</text>
<text x="224.00" y="20.60" font-size="5.6" fill="#2a2a2a" textLength="25.00" lengthAdjust="spacingAndGlyphs">P1 Donor</text>
<text x="224.40" y="28.40" font-size="7.6" fill="#555" textLength="26.60" lengthAdjust="spacingAndGlyphs">~33.3%</text>
<text x="261.00" y="20.60" font-size="5.6" fill="#2a2a2a" textLength="21.00" lengthAdjust="spacingAndGlyphs">P2 Host</text>
<path d="M120.7 60.0h.75M102.0 61.1h.75M69.2 63.9h.75M144.5 66.3h.75M68.9 69.7h.75M79.4 73.2h.75M97.1 73.5h.75M105.0 75.4h.75M123.0 74.8h.75M109.7 75.8h.75M125.4 81.5h.75M138.4 82.1h.75M69.9 82.9h.75M96.4 82.8h.75M143.6 82.9h.75M128.7 84.2h.75M132.6 84.3h.75M138.3 84.4h.75M134.4 85.4h.75M134.7 84.9h.75M135.8 85.0h.75M137.1 85.1h.75M138.6 84.8h.75M141.1 85.2h.75M79.3 85.9h.75M84.9 86.4h.75M85.1 86.2h.75M95.7 86.1h.75M100.5 85.9h.75M101.6 86.1h.75M105.4 86.1h.75M105.9 86.4h.75M109.0 86.0h.75M112.7 86.1h.75M115.4 85.9h.75M118.2 86.2h.75M118.4 86.5h.75M119.3 86.0h.75M120.1 86.5h.75M122.9 86.0h.75M127.0 86.4h.75M131.0 85.8h.75M131.2 86.4h.75M131.4 85.8h.75M132.3 85.5h.75M135.2 86.0h.75M135.7 85.9h.75M137.1 85.7h.75M138.4 86.5h.75M139.8 85.9h.75M140.4 86.1h.75M142.0 86.2h.75M143.2 85.5h.75M77.7 86.7h.75M78.4 87.0h.75M81.6 87.5h.75M83.5 86.6h.75M89.9 87.3h.75M97.7 86.7h.75M104.2 86.6h.75M105.0 87.1h.75M105.7 87.4h.75M111.8 87.3h.75M128.1 87.4h.75M128.9 86.7h.75M132.0 86.8h.75M134.0 86.9h.75M135.7 86.8h.75M139.2 86.5h.75M139.6 86.6h.75M142.6 86.7h.75M143.8 87.3h.75M144.2 86.7h.75M82.6 88.2h.75M88.6 87.6h.75M97.7 88.3h.75M101.2 87.7h.75M103.0 88.1h.75M106.1 87.8h.75M114.8 87.9h.75M116.2 88.5h.75M117.8 87.9h.75M119.2 88.3h.75M120.1 88.5h.75M129.7 87.8h.75M132.8 87.8h.75M133.2 87.7h.75M133.6 87.6h.75M135.1 87.9h.75M135.2 87.8h.75M135.4 88.1h.75M138.1 87.9h.75M138.6 88.5h.75M140.2 87.9h.75M140.5 87.8h.75M141.3 88.4h.75M144.4 88.2h.75M145.4 88.0h.75M145.9 87.7h.75M81.0 88.9h.75M93.3 89.2h.75M99.5 88.6h.75M100.0 89.5h.75M105.0 89.4h.75M105.1 88.8h.75M106.7 89.2h.75M114.6 88.8h.75M117.3 89.1h.75M120.1 89.2h.75M122.5 88.6h.75M123.1 89.2h.75M134.1 88.8h.75M136.4 89.4h.75M136.5 88.7h.75M136.9 89.2h.75M137.2 89.1h.75M138.3 88.7h.75M138.4 88.6h.75M139.5 88.7h.75M140.1 88.9h.75M141.2 89.2h.75M141.7 89.1h.75M144.7 88.9h.75M145.7 89.1h.75M145.9 88.6h.75M81.4 89.6h.75M93.6 90.2h.75M101.6 90.4h.75M101.6 89.7h.75M103.1 90.0h.75M104.7 90.5h.75M107.8 90.0h.75M112.5 90.0h.75M117.1 90.5h.75M122.6 90.0h.75M125.6 90.3h.75M127.5 90.2h.75M131.2 89.7h.75M132.1 90.0h.75M133.3 89.6h.75M134.2 90.1h.75M134.3 90.0h.75M134.5 89.7h.75M134.7 89.9h.75M136.4 89.5h.75M136.8 89.9h.75M137.2 89.9h.75M137.8 90.2h.75M137.8 90.0h.75M140.8 89.7h.75M75.7 91.1h.75M80.5 91.4h.75M85.6 91.1h.75M89.7 91.4h.75M92.3 90.8h.75M94.2 91.4h.75M94.4 90.8h.75M96.7 91.3h.75M97.5 90.7h.75M98.9 91.1h.75M109.2 91.2h.75M110.0 91.2h.75M111.1 90.9h.75M113.2 91.1h.75M115.2 90.8h.75M120.4 91.4h.75M124.6 90.6h.75M124.8 91.2h.75M126.7 91.1h.75M129.0 90.8h.75M129.6 91.2h.75M131.3 90.6h.75M132.0 90.9h.75M132.8 91.2h.75M133.0 91.4h.75M133.2 90.5h.75M133.8 91.1h.75M133.8 91.2h.75M134.0 91.1h.75M134.0 90.6h.75M134.6 90.9h.75M134.8 90.5h.75M136.0 91.3h.75M136.2 90.7h.75M136.5 91.0h.75M136.8 91.4h.75M137.5 91.5h.75M137.6 90.9h.75M138.5 91.2h.75M138.6 90.7h.75M138.7 91.1h.75M139.5 91.5h.75M140.0 91.4h.75M141.2 90.7h.75M143.4 90.5h.75M145.3 91.0h.75M145.5 90.8h.75M73.4 91.8h.75M75.8 92.5h.75M76.2 92.2h.75M81.4 92.1h.75M85.8 91.7h.75M87.6 91.5h.75M90.8 91.8h.75M105.7 92.4h.75M108.2 91.9h.75M109.2 92.2h.75M109.4 91.8h.75M115.1 92.1h.75M122.7 91.9h.75M128.5 92.4h.75M129.5 91.6h.75M130.4 92.3h.75M130.4 92.0h.75M130.4 92.3h.75M131.6 91.8h.75M132.0 92.2h.75M132.3 92.2h.75M132.4 92.5h.75M132.6 92.2h.75M133.5 92.4h.75M134.1 91.8h.75M134.5 92.2h.75M135.1 92.3h.75M136.3 91.7h.75M136.4 91.9h.75M136.5 92.2h.75M137.0 91.7h.75M137.5 92.5h.75M137.9 92.2h.75M138.9 92.0h.75M139.4 91.9h.75M140.8 92.4h.75M141.3 92.1h.75M142.6 92.5h.75M142.8 91.5h.75M70.0 92.6h.75M70.2 93.2h.75M73.7 93.3h.75M81.9 93.3h.75M82.2 93.4h.75M84.0 93.1h.75M85.9 92.6h.75M86.4 92.6h.75M87.9 93.3h.75M90.4 93.2h.75M90.5 93.1h.75M90.5 93.1h.75M90.5 92.7h.75M91.5 92.7h.75M92.5 93.1h.75M94.4 93.0h.75M96.3 93.0h.75M98.3 93.1h.75M98.4 92.8h.75M98.6 93.5h.75M98.8 93.4h.75M98.9 93.4h.75M99.0 93.0h.75M99.9 92.7h.75M100.0 93.0h.75M100.1 93.2h.75M100.9 92.7h.75M101.2 92.8h.75M102.3 92.9h.75M102.4 93.3h.75M102.4 93.3h.75M102.9 93.3h.75M103.6 93.1h.75M103.8 93.0h.75M103.9 93.4h.75M104.1 93.2h.75M104.2 92.8h.75M105.9 93.1h.75M106.5 92.7h.75M106.7 92.9h.75M107.1 93.1h.75M108.1 93.1h.75M110.4 93.1h.75M110.5 93.0h.75M113.1 92.9h.75M114.5 92.8h.75M124.8 93.1h.75M126.1 93.1h.75M126.9 93.5h.75M127.4 93.1h.75M127.9 93.1h.75M128.3 92.5h.75M128.8 93.3h.75M129.8 93.5h.75M130.9 93.5h.75M131.6 92.9h.75M131.7 93.1h.75M132.0 93.4h.75M132.0 93.3h.75M132.1 93.1h.75M132.2 92.6h.75M132.2 93.4h.75M132.4 93.3h.75M132.5 93.4h.75M132.5 93.2h.75M132.6 93.3h.75M132.7 92.6h.75M132.9 93.4h.75M133.9 92.9h.75M133.9 92.7h.75M133.9 93.1h.75M134.0 92.9h.75M134.1 93.1h.75M134.2 93.3h.75M134.6 93.3h.75M134.8 92.8h.75M134.9 93.4h.75M135.1 92.9h.75M135.3 93.0h.75M135.9 92.7h.75M136.0 93.0h.75M136.3 93.4h.75M136.9 93.2h.75M137.0 93.2h.75M138.0 93.2h.75M139.6 93.3h.75M140.7 92.8h.75M141.6 92.9h.75M68.2 94.3h.75M68.6 93.7h.75M68.6 93.6h.75M72.4 93.8h.75M75.2 93.7h.75M75.7 94.0h.75M78.5 94.3h.75M79.2 94.1h.75M80.6 94.0h.75M81.9 94.1h.75M82.8 93.9h.75M82.9 94.4h.75M83.7 94.5h.75M83.8 94.3h.75M84.2 93.9h.75M84.3 94.0h.75M84.6 93.6h.75M85.0 94.4h.75M85.8 93.9h.75M86.0 94.4h.75M86.6 94.1h.75M86.7 94.3h.75M86.9 94.2h.75M87.1 93.6h.75M88.1 94.3h.75M88.2 93.8h.75M88.5 94.0h.75M88.7 94.5h.75M88.7 94.1h.75M88.8 94.3h.75M89.7 94.4h.75M89.8 93.9h.75M90.1 93.6h.75M90.3 93.8h.75M90.6 94.2h.75M90.8 93.7h.75M92.1 94.1h.75M93.4 94.1h.75M93.8 94.2h.75M94.1 94.5h.75M94.1 93.8h.75M94.1 93.8h.75M95.5 93.9h.75M95.8 94.2h.75M97.4 93.7h.75M97.5 94.0h.75M97.5 94.1h.75M98.0 94.5h.75M98.1 93.7h.75M98.2 94.0h.75M98.4 94.5h.75M98.7 93.6h.75M99.1 94.1h.75M99.4 94.3h.75M99.5 94.5h.75M99.7 94.1h.75M100.0 93.9h.75M100.4 93.9h.75M100.4 93.5h.75M100.6 94.4h.75M100.8 93.6h.75M101.1 94.3h.75M101.3 94.4h.75M101.6 94.3h.75M101.7 94.2h.75M101.9 94.3h.75M102.2 94.4h.75M102.4 94.3h.75M102.5 94.4h.75M102.5 94.3h.75M102.6 94.4h.75M102.7 93.9h.75M103.8 93.8h.75M104.4 94.3h.75M104.5 94.5h.75M105.0 93.7h.75M105.2 94.0h.75M105.3 93.6h.75M105.5 93.9h.75M105.6 94.0h.75M105.7 94.2h.75M105.9 94.2h.75M106.1 93.6h.75M106.2 94.1h.75M106.2 94.2h.75M106.4 94.4h.75M106.5 94.3h.75M107.6 93.7h.75M107.7 94.3h.75M107.9 94.3h.75M108.4 94.2h.75M109.0 94.3h.75M111.7 94.2h.75M113.1 93.9h.75M114.2 94.1h.75M122.6 94.3h.75M123.7 94.3h.75M125.8 93.6h.75M125.8 94.0h.75M126.6 93.6h.75M127.4 93.6h.75M128.1 93.6h.75M128.5 94.3h.75M128.7 94.3h.75M128.9 93.8h.75M128.9 94.0h.75M129.1 94.1h.75M129.2 94.3h.75M129.4 94.1h.75M129.7 94.4h.75M129.8 94.4h.75M129.8 94.2h.75M129.9 93.8h.75M129.9 94.5h.75M130.1 93.8h.75M130.2 94.0h.75M130.2 94.3h.75M130.3 93.9h.75M130.3 93.6h.75M130.4 94.4h.75M130.5 94.1h.75M130.5 94.3h.75M130.5 94.5h.75M130.6 93.6h.75M130.7 94.4h.75M131.0 93.7h.75M131.2 94.3h.75M131.7 94.2h.75M131.8 94.4h.75M132.2 94.3h.75M132.4 94.4h.75M132.6 94.2h.75M132.7 94.3h.75M132.7 93.9h.75M132.9 93.9h.75M133.1 94.1h.75M133.3 93.9h.75M133.7 94.4h.75M133.8 94.4h.75M133.8 94.4h.75M134.0 94.0h.75M134.1 94.2h.75M134.3 94.4h.75M134.4 94.0h.75M134.6 93.7h.75M134.6 93.7h.75M135.5 93.5h.75M135.7 93.7h.75M135.7 94.3h.75M135.9 94.1h.75M136.3 94.1h.75M136.8 94.2h.75M137.3 94.1h.75M138.4 93.6h.75M138.9 94.2h.75M138.9 94.4h.75M140.0 94.2h.75M68.6 95.5h.75M69.9 95.4h.75M70.2 95.1h.75M70.3 95.2h.75M70.3 95.1h.75M70.7 94.8h.75M71.8 95.4h.75M72.1 94.8h.75M72.3 94.8h.75M74.0 94.5h.75M79.3 94.9h.75M79.4 95.0h.75M80.1 95.2h.75M80.2 95.3h.75M81.3 94.7h.75M81.7 94.5h.75M82.9 95.2h.75M84.7 95.5h.75M84.8 95.1h.75M85.0 95.0h.75M85.3 95.2h.75M85.5 95.4h.75M87.2 95.1h.75M87.3 95.4h.75M87.5 95.1h.75M87.5 95.1h.75M88.8 94.8h.75M88.9 95.1h.75M89.2 95.3h.75M89.2 94.8h.75M90.0 94.9h.75M90.3 95.2h.75M90.4 95.1h.75M90.8 95.2h.75M91.1 95.1h.75M91.5 95.1h.75M91.6 95.3h.75M91.8 95.4h.75M91.8 95.3h.75M91.9 94.7h.75M92.2 95.2h.75M92.7 94.9h.75M92.7 95.4h.75M92.8 95.2h.75M92.9 95.4h.75M93.2 94.7h.75M93.3 95.2h.75M93.7 94.5h.75M93.8 95.0h.75M94.3 95.3h.75M94.9 94.6h.75M94.9 94.8h.75M95.1 95.4h.75M95.2 94.9h.75M95.5 94.7h.75M95.6 95.4h.75M95.7 95.1h.75M95.7 94.5h.75M95.8 95.0h.75M95.8 95.2h.75M96.3 94.9h.75M96.5 94.5h.75M96.5 95.0h.75M96.8 95.4h.75M96.9 94.7h.75M97.0 94.9h.75M97.1 94.7h.75M97.1 94.8h.75M97.3 95.1h.75M97.3 94.6h.75M97.4 95.1h.75M97.4 95.1h.75M97.4 95.0h.75M97.4 95.2h.75M97.4 95.3h.75M97.5 95.3h.75M97.7 94.6h.75M97.8 95.2h.75M97.9 95.4h.75M98.1 95.4h.75M98.2 95.0h.75M98.2 94.9h.75M98.3 95.4h.75M98.4 94.7h.75M98.4 94.7h.75M98.7 95.5h.75M98.8 95.2h.75M98.9 94.7h.75M99.0 94.8h.75M99.9 95.3h.75M100.1 94.5h.75M100.2 94.9h.75M100.4 95.5h.75M100.6 94.7h.75M100.7 94.6h.75M100.8 94.9h.75M100.9 95.0h.75M101.0 94.7h.75M101.1 95.5h.75M101.2 95.4h.75M101.2 94.6h.75M101.4 94.9h.75M101.5 95.0h.75M101.9 94.6h.75M101.9 95.0h.75M101.9 95.3h.75M102.1 95.3h.75M102.1 95.4h.75M102.2 94.5h.75M102.3 94.8h.75M102.4 94.7h.75M102.6 94.8h.75M103.0 94.9h.75M103.1 95.3h.75M103.6 95.1h.75M103.6 95.3h.75M103.8 95.2h.75M103.9 95.1h.75M104.2 95.5h.75M104.2 95.5h.75M104.4 95.4h.75M104.4 95.3h.75M104.7 95.1h.75M104.7 94.7h.75M104.8 95.1h.75M104.9 94.5h.75M105.2 95.4h.75M105.2 94.9h.75M105.3 95.0h.75M105.3 95.1h.75M105.4 94.6h.75M105.5 95.2h.75M105.5 95.2h.75M105.6 94.9h.75M105.8 95.3h.75M105.8 95.4h.75M105.8 95.4h.75M105.8 94.9h.75M105.9 94.9h.75M105.9 94.8h.75M106.2 94.6h.75M106.2 95.4h.75M106.4 95.2h.75M106.5 94.6h.75M106.7 95.0h.75M106.8 95.1h.75M106.8 95.3h.75M106.9 94.8h.75M107.0 95.1h.75M107.1 94.6h.75M107.1 95.3h.75M107.1 94.6h.75M107.4 94.6h.75M107.7 94.8h.75M107.9 95.3h.75M108.0 94.9h.75M108.0 95.4h.75M108.3 95.0h.75M108.3 95.3h.75M108.3 94.8h.75M108.4 94.9h.75M108.4 95.3h.75M108.6 95.4h.75M108.7 95.2h.75M108.8 94.9h.75M108.9 94.8h.75M109.0 94.9h.75M109.1 95.5h.75M109.4 94.8h.75M110.0 95.4h.75M110.1 94.7h.75M110.2 94.8h.75M111.0 95.3h.75M111.1 95.1h.75M111.1 95.4h.75M111.2 95.3h.75M111.6 94.7h.75M111.7 95.2h.75M112.0 94.9h.75M113.2 95.3h.75M113.9 94.8h.75M114.2 95.4h.75M114.4 94.5h.75M114.4 94.8h.75M115.2 94.5h.75M123.9 94.6h.75M124.2 95.0h.75M125.3 95.4h.75M125.6 95.4h.75M125.6 95.4h.75M125.6 94.8h.75M126.0 95.2h.75M126.2 94.7h.75M126.3 95.5h.75M126.4 95.1h.75M126.5 95.0h.75M126.8 95.1h.75M127.0 95.1h.75M127.3 94.8h.75M127.5 94.6h.75M127.8 95.2h.75M128.5 95.2h.75M128.5 95.2h.75M128.6 95.2h.75M128.7 94.8h.75M128.8 94.6h.75M128.8 95.0h.75M129.0 94.7h.75M129.1 95.5h.75M129.1 95.1h.75M129.1 94.9h.75M129.3 95.4h.75M129.3 95.4h.75M129.3 95.2h.75M129.4 94.7h.75M129.5 94.7h.75M129.6 94.5h.75M129.6 95.3h.75M129.6 95.1h.75M129.6 94.6h.75M129.6 95.5h.75M129.6 95.0h.75M129.7 94.7h.75M129.8 95.3h.75M129.8 94.8h.75M129.9 94.7h.75M129.9 95.0h.75M129.9 94.8h.75M130.0 95.1h.75M130.0 94.6h.75M130.0 94.7h.75M130.1 94.9h.75M130.1 95.3h.75M130.1 94.7h.75M130.3 95.5h.75M130.5 95.2h.75M130.6 95.3h.75M130.7 95.0h.75M130.7 94.7h.75M130.8 95.5h.75M130.8 95.4h.75M130.9 95.0h.75M131.0 95.5h.75M131.0 94.8h.75M131.1 95.5h.75M131.2 95.0h.75M131.2 95.3h.75M131.3 94.9h.75M131.3 95.5h.75M131.6 94.8h.75M131.6 95.4h.75M131.8 94.8h.75M131.9 95.5h.75M131.9 95.2h.75M132.0 94.9h.75M132.1 95.2h.75M132.1 95.1h.75M132.1 95.5h.75M132.2 95.3h.75M132.2 95.2h.75M132.2 95.5h.75M132.3 95.4h.75M132.5 95.0h.75M132.5 94.9h.75M132.6 94.8h.75M132.6 95.1h.75M132.6 95.2h.75M132.7 95.2h.75M132.7 95.0h.75M132.8 94.7h.75M132.8 95.3h.75M132.9 95.3h.75M133.0 94.9h.75M133.0 95.0h.75M133.1 95.4h.75M133.1 94.8h.75M133.5 94.8h.75M133.7 94.9h.75M134.0 95.4h.75M134.0 95.4h.75M134.1 95.4h.75M134.3 95.3h.75M134.9 94.7h.75M135.0 94.9h.75M135.2 95.3h.75M135.6 94.8h.75M135.9 94.6h.75M135.9 94.9h.75M136.0 95.2h.75M136.2 95.3h.75M136.5 94.9h.75M68.0 95.5h.75M68.7 95.5h.75M69.3 96.3h.75M69.7 96.3h.75M70.4 95.7h.75M70.7 95.6h.75M70.9 95.6h.75M72.5 95.9h.75M74.4 96.0h.75M75.1 96.0h.75M75.1 96.3h.75M75.6 96.0h.75M75.8 95.5h.75M79.4 95.5h.75M81.9 96.1h.75M82.2 95.9h.75M82.6 96.1h.75M83.2 95.9h.75M83.2 96.1h.75M83.5 95.7h.75M85.3 96.4h.75M85.9 95.9h.75M86.1 95.9h.75M86.1 95.9h.75M87.0 95.7h.75M87.4 95.6h.75M87.5 96.3h.75M87.9 96.1h.75M88.2 96.5h.75M88.4 95.5h.75M88.5 95.5h.75M88.6 95.7h.75M88.7 95.7h.75M89.0 96.4h.75M89.2 95.9h.75M89.5 96.1h.75M89.7 96.5h.75M89.8 96.3h.75M89.8 96.4h.75M90.0 96.0h.75M90.2 96.1h.75M90.3 95.5h.75M90.4 96.3h.75M90.4 95.8h.75M90.4 95.9h.75M90.6 95.9h.75M90.7 96.0h.75M90.7 95.8h.75M90.8 95.7h.75M90.8 96.0h.75M91.0 96.0h.75M91.3 95.6h.75M91.3 95.5h.75M91.4 96.1h.75M91.4 95.6h.75M91.4 95.5h.75M91.6 95.6h.75M91.7 95.5h.75M91.7 96.3h.75M91.8 95.5h.75M91.8 96.2h.75M92.2 96.2h.75M92.6 96.0h.75M92.6 95.8h.75M92.7 96.1h.75M93.1 96.0h.75M93.2 96.0h.75M93.4 95.9h.75M93.6 96.3h.75M93.6 96.5h.75M93.6 95.9h.75M93.8 96.1h.75M94.1 96.3h.75M94.4 96.2h.75M94.8 96.1h.75M95.1 95.9h.75M95.4 96.1h.75M95.5 96.2h.75M95.5 96.1h.75M95.6 96.2h.75M96.4 96.2h.75M96.5 95.6h.75M96.9 95.6h.75M96.9 96.5h.75M97.4 96.0h.75M97.5 96.1h.75M97.5 96.1h.75M97.7 96.1h.75M97.8 95.8h.75M97.8 96.4h.75M97.8 95.9h.75M98.1 96.2h.75M98.1 96.5h.75M98.2 96.1h.75M98.2 96.4h.75M98.4 95.7h.75M98.6 96.1h.75M98.6 96.3h.75M98.7 95.8h.75M98.8 95.8h.75M98.9 95.7h.75M99.1 95.8h.75M99.1 96.2h.75M99.2 96.1h.75M99.2 96.0h.75M99.6 96.4h.75M99.6 95.6h.75M99.6 96.2h.75M99.7 96.2h.75M99.8 96.3h.75M99.9 95.8h.75M100.0 95.7h.75M100.1 95.6h.75M100.1 95.8h.75M100.2 95.6h.75M100.2 96.0h.75M100.3 95.6h.75M100.4 95.5h.75M100.5 95.8h.75M100.7 96.0h.75M100.7 96.5h.75M100.9 96.4h.75M100.9 95.5h.75M101.0 96.0h.75M101.0 96.4h.75M101.1 96.4h.75M101.1 96.1h.75M101.3 95.9h.75M101.5 96.1h.75M101.6 96.0h.75M101.7 95.9h.75M101.8 95.7h.75M101.8 96.4h.75M101.8 96.4h.75M101.8 96.5h.75M102.1 96.3h.75M102.3 96.5h.75M102.5 96.1h.75M102.5 95.7h.75M102.7 95.7h.75M102.7 95.8h.75M103.0 95.7h.75M103.0 95.7h.75M103.0 95.6h.75M103.0 96.1h.75M103.1 95.6h.75M103.3 95.8h.75M103.4 95.8h.75M103.4 96.4h.75M103.4 95.6h.75M103.5 95.6h.75M103.6 95.9h.75M103.6 95.9h.75M103.6 95.7h.75M103.8 95.6h.75M103.8 96.4h.75M103.9 95.7h.75M104.0 95.5h.75M104.0 96.5h.75M104.1 96.1h.75M104.1 95.8h.75M104.2 96.3h.75M104.3 96.1h.75M104.3 96.2h.75M104.5 96.1h.75M104.8 95.6h.75M105.0 95.9h.75M105.0 96.4h.75M105.0 96.5h.75M105.1 96.1h.75M105.2 96.0h.75M105.4 96.3h.75M105.4 95.9h.75M105.4 96.1h.75M105.6 96.0h.75M105.6 96.2h.75M105.7 95.9h.75M105.7 95.7h.75M105.8 96.2h.75M105.9 96.0h.75M105.9 96.1h.75M106.2 96.5h.75M106.3 95.5h.75M106.4 95.8h.75M106.6 96.4h.75M106.6 95.5h.75M106.7 95.7h.75M106.7 96.2h.75M106.7 96.3h.75M106.8 96.0h.75M106.8 96.2h.75M106.8 96.2h.75M106.9 95.8h.75M107.0 95.8h.75M107.0 96.5h.75M107.2 96.2h.75M107.4 95.9h.75M107.4 95.8h.75M107.6 96.1h.75M107.8 95.8h.75M107.9 95.8h.75M107.9 95.6h.75M107.9 95.6h.75M108.0 95.9h.75M108.0 95.7h.75M108.2 95.6h.75M108.3 95.9h.75M108.5 95.9h.75M108.5 96.4h.75M108.9 95.6h.75M109.0 96.2h.75M109.2 96.3h.75M109.3 96.2h.75M109.4 96.5h.75M109.4 95.6h.75M109.6 95.6h.75M109.7 96.1h.75M109.7 96.4h.75M109.9 95.7h.75M110.4 95.8h.75M110.5 95.8h.75M110.7 95.8h.75M110.8 96.5h.75M111.2 96.3h.75M111.3 95.6h.75M111.5 95.9h.75M111.8 96.4h.75M112.1 96.3h.75M112.2 96.5h.75M112.4 95.8h.75M112.5 96.4h.75M112.5 95.7h.75M112.7 96.1h.75M112.8 95.8h.75M113.2 96.0h.75M113.5 96.0h.75M113.5 95.9h.75M114.1 96.0h.75M114.1 96.2h.75M114.4 95.6h.75M114.5 95.5h.75M114.6 96.0h.75M115.0 95.7h.75M115.3 95.8h.75M123.7 96.3h.75M124.1 96.1h.75M124.4 95.9h.75M125.5 96.2h.75M125.8 95.8h.75M125.9 95.6h.75M126.1 95.9h.75M126.6 95.6h.75M126.8 95.6h.75M126.8 95.8h.75M127.0 95.7h.75M127.2 96.4h.75M127.3 96.3h.75M127.4 96.3h.75M127.4 96.3h.75M127.4 96.0h.75M127.4 95.7h.75M127.5 96.0h.75M127.6 96.4h.75M127.6 95.5h.75M127.8 95.7h.75M127.8 96.2h.75M127.9 95.7h.75M127.9 96.2h.75M128.0 95.7h.75M128.1 96.0h.75M128.1 96.2h.75M128.1 96.0h.75M128.2 95.6h.75M128.4 96.3h.75M128.4 96.3h.75M128.4 95.7h.75M128.5 96.5h.75M128.6 96.1h.75M128.7 96.2h.75M128.8 96.5h.75M128.8 96.2h.75M128.8 95.5h.75M128.9 96.3h.75M128.9 95.7h.75M128.9 96.2h.75M129.0 95.5h.75M129.0 96.4h.75M129.0 96.5h.75M129.1 96.3h.75M129.1 96.3h.75M129.1 96.0h.75M129.2 95.9h.75M129.3 96.0h.75M129.3 95.5h.75M129.3 96.1h.75M129.3 95.7h.75M129.4 96.4h.75M129.5 96.2h.75M129.5 95.5h.75M129.6 96.5h.75M129.6 96.3h.75M129.6 96.4h.75M129.7 96.0h.75M129.7 95.5h.75M129.7 95.9h.75M129.7 96.2h.75M129.8 96.5h.75M129.9 96.5h.75M129.9 95.5h.75M130.0 96.3h.75M130.0 95.9h.75M130.0 95.6h.75M130.0 96.0h.75M130.1 95.5h.75M130.1 96.4h.75M130.2 96.3h.75M130.2 96.0h.75M130.3 96.4h.75M130.3 95.6h.75M130.5 96.1h.75M130.5 95.9h.75M130.5 96.1h.75M130.5 95.6h.75M130.6 96.4h.75M130.7 96.5h.75M130.7 96.5h.75M130.9 96.2h.75M131.1 96.4h.75M131.2 95.8h.75M131.2 95.5h.75M131.4 96.0h.75M131.6 95.6h.75M131.6 95.9h.75M131.7 96.3h.75M131.9 96.0h.75M131.9 95.9h.75M132.0 95.6h.75M132.1 95.7h.75M132.1 95.6h.75M132.1 96.2h.75M132.4 96.1h.75M132.4 96.0h.75M132.4 96.0h.75M132.5 96.3h.75M132.5 96.2h.75M132.5 95.6h.75M132.7 95.8h.75M132.8 95.8h.75M133.3 96.1h.75M133.4 95.6h.75M133.4 95.7h.75M133.4 95.7h.75M133.5 95.5h.75M133.8 96.4h.75M133.9 96.2h.75M134.4 96.5h.75M134.4 96.5h.75M134.6 96.4h.75M134.6 95.8h.75M134.7 95.5h.75M134.8 95.5h.75M134.8 96.1h.75M134.9 96.4h.75M135.0 96.3h.75M135.4 95.8h.75M135.6 96.1h.75M136.0 95.7h.75M137.5 96.3h.75M138.5 96.1h.75M68.3 97.4h.75M69.1 97.0h.75M71.5 97.3h.75M72.6 96.6h.75M75.0 96.9h.75M75.4 96.9h.75M75.9 97.1h.75M76.7 96.6h.75M77.6 96.8h.75M78.0 96.6h.75M81.7 96.7h.75M83.0 97.1h.75M83.6 97.3h.75M85.7 97.3h.75M85.8 96.7h.75M86.7 97.5h.75M87.0 97.1h.75M87.3 96.9h.75M87.6 96.8h.75M88.6 97.5h.75M89.3 97.3h.75M89.6 96.7h.75M90.1 96.9h.75M90.3 96.7h.75M90.6 96.7h.75M90.8 96.8h.75M91.8 97.0h.75M92.0 97.1h.75M92.6 96.9h.75M92.7 96.8h.75M92.7 97.4h.75M93.1 96.7h.75M93.4 97.1h.75M93.7 96.8h.75M93.8 96.8h.75M94.1 96.6h.75M95.0 96.6h.75M95.2 97.1h.75M95.4 97.4h.75M95.5 96.7h.75M95.9 96.7h.75M95.9 97.4h.75M96.0 97.2h.75M96.0 96.9h.75M96.1 97.2h.75M96.4 97.0h.75M96.8 96.9h.75M96.8 96.6h.75M97.8 96.9h.75M98.1 97.4h.75M98.6 97.1h.75M98.7 96.5h.75M99.1 97.0h.75M99.3 97.4h.75M99.6 97.1h.75M100.0 96.9h.75M100.2 97.3h.75M100.3 97.0h.75M100.3 96.8h.75M100.3 96.9h.75M100.6 96.5h.75M101.0 97.3h.75M101.2 97.4h.75M101.3 97.1h.75M101.4 97.0h.75M101.4 96.6h.75M101.6 97.2h.75M101.9 97.0h.75M102.0 97.0h.75M102.1 97.2h.75M102.6 96.8h.75M102.7 96.5h.75M103.4 96.6h.75M103.5 97.1h.75M103.7 96.5h.75M103.8 97.1h.75M103.8 97.4h.75M103.8 96.9h.75M104.0 96.9h.75M104.3 96.8h.75M104.4 96.8h.75M104.5 97.4h.75M104.6 97.3h.75M104.7 97.1h.75M104.7 97.5h.75M104.9 96.9h.75M104.9 97.1h.75M105.0 96.7h.75M105.0 97.4h.75M105.0 97.2h.75M105.1 97.4h.75M105.2 96.5h.75M105.3 96.9h.75M105.5 97.1h.75M105.5 97.3h.75M105.6 96.6h.75M105.6 97.0h.75M105.6 96.5h.75M105.7 96.7h.75M105.7 97.4h.75M106.0 96.7h.75M106.0 97.0h.75M106.1 96.6h.75M106.2 97.1h.75M106.3 96.6h.75M106.3 96.9h.75M106.3 96.7h.75M106.4 97.0h.75M106.4 96.6h.75M106.5 97.3h.75M106.8 96.8h.75M106.9 97.1h.75M106.9 97.0h.75M106.9 97.0h.75M107.0 96.9h.75M107.0 97.4h.75M107.1 96.6h.75M107.2 96.9h.75M107.3 96.8h.75M107.5 96.8h.75M107.5 96.6h.75M107.7 97.4h.75M107.7 96.8h.75M107.7 96.8h.75M107.8 96.6h.75M107.8 96.9h.75M108.2 96.8h.75M108.3 96.9h.75M108.3 97.0h.75M108.3 97.0h.75M108.7 97.2h.75M109.1 97.1h.75M109.2 97.0h.75M109.4 97.3h.75M109.5 96.7h.75M109.5 97.5h.75M109.6 97.4h.75M109.6 97.1h.75M110.0 97.3h.75M110.1 97.4h.75M110.3 96.9h.75M110.5 96.7h.75M110.7 97.3h.75M110.7 97.1h.75M111.0 97.1h.75M111.1 97.2h.75M111.4 96.7h.75M111.6 96.5h.75M111.6 96.9h.75M111.7 96.6h.75M111.8 97.4h.75M112.0 96.6h.75M112.2 97.3h.75M112.5 97.3h.75M112.6 97.3h.75M113.0 97.3h.75M113.6 97.5h.75M113.7 97.4h.75M113.9 97.2h.75M114.4 96.7h.75M114.7 96.5h.75M120.7 96.6h.75M122.5 97.2h.75M122.7 96.6h.75M123.4 96.5h.75M123.6 96.9h.75M123.6 97.1h.75M123.7 96.8h.75M124.0 97.2h.75M124.2 97.5h.75M124.3 97.1h.75M124.5 97.2h.75M124.8 97.4h.75M124.9 97.4h.75M125.3 97.2h.75M125.3 97.3h.75M125.4 97.4h.75M125.4 96.7h.75M125.4 97.3h.75M125.7 96.7h.75M125.8 96.9h.75M125.8 97.0h.75M125.8 97.0h.75M125.9 97.4h.75M125.9 97.0h.75M126.1 97.2h.75M126.4 97.3h.75M126.6 97.0h.75M126.8 96.6h.75M126.9 96.5h.75M126.9 97.0h.75M126.9 96.7h.75M126.9 97.4h.75M127.0 97.2h.75M127.1 96.9h.75M127.1 96.9h.75M127.2 96.7h.75M127.3 96.6h.75M127.3 96.8h.75M127.3 96.9h.75M127.3 96.7h.75M127.4 97.5h.75M127.5 96.8h.75M127.5 97.3h.75M127.6 97.4h.75M127.6 96.7h.75M127.6 97.0h.75M127.7 96.9h.75M127.7 97.4h.75M127.7 97.3h.75M127.7 96.9h.75M127.8 97.5h.75M127.9 96.8h.75M127.9 97.5h.75M127.9 96.6h.75M127.9 96.8h.75M127.9 97.1h.75M128.0 96.5h.75M128.1 96.5h.75M128.1 97.4h.75M128.3 96.6h.75M128.3 97.4h.75M128.4 96.8h.75M128.4 96.8h.75M128.5 96.7h.75M128.6 96.7h.75M128.6 96.6h.75M128.7 96.7h.75M128.8 96.6h.75M128.9 97.4h.75M128.9 97.2h.75M128.9 97.1h.75M128.9 96.7h.75M128.9 96.9h.75M129.0 97.3h.75M129.0 97.2h.75M129.0 97.2h.75M129.1 96.6h.75M129.2 97.2h.75M129.2 96.8h.75M129.3 96.7h.75M129.3 96.8h.75M129.3 96.8h.75M129.3 96.9h.75M129.4 96.7h.75M129.4 97.1h.75M129.5 97.3h.75M129.6 97.3h.75M129.6 96.5h.75M129.6 97.0h.75M129.7 97.5h.75M129.7 97.0h.75M129.7 97.3h.75M129.7 97.1h.75M129.7 97.3h.75M129.7 96.6h.75M129.8 96.6h.75M129.8 96.8h.75M129.9 97.1h.75M130.0 96.8h.75M130.0 96.6h.75M130.1 97.2h.75M130.1 96.9h.75M130.5 97.2h.75M130.5 96.7h.75M130.5 96.5h.75M130.6 96.6h.75M130.6 96.9h.75M130.7 96.9h.75M130.7 97.1h.75M130.8 96.9h.75M130.8 97.2h.75M130.9 96.7h.75M130.9 97.4h.75M130.9 97.1h.75M131.0 96.7h.75M131.0 97.4h.75M131.1 97.0h.75M131.2 96.9h.75M131.2 96.7h.75M131.2 96.9h.75M131.3 97.5h.75M131.4 97.3h.75M131.4 96.8h.75M131.4 96.9h.75M131.5 96.6h.75M131.6 97.2h.75M131.6 97.1h.75M131.7 97.3h.75M131.8 97.0h.75M132.0 96.7h.75M132.0 97.1h.75M132.0 97.0h.75M132.1 96.6h.75M132.2 96.9h.75M132.2 96.8h.75M132.2 97.4h.75M132.3 97.4h.75M132.4 97.0h.75M132.4 97.0h.75M132.4 97.5h.75M132.4 97.2h.75M132.5 97.0h.75M132.6 97.4h.75M132.6 96.8h.75M132.8 97.3h.75M132.9 97.0h.75M133.0 96.6h.75M133.1 96.8h.75M133.1 97.5h.75M133.2 97.4h.75M133.4 97.4h.75M133.5 96.5h.75M133.5 97.1h.75M133.9 97.1h.75M134.1 97.1h.75M134.1 97.1h.75M134.3 97.5h.75M134.7 96.8h.75M135.1 97.2h.75M135.5 97.0h.75M136.1 97.2h.75M138.0 97.4h.75M68.2 97.5h.75M70.6 98.0h.75M71.5 97.6h.75M72.0 98.0h.75M72.5 98.0h.75M73.2 98.5h.75M74.6 98.3h.75M75.3 98.0h.75M76.0 97.8h.75M77.0 97.9h.75M77.4 97.8h.75M77.8 98.2h.75M78.6 98.4h.75M81.1 97.7h.75M81.8 97.9h.75M82.0 97.9h.75M82.1 98.2h.75M82.4 98.1h.75M82.7 97.9h.75M84.1 97.9h.75M84.3 97.8h.75M84.7 98.0h.75M84.7 97.8h.75M84.9 97.8h.75M85.6 98.4h.75M85.9 98.3h.75M86.4 98.1h.75M86.5 98.3h.75M87.2 97.5h.75M89.3 98.2h.75M89.7 98.0h.75M90.5 97.9h.75M90.7 98.4h.75M91.0 98.2h.75M91.5 97.6h.75M92.2 98.0h.75M93.8 97.9h.75M94.2 98.3h.75M94.3 97.7h.75M94.9 97.9h.75M95.0 98.0h.75M95.4 98.4h.75M96.2 97.8h.75M97.3 97.6h.75M97.3 98.0h.75M97.4 98.0h.75M97.4 97.8h.75M98.7 97.8h.75M99.1 97.8h.75M99.7 97.8h.75M99.8 98.0h.75M100.1 98.2h.75M100.3 98.0h.75M100.8 97.8h.75M100.9 97.5h.75M102.5 97.6h.75M102.9 97.7h.75M102.9 97.9h.75M103.2 97.6h.75M103.2 98.2h.75M103.2 97.5h.75M103.3 98.0h.75M104.0 97.9h.75M104.6 98.1h.75M105.2 97.8h.75M105.3 98.3h.75M105.8 97.5h.75M106.5 98.3h.75M106.8 97.6h.75M106.9 97.8h.75M107.1 98.4h.75M107.2 98.1h.75M107.3 97.5h.75M107.5 97.5h.75M108.1 98.5h.75M108.2 97.7h.75M108.2 98.0h.75M108.9 98.0h.75M109.5 98.1h.75M109.8 97.7h.75M110.0 97.8h.75M110.1 98.2h.75M110.2 97.7h.75M110.8 97.5h.75M111.1 97.8h.75M111.5 97.8h.75M111.6 98.0h.75M111.8 97.7h.75M111.8 98.0h.75M111.9 97.6h.75M111.9 98.3h.75M112.4 97.8h.75M112.4 98.1h.75M112.7 97.8h.75M113.4 98.0h.75M113.5 97.7h.75M113.7 98.3h.75M114.0 97.6h.75M114.2 97.8h.75M114.3 97.8h.75M114.8 97.7h.75M114.8 98.1h.75M115.3 98.1h.75M115.3 97.8h.75M120.8 97.8h.75M121.1 98.0h.75M121.3 97.8h.75M122.3 97.7h.75M122.4 98.1h.75M122.5 97.8h.75M122.5 97.9h.75M122.6 97.7h.75M122.8 98.2h.75M122.9 97.6h.75M123.0 98.1h.75M123.0 97.6h.75M123.1 97.8h.75M123.3 97.9h.75M123.6 98.0h.75M123.8 98.3h.75M123.8 97.5h.75M123.9 98.5h.75M124.1 98.3h.75M124.1 97.9h.75M124.2 98.1h.75M124.2 97.8h.75M124.3 98.5h.75M124.3 97.9h.75M124.4 97.6h.75M124.4 98.1h.75M124.4 98.1h.75M124.5 97.8h.75M124.6 97.7h.75M124.7 98.3h.75M124.8 98.5h.75M124.8 98.0h.75M125.0 98.2h.75M125.1 98.4h.75M125.1 97.6h.75M125.1 97.6h.75M125.1 97.8h.75M125.2 98.3h.75M125.2 97.7h.75M125.2 98.4h.75M125.2 97.5h.75M125.4 97.6h.75M125.4 97.9h.75M125.4 97.8h.75M125.5 97.8h.75M125.6 98.0h.75M125.8 98.0h.75M125.9 98.4h.75M125.9 98.2h.75M126.1 98.0h.75M126.1 98.4h.75M126.2 97.8h.75M126.2 98.2h.75M126.2 97.7h.75M126.3 98.5h.75M126.4 98.4h.75M126.4 97.8h.75M126.4 97.7h.75M126.5 97.6h.75M126.5 97.6h.75M126.7 98.2h.75M126.7 98.2h.75M126.7 97.6h.75M126.8 98.4h.75M126.9 97.6h.75M127.0 97.9h.75M127.0 98.5h.75M127.0 97.9h.75M127.1 97.9h.75M127.1 98.2h.75M127.1 98.0h.75M127.2 98.3h.75M127.2 98.0h.75M127.2 97.7h.75M127.3 98.0h.75M127.3 98.4h.75M127.3 98.4h.75M127.3 98.3h.75M127.3 98.1h.75M127.3 98.4h.75M127.4 98.4h.75M127.4 97.8h.75M127.5 97.8h.75M127.5 97.6h.75M127.6 97.8h.75M127.6 98.4h.75M127.6 98.3h.75M127.7 98.4h.75M127.7 97.8h.75M127.8 98.3h.75M127.8 98.2h.75M127.8 98.4h.75M127.9 98.3h.75M127.9 97.6h.75M127.9 98.5h.75M128.0 98.1h.75M128.0 97.6h.75M128.0 98.1h.75M128.1 97.8h.75M128.1 97.6h.75M128.1 98.1h.75M128.2 97.9h.75M128.2 97.6h.75M128.2 98.5h.75M128.3 97.6h.75M128.3 98.3h.75M128.3 97.5h.75M128.4 98.3h.75M128.4 98.2h.75M128.4 97.9h.75M128.4 98.2h.75M128.4 97.8h.75M128.4 97.9h.75M128.5 97.7h.75M128.5 97.8h.75M128.5 98.3h.75M128.5 97.9h.75M128.5 98.1h.75M128.5 98.4h.75M128.6 97.9h.75M128.6 98.5h.75M128.6 97.8h.75M128.7 98.0h.75M128.8 98.1h.75M128.8 97.8h.75M128.9 97.8h.75M128.9 98.2h.75M128.9 98.2h.75M128.9 98.0h.75M128.9 97.7h.75M129.0 97.6h.75M129.1 97.9h.75M129.1 98.3h.75M129.1 98.1h.75M129.1 97.9h.75M129.1 98.3h.75M129.2 98.1h.75M129.2 97.8h.75M129.4 98.1h.75M129.5 98.5h.75M129.5 97.9h.75M129.5 97.7h.75M129.5 98.0h.75M129.5 97.7h.75M129.7 97.9h.75M129.7 98.3h.75M129.7 97.6h.75M129.7 98.2h.75M129.8 98.4h.75M129.8 97.8h.75M129.8 97.5h.75M129.8 98.3h.75M129.8 97.7h.75M129.8 97.7h.75M129.9 97.9h.75M129.9 98.0h.75M129.9 98.1h.75M129.9 97.6h.75M129.9 98.5h.75M130.2 98.5h.75M130.4 97.9h.75M130.4 97.6h.75M130.4 98.1h.75M130.4 97.7h.75M130.4 98.4h.75M130.5 97.9h.75M130.5 97.9h.75M130.5 97.7h.75M130.6 97.6h.75M130.6 98.0h.75M130.6 97.6h.75M130.6 98.0h.75M130.6 97.6h.75M130.7 98.3h.75M130.7 97.8h.75M130.8 98.5h.75M130.8 98.4h.75M130.8 97.5h.75M130.8 97.7h.75M130.9 98.3h.75M130.9 97.6h.75M131.0 98.3h.75M131.4 97.6h.75M131.4 97.8h.75M131.5 97.6h.75M131.5 98.2h.75M131.5 98.5h.75M131.6 97.5h.75M131.6 98.0h.75M131.6 97.9h.75M131.6 98.4h.75M131.8 97.8h.75M131.9 98.1h.75M131.9 97.8h.75M132.0 97.7h.75M132.0 97.7h.75M132.0 98.0h.75M132.3 98.1h.75M132.5 97.5h.75M132.5 98.2h.75M132.5 98.0h.75M133.2 97.7h.75M133.5 97.7h.75M133.7 98.1h.75M133.9 98.1h.75M134.0 98.0h.75M134.0 97.9h.75M134.1 97.7h.75M134.2 98.4h.75M134.2 98.2h.75M134.3 98.0h.75M134.5 97.6h.75M135.0 98.2h.75M135.4 97.9h.75M135.4 97.7h.75M136.4 98.4h.75M139.9 97.9h.75M72.5 99.1h.75M72.9 98.7h.75M76.8 98.9h.75M77.5 99.4h.75M78.4 98.8h.75M78.7 99.4h.75M79.6 99.1h.75M81.0 99.1h.75M86.7 99.1h.75M89.5 98.9h.75M89.8 99.4h.75M91.9 99.1h.75M92.5 99.4h.75M94.0 98.9h.75M94.6 99.1h.75M94.7 99.3h.75M99.0 98.9h.75M99.3 98.9h.75M100.1 99.0h.75M102.3 99.3h.75M103.5 98.7h.75M103.7 98.5h.75M104.8 98.7h.75M104.9 98.6h.75M105.4 98.7h.75M106.6 98.7h.75M106.9 98.7h.75M107.8 99.1h.75M109.6 99.0h.75M110.6 98.5h.75M111.9 98.7h.75M113.0 99.4h.75M113.4 98.8h.75M113.4 98.5h.75M113.4 98.6h.75M113.5 99.3h.75M113.8 99.1h.75M113.8 98.7h.75M114.1 99.4h.75M114.7 98.8h.75M115.6 99.0h.75M115.6 98.8h.75M119.7 99.5h.75M119.7 98.8h.75M120.7 99.1h.75M120.8 99.1h.75M121.4 99.4h.75M121.9 99.3h.75M122.0 99.1h.75M122.2 98.8h.75M122.3 98.7h.75M122.4 98.6h.75M122.6 99.3h.75M122.7 98.6h.75M122.8 99.1h.75M122.9 98.8h.75M123.1 99.2h.75M123.2 99.5h.75M123.2 99.4h.75M123.3 99.4h.75M123.4 99.4h.75M123.4 99.1h.75M123.4 99.2h.75M123.4 99.1h.75M123.5 99.4h.75M123.5 99.2h.75M123.5 99.4h.75M123.6 98.9h.75M123.6 99.1h.75M123.6 98.7h.75M123.6 98.6h.75M123.7 98.5h.75M123.7 98.7h.75M123.8 99.3h.75M123.8 99.2h.75M123.8 99.2h.75M123.8 99.2h.75M123.9 98.9h.75M123.9 99.3h.75M123.9 99.5h.75M123.9 99.0h.75M124.0 98.8h.75M124.1 99.4h.75M124.1 99.5h.75M124.2 99.0h.75M124.3 98.7h.75M124.4 98.8h.75M124.5 98.9h.75M124.6 98.6h.75M124.6 99.0h.75M124.6 98.7h.75M124.7 98.5h.75M124.7 98.8h.75M124.7 99.0h.75M124.9 98.9h.75M124.9 99.5h.75M125.1 98.7h.75M125.1 99.3h.75M125.1 99.5h.75M125.2 99.0h.75M125.2 99.1h.75M125.2 99.2h.75M125.3 99.4h.75M125.3 98.8h.75M125.4 98.9h.75M125.5 98.7h.75M125.5 98.6h.75M125.5 99.1h.75M125.6 99.1h.75M125.7 99.2h.75M125.8 99.2h.75M125.8 98.8h.75M125.9 98.8h.75M126.1 99.5h.75M126.1 98.8h.75M126.2 98.8h.75M126.2 98.8h.75M126.3 98.7h.75M126.3 98.7h.75M126.3 99.0h.75M126.4 98.7h.75M126.4 99.3h.75M126.5 99.4h.75M126.5 99.5h.75M126.6 99.2h.75M126.6 99.4h.75M126.6 99.5h.75M126.6 98.6h.75M126.8 98.7h.75M126.8 98.6h.75M126.9 99.1h.75M127.0 98.8h.75M127.0 98.5h.75M127.0 99.0h.75M127.0 99.0h.75M127.1 99.2h.75M127.1 99.4h.75M127.1 98.9h.75M127.1 98.7h.75M127.2 98.9h.75M127.2 98.7h.75M127.3 99.1h.75M127.3 99.3h.75M127.3 98.5h.75M127.3 99.2h.75M127.4 99.5h.75M127.4 98.7h.75M127.5 98.9h.75M127.5 99.2h.75M127.6 98.8h.75M127.6 99.5h.75M127.6 99.4h.75M127.6 98.5h.75M127.7 98.7h.75M127.7 99.2h.75M127.8 99.4h.75M127.8 98.8h.75M127.8 98.7h.75M127.8 99.0h.75M127.9 99.0h.75M127.9 98.8h.75M127.9 98.9h.75M128.0 99.0h.75M128.0 98.9h.75M128.1 98.9h.75M128.1 98.7h.75M128.1 99.2h.75M128.2 99.1h.75M128.3 99.3h.75M128.3 98.8h.75M128.3 98.9h.75M128.4 98.7h.75M128.4 99.3h.75M128.4 99.2h.75M128.4 98.6h.75M128.4 99.3h.75M128.5 98.8h.75M128.5 99.2h.75M128.5 99.0h.75M128.5 99.2h.75M128.5 99.4h.75M128.5 98.6h.75M128.6 99.2h.75M128.6 98.6h.75M128.6 99.4h.75M128.6 99.5h.75M128.6 98.6h.75M128.7 99.3h.75M128.7 98.8h.75M128.8 99.4h.75M128.9 99.4h.75M129.0 99.0h.75M129.0 98.6h.75M129.0 99.0h.75M129.0 99.4h.75M129.0 99.3h.75M129.1 99.0h.75M129.1 98.6h.75M129.3 98.7h.75M129.3 98.6h.75M129.3 98.5h.75M129.3 99.2h.75M129.3 98.8h.75M129.4 98.6h.75M129.5 98.9h.75M129.5 98.9h.75M129.6 99.0h.75M129.6 98.7h.75M129.7 99.1h.75M129.7 98.5h.75M129.8 99.3h.75M129.8 99.4h.75M129.8 98.7h.75M129.9 98.8h.75M129.9 98.6h.75M130.0 99.5h.75M130.1 99.1h.75M130.1 99.5h.75M130.2 99.4h.75M130.2 98.7h.75M130.2 99.2h.75M130.3 99.4h.75M130.6 98.6h.75M130.7 98.7h.75M130.7 98.7h.75M130.7 99.2h.75M130.7 98.9h.75M130.8 98.9h.75M131.0 99.0h.75M131.2 98.9h.75M131.2 98.8h.75M131.2 99.3h.75M131.4 99.3h.75M131.5 98.8h.75M131.5 99.1h.75M131.6 99.1h.75M131.6 99.0h.75M131.6 98.7h.75M131.8 99.1h.75M131.8 99.1h.75M132.0 98.7h.75M132.1 98.7h.75M132.3 99.3h.75M132.3 98.6h.75M132.4 99.4h.75M132.5 98.8h.75M132.6 99.0h.75M132.7 98.6h.75M132.8 98.5h.75M132.8 98.6h.75M132.9 98.5h.75M133.0 98.7h.75M133.1 99.0h.75M133.5 98.6h.75M133.7 99.5h.75M134.1 99.2h.75M135.0 98.5h.75M135.8 99.4h.75M67.1 100.0h.75M68.0 100.5h.75M76.1 100.0h.75M77.1 100.3h.75M80.1 99.5h.75M80.5 100.5h.75M83.3 100.2h.75M84.1 100.0h.75M84.9 99.8h.75M86.9 100.2h.75M91.0 99.8h.75M92.8 100.1h.75M94.5 100.4h.75M95.0 100.3h.75M95.5 100.0h.75M97.1 100.3h.75M99.8 99.6h.75M100.6 100.1h.75M100.6 100.5h.75M101.5 100.1h.75M101.7 100.4h.75M102.1 100.3h.75M102.4 100.3h.75M104.1 99.6h.75M105.0 100.2h.75M105.2 100.0h.75M107.0 99.9h.75M107.3 100.3h.75M107.5 99.6h.75M107.7 99.6h.75M107.9 99.8h.75M108.3 99.7h.75M109.1 100.4h.75M109.3 99.6h.75M109.5 99.8h.75M109.8 99.7h.75M110.3 99.6h.75M110.9 99.7h.75M111.7 99.9h.75M112.8 100.2h.75M113.8 100.0h.75M114.8 99.6h.75M115.1 100.4h.75M115.6 99.6h.75M115.8 99.8h.75M118.8 100.5h.75M119.0 100.2h.75M119.1 100.0h.75M119.4 100.4h.75M119.6 100.5h.75M119.8 99.7h.75M120.2 100.3h.75M120.3 100.0h.75M120.4 99.5h.75M120.5 100.4h.75M120.5 100.0h.75M120.5 100.3h.75M120.6 100.4h.75M120.7 99.8h.75M120.8 100.2h.75M120.9 99.7h.75M121.0 100.3h.75M121.0 99.6h.75M121.0 100.4h.75M121.0 100.4h.75M121.5 99.9h.75M121.6 99.9h.75M121.7 100.1h.75M121.7 100.5h.75M122.0 99.8h.75M122.0 100.4h.75M122.0 100.0h.75M122.0 100.4h.75M122.2 99.9h.75M122.2 100.5h.75M122.2 100.3h.75M122.3 100.1h.75M122.3 100.4h.75M122.4 99.5h.75M122.6 100.4h.75M122.7 99.6h.75M122.8 100.0h.75M122.8 99.9h.75M122.9 99.6h.75M122.9 99.7h.75M122.9 99.8h.75M123.0 100.3h.75M123.0 99.9h.75M123.0 99.9h.75M123.0 99.8h.75M123.0 100.2h.75M123.0 99.9h.75M123.1 100.2h.75M123.1 100.2h.75M123.1 100.2h.75M123.1 99.8h.75M123.2 99.7h.75M123.3 100.3h.75M123.3 100.1h.75M123.3 99.7h.75M123.3 100.1h.75M123.3 99.9h.75M123.4 100.1h.75M123.4 100.2h.75M123.5 100.1h.75M123.6 100.2h.75M123.6 100.2h.75M123.6 99.7h.75M123.7 99.8h.75M123.8 100.3h.75M123.8 99.7h.75M123.8 100.2h.75M123.8 99.5h.75M123.9 100.5h.75M123.9 99.6h.75M123.9 99.7h.75M124.0 100.4h.75M124.0 99.9h.75M124.0 99.7h.75M124.1 100.5h.75M124.1 100.0h.75M124.2 100.3h.75M124.2 99.7h.75M124.3 100.0h.75M124.3 100.2h.75M124.3 99.8h.75M124.4 100.3h.75M124.4 100.3h.75M124.4 100.1h.75M124.4 99.9h.75M124.5 99.5h.75M124.5 100.2h.75M124.5 100.4h.75M124.6 99.6h.75M124.6 99.6h.75M124.7 100.2h.75M124.9 100.4h.75M124.9 100.1h.75M124.9 100.1h.75M125.1 99.6h.75M125.1 99.7h.75M125.2 99.7h.75M125.2 100.4h.75M125.3 99.9h.75M125.4 100.2h.75M125.4 99.6h.75M125.4 100.5h.75M125.4 100.0h.75M125.5 100.1h.75M125.6 99.8h.75M125.7 99.5h.75M125.9 100.3h.75M125.9 99.5h.75M125.9 100.5h.75M125.9 99.6h.75M126.0 99.7h.75M126.0 100.4h.75M126.0 99.6h.75M126.0 100.4h.75M126.1 99.8h.75M126.1 100.3h.75M126.1 100.2h.75M126.2 100.4h.75M126.2 100.2h.75M126.3 100.4h.75M126.3 99.7h.75M126.3 100.5h.75M126.3 99.9h.75M126.4 100.1h.75M126.4 99.5h.75M126.5 100.1h.75M126.5 100.1h.75M126.6 99.7h.75M126.6 100.0h.75M126.6 100.1h.75M126.7 99.6h.75M126.7 100.4h.75M126.8 100.3h.75M126.8 100.5h.75M126.9 100.4h.75M126.9 99.9h.75M127.1 99.9h.75M127.1 100.2h.75M127.1 100.2h.75M127.2 99.6h.75M127.2 100.1h.75M127.3 99.7h.75M127.3 99.7h.75M127.3 100.2h.75M127.4 100.5h.75M127.4 100.2h.75M127.4 99.9h.75M127.4 100.1h.75M127.5 100.0h.75M127.6 99.7h.75M127.7 99.7h.75M127.7 100.4h.75M127.7 99.6h.75M127.7 99.7h.75M127.7 100.3h.75M127.8 99.7h.75M127.8 99.8h.75M127.8 100.4h.75M127.9 100.0h.75M127.9 100.3h.75M127.9 99.9h.75M127.9 100.4h.75M128.0 100.0h.75M128.0 99.7h.75M128.0 99.7h.75M128.0 100.2h.75M128.0 99.8h.75M128.1 100.3h.75M128.2 100.3h.75M128.2 99.9h.75M128.3 99.9h.75M128.3 100.4h.75M128.3 100.3h.75M128.3 99.6h.75M128.4 100.0h.75M128.4 99.9h.75M128.5 100.5h.75M128.6 99.5h.75M128.8 99.9h.75M128.9 99.6h.75M128.9 99.7h.75M129.0 100.2h.75M129.0 99.6h.75M129.0 99.6h.75M129.3 99.9h.75M129.3 100.3h.75M129.4 100.0h.75M129.4 99.7h.75M129.9 100.5h.75M129.9 100.3h.75M129.9 99.6h.75M129.9 99.8h.75M130.1 99.8h.75M130.1 100.1h.75M130.2 100.0h.75M130.4 100.1h.75M130.9 99.6h.75M131.1 100.0h.75M131.4 99.8h.75M131.5 99.5h.75M131.6 100.1h.75M131.6 99.8h.75M132.0 100.2h.75M132.1 99.7h.75M132.1 100.4h.75M133.3 99.6h.75M133.4 99.7h.75M133.4 100.3h.75M133.6 99.6h.75M69.6 101.5h.75M70.0 100.7h.75M73.3 101.1h.75M74.1 101.4h.75M75.2 100.8h.75M75.6 101.3h.75M77.0 101.0h.75M77.8 101.4h.75M78.1 101.5h.75M81.4 101.4h.75M86.4 100.5h.75M91.5 101.0h.75M91.7 101.4h.75M92.3 100.9h.75M93.9 100.5h.75M96.3 100.9h.75M97.2 100.9h.75M97.3 101.0h.75M98.4 101.4h.75M99.4 101.3h.75M101.7 101.2h.75M101.8 101.1h.75M105.2 101.1h.75M105.2 100.9h.75M105.5 101.0h.75M107.1 101.4h.75M107.9 101.4h.75M109.0 100.9h.75M112.7 100.8h.75M113.1 100.9h.75M114.1 100.8h.75M115.7 100.9h.75M115.8 100.9h.75M116.3 101.2h.75M116.3 100.8h.75M117.0 101.3h.75M117.2 101.0h.75M117.5 101.2h.75M117.5 100.9h.75M118.2 100.7h.75M118.6 101.1h.75M118.7 100.7h.75M118.7 101.1h.75M118.8 101.4h.75M118.9 101.4h.75M118.9 101.4h.75M119.0 100.9h.75M119.1 101.4h.75M119.2 101.4h.75M119.7 100.9h.75M119.8 101.0h.75M119.8 101.2h.75M119.9 101.5h.75M119.9 100.9h.75M120.0 101.0h.75M120.1 100.8h.75M120.2 101.0h.75M120.3 100.7h.75M120.4 100.6h.75M120.5 100.9h.75M120.6 100.5h.75M120.7 100.9h.75M120.9 100.5h.75M120.9 101.3h.75M121.0 101.2h.75M121.2 101.0h.75M121.2 100.7h.75M121.4 100.8h.75M121.4 100.5h.75M121.6 101.3h.75M121.6 101.3h.75M121.6 101.1h.75M121.8 101.5h.75M121.8 101.3h.75M121.8 101.3h.75M121.8 100.8h.75M121.9 101.4h.75M121.9 101.0h.75M121.9 100.5h.75M122.3 101.4h.75M122.3 100.6h.75M122.3 100.6h.75M122.3 101.5h.75M122.4 101.0h.75M122.4 101.4h.75M122.4 101.2h.75M122.4 100.6h.75M122.4 101.2h.75M122.5 100.9h.75M122.5 100.7h.75M122.6 101.1h.75M122.6 100.7h.75M122.6 101.2h.75M122.7 100.7h.75M122.7 101.2h.75M122.9 101.0h.75M122.9 101.3h.75M123.0 100.6h.75M123.1 101.1h.75M123.2 101.5h.75M123.2 101.2h.75M123.2 101.1h.75M123.4 100.7h.75M123.4 100.9h.75M123.5 100.8h.75M123.5 101.0h.75M123.6 101.0h.75M123.6 101.2h.75M123.6 101.1h.75M123.6 100.7h.75M123.6 101.5h.75M123.7 101.4h.75M123.8 101.2h.75M123.8 100.6h.75M123.8 101.3h.75M123.8 101.5h.75M123.9 101.1h.75M123.9 101.4h.75M123.9 100.9h.75M124.0 100.7h.75M124.0 101.1h.75M124.0 100.7h.75M124.0 101.4h.75M124.1 101.0h.75M124.2 101.4h.75M124.3 101.5h.75M124.3 100.8h.75M124.3 100.7h.75M124.4 100.5h.75M124.5 101.1h.75M124.5 101.4h.75M124.5 101.0h.75M124.5 101.4h.75M124.5 100.8h.75M124.6 101.3h.75M124.6 101.1h.75M124.6 101.2h.75M124.7 100.9h.75M124.7 101.2h.75M124.7 101.4h.75M124.8 101.1h.75M124.8 101.1h.75M124.8 101.3h.75M124.9 101.4h.75M124.9 100.6h.75M124.9 101.0h.75M124.9 100.7h.75M125.1 101.2h.75M125.1 101.3h.75M125.1 101.1h.75M125.2 100.9h.75M125.2 100.6h.75M125.3 100.8h.75M125.3 101.1h.75M125.3 101.2h.75M125.4 101.0h.75M125.5 100.9h.75M125.5 100.9h.75M125.6 100.7h.75M125.6 101.0h.75M125.6 100.6h.75M125.6 100.7h.75M125.7 100.5h.75M125.7 101.3h.75M125.8 101.2h.75M125.9 101.4h.75M126.0 101.2h.75M126.0 101.2h.75M126.0 100.6h.75M126.1 101.2h.75M126.1 101.2h.75M126.1 101.2h.75M126.2 101.3h.75M126.2 101.4h.75M126.2 101.4h.75M126.2 100.8h.75M126.2 101.4h.75M126.3 101.4h.75M126.4 100.6h.75M126.4 100.8h.75M126.6 101.3h.75M126.6 100.7h.75M126.6 101.2h.75M126.7 100.8h.75M126.7 100.6h.75M126.7 101.4h.75M126.8 101.5h.75M126.8 101.1h.75M126.8 100.9h.75M126.8 100.7h.75M126.9 101.2h.75M126.9 100.5h.75M127.0 100.7h.75M127.0 101.1h.75M127.0 101.0h.75M127.0 101.0h.75M127.0 100.9h.75M127.0 101.0h.75M127.0 100.9h.75M127.1 100.8h.75M127.1 101.4h.75M127.1 100.6h.75M127.2 100.8h.75M127.2 101.3h.75M127.3 101.4h.75M127.3 101.0h.75M127.4 100.7h.75M127.4 101.2h.75M127.4 101.2h.75M127.5 101.0h.75M127.5 101.3h.75M127.6 100.8h.75M127.6 101.3h.75M127.6 100.8h.75M127.6 101.0h.75M127.7 101.3h.75M127.7 101.3h.75M127.8 100.7h.75M127.9 100.6h.75M127.9 100.9h.75M128.0 100.9h.75M128.1 101.1h.75M128.1 100.8h.75M128.2 101.3h.75M128.2 100.9h.75M128.2 101.0h.75M128.3 100.5h.75M128.3 101.5h.75M128.4 101.0h.75M128.4 100.9h.75M128.4 101.2h.75M128.5 100.7h.75M128.5 100.6h.75M128.5 101.1h.75M128.6 100.5h.75M128.6 100.6h.75M128.7 101.0h.75M128.9 101.3h.75M128.9 100.9h.75M129.2 101.4h.75M129.2 100.8h.75M129.3 101.2h.75M129.3 100.8h.75M129.4 101.2h.75M129.7 101.5h.75M130.0 101.2h.75M130.1 100.8h.75M130.4 100.7h.75M130.6 101.0h.75M130.7 100.9h.75M130.8 100.7h.75M130.8 100.7h.75M131.4 101.2h.75M132.3 101.2h.75M70.9 102.3h.75M72.9 102.4h.75M75.1 102.0h.75M75.7 101.7h.75M76.5 101.9h.75M77.7 101.6h.75M77.9 101.7h.75M82.9 101.7h.75M83.8 101.9h.75M86.3 101.6h.75M87.3 102.2h.75M87.5 101.6h.75M93.0 102.0h.75M93.0 101.8h.75M97.0 101.7h.75M97.3 101.7h.75M97.3 102.2h.75M97.9 101.9h.75M100.6 101.8h.75M102.9 101.5h.75M103.9 102.4h.75M104.4 102.1h.75M104.7 101.7h.75M105.5 101.7h.75M105.7 102.0h.75M106.6 101.5h.75M109.7 101.9h.75M114.3 102.1h.75M114.7 101.6h.75M114.9 102.4h.75M115.6 102.0h.75M116.9 101.9h.75M117.1 101.7h.75M117.5 102.4h.75M117.8 101.6h.75M117.9 102.1h.75M118.2 101.9h.75M118.5 102.2h.75M118.7 102.1h.75M118.7 102.0h.75M118.9 101.9h.75M119.3 102.3h.75M119.4 102.3h.75M119.4 102.1h.75M119.4 102.2h.75M119.6 102.0h.75M119.6 102.2h.75M119.9 102.4h.75M119.9 102.0h.75M120.0 101.8h.75M120.2 102.2h.75M120.2 102.4h.75M120.3 102.3h.75M120.4 102.4h.75M120.5 101.7h.75M120.6 101.7h.75M120.7 102.1h.75M120.9 102.0h.75M121.0 102.3h.75M121.0 102.5h.75M121.0 101.8h.75M121.1 101.7h.75M121.1 101.6h.75M121.1 102.4h.75M121.2 102.0h.75M121.3 102.3h.75M121.4 102.0h.75M121.4 101.8h.75M121.4 101.6h.75M121.5 101.5h.75M121.5 102.2h.75M121.6 102.0h.75M121.8 102.1h.75M121.8 102.3h.75M121.8 102.2h.75M121.9 101.5h.75M121.9 102.4h.75M122.0 102.2h.75M122.0 102.0h.75M122.1 102.2h.75M122.1 101.6h.75M122.2 101.9h.75M122.3 102.3h.75M122.3 102.1h.75M122.3 102.5h.75M122.4 101.6h.75M122.4 101.8h.75M122.5 101.6h.75M122.6 102.4h.75M122.7 102.4h.75M122.8 102.1h.75M122.8 101.6h.75M122.9 101.7h.75M123.0 102.3h.75M123.0 101.9h.75M123.2 102.4h.75M123.3 102.4h.75M123.3 101.7h.75M123.3 101.9h.75M123.3 102.4h.75M123.4 102.4h.75M123.4 102.0h.75M123.4 102.4h.75M123.5 101.7h.75M123.6 101.9h.75M123.6 102.0h.75M123.7 102.4h.75M123.7 101.6h.75M123.9 102.5h.75M123.9 102.3h.75M123.9 101.6h.75M124.0 101.7h.75M124.1 101.9h.75M124.1 102.2h.75M124.2 101.8h.75M124.2 102.3h.75M124.3 101.6h.75M124.3 102.4h.75M124.3 102.4h.75M124.4 101.7h.75M124.4 102.1h.75M124.5 102.3h.75M124.5 102.1h.75M124.6 102.1h.75M124.6 101.7h.75M124.7 102.4h.75M124.7 102.2h.75M124.7 102.5h.75M124.8 102.1h.75M124.8 101.8h.75M124.9 102.3h.75M124.9 102.4h.75M125.0 101.6h.75M125.0 101.6h.75M125.1 102.1h.75M125.1 101.6h.75M125.1 101.5h.75M125.1 101.5h.75M125.2 102.4h.75M125.2 101.6h.75M125.2 101.7h.75M125.2 102.0h.75M125.3 102.0h.75M125.3 102.1h.75M125.5 101.7h.75M125.7 101.6h.75M125.7 101.9h.75M125.7 101.5h.75M125.8 102.0h.75M125.8 101.7h.75M125.9 102.3h.75M126.1 101.9h.75M126.1 101.5h.75M126.2 102.1h.75M126.3 102.5h.75M126.4 101.8h.75M126.4 102.1h.75M126.4 101.8h.75M126.6 102.2h.75M126.7 102.1h.75M126.7 101.6h.75M126.8 102.1h.75M126.9 101.6h.75M126.9 101.9h.75M127.0 101.9h.75M127.1 102.0h.75M127.1 101.5h.75M127.2 102.1h.75M127.5 102.0h.75M127.5 101.8h.75M127.5 102.3h.75M128.1 101.8h.75M128.2 101.9h.75M128.5 101.8h.75M128.8 101.7h.75M129.0 101.7h.75M129.2 101.8h.75M129.7 102.0h.75M130.2 101.8h.75M130.2 101.8h.75M130.3 101.9h.75M130.6 101.8h.75M131.0 101.6h.75M131.0 101.9h.75M131.2 102.1h.75M131.3 101.9h.75M132.7 102.4h.75M72.9 103.2h.75M73.3 103.2h.75M73.5 102.6h.75M75.2 102.7h.75M78.7 102.9h.75M79.2 103.2h.75M80.1 103.0h.75M87.0 102.5h.75M90.5 103.2h.75M92.3 103.1h.75M92.4 103.3h.75M92.7 103.3h.75M92.8 102.7h.75M94.6 103.0h.75M95.4 103.2h.75M95.5 103.0h.75M95.5 103.1h.75M96.0 102.9h.75M96.6 102.6h.75M97.8 102.7h.75M97.9 103.4h.75M100.7 102.6h.75M100.7 102.9h.75M101.4 103.0h.75M104.8 102.5h.75M105.8 102.9h.75M106.4 102.9h.75M107.6 102.7h.75M108.4 102.7h.75M109.4 102.7h.75M112.4 102.6h.75M112.5 102.7h.75M112.8 103.2h.75M112.9 103.0h.75M113.1 103.5h.75M113.2 103.0h.75M113.8 103.4h.75M114.2 103.2h.75M114.3 103.4h.75M114.5 102.8h.75M114.7 103.0h.75M115.7 103.4h.75M115.7 103.0h.75M115.8 103.2h.75M116.5 103.1h.75M116.7 103.2h.75M117.0 103.2h.75M117.4 103.1h.75M117.6 102.9h.75M117.6 103.0h.75M117.7 103.3h.75M117.8 103.2h.75M117.9 103.4h.75M118.0 102.7h.75M118.1 103.0h.75M118.3 102.8h.75M118.4 102.6h.75M118.6 102.6h.75M118.6 103.5h.75M118.7 103.5h.75M118.8 103.0h.75M118.9 102.6h.75M118.9 103.4h.75M118.9 102.9h.75M119.1 103.0h.75M119.2 102.7h.75M119.3 103.0h.75M119.3 103.2h.75M119.4 103.4h.75M119.5 102.7h.75M119.7 102.8h.75M119.7 103.1h.75M119.7 103.3h.75M119.8 102.6h.75M119.9 102.6h.75M120.0 102.7h.75M120.1 103.1h.75M120.1 102.6h.75M120.1 102.8h.75M120.2 103.5h.75M120.4 103.4h.75M120.5 102.9h.75M120.6 103.1h.75M120.7 103.1h.75M120.8 103.4h.75M120.9 102.6h.75M121.0 102.7h.75M121.0 103.4h.75M121.0 102.7h.75M121.1 103.3h.75M121.1 102.5h.75M121.1 102.8h.75M121.2 103.0h.75M121.3 102.8h.75M121.3 102.8h.75M121.3 102.8h.75M121.3 103.5h.75M121.3 102.8h.75M121.3 102.8h.75M121.4 102.9h.75M121.4 103.0h.75M121.4 103.4h.75M121.5 103.3h.75M121.6 102.7h.75M121.6 103.4h.75M121.6 102.6h.75M121.6 103.1h.75M121.7 102.8h.75M121.8 102.7h.75M121.9 102.5h.75M121.9 103.2h.75M121.9 102.9h.75M122.0 102.8h.75M122.0 103.2h.75M122.0 102.9h.75M122.0 102.7h.75M122.0 103.3h.75M122.1 103.3h.75M122.1 103.2h.75M122.1 102.9h.75M122.1 103.2h.75M122.1 102.6h.75M122.1 103.1h.75M122.2 103.4h.75M122.3 102.7h.75M122.4 102.5h.75M122.4 103.2h.75M122.4 102.7h.75M122.5 102.8h.75M122.5 103.5h.75M122.5 103.3h.75M122.7 103.3h.75M122.7 102.8h.75M122.7 103.1h.75M122.7 103.0h.75M122.7 102.8h.75M122.9 102.9h.75M122.9 103.2h.75M123.0 102.9h.75M123.0 102.7h.75M123.1 102.9h.75M123.1 103.5h.75M123.2 102.6h.75M123.3 103.2h.75M123.3 102.6h.75M123.4 103.4h.75M123.4 103.3h.75M123.4 102.5h.75M123.5 103.1h.75M123.6 102.7h.75M123.8 102.9h.75M123.8 102.7h.75M123.9 103.0h.75M123.9 103.3h.75M123.9 103.5h.75M124.0 102.9h.75M124.0 103.4h.75M124.2 103.0h.75M124.3 102.8h.75M124.3 102.6h.75M124.4 102.8h.75M124.5 102.8h.75M124.5 103.5h.75M124.5 102.9h.75M124.6 102.9h.75M124.8 103.1h.75M124.8 102.6h.75M124.9 103.4h.75M125.0 102.9h.75M125.0 102.5h.75M125.2 103.5h.75M125.2 102.9h.75M125.3 102.5h.75M125.4 102.8h.75M125.5 102.8h.75M125.5 102.5h.75M125.6 103.4h.75M125.8 102.6h.75M125.8 102.7h.75M125.8 103.4h.75M125.8 102.9h.75M125.9 102.6h.75M125.9 102.6h.75M125.9 102.5h.75M126.1 102.9h.75M126.1 103.4h.75M126.2 102.6h.75M126.2 102.7h.75M126.3 102.6h.75M126.5 102.5h.75M126.5 103.0h.75M126.6 102.9h.75M126.7 103.0h.75M126.9 103.2h.75M127.0 102.5h.75M127.1 102.9h.75M127.3 103.3h.75M127.4 102.8h.75M127.5 103.2h.75M127.6 102.7h.75M127.7 103.0h.75M127.8 103.0h.75M128.1 103.4h.75M128.2 102.8h.75M128.3 103.3h.75M128.3 102.9h.75M128.6 102.5h.75M128.8 102.9h.75M136.0 103.2h.75M71.8 103.8h.75M74.9 104.3h.75M75.3 103.6h.75M78.9 103.8h.75M80.6 103.9h.75M80.8 104.0h.75M82.0 104.5h.75M82.3 104.3h.75M85.1 104.4h.75M87.3 104.2h.75M89.5 104.1h.75M91.0 104.1h.75M92.4 104.3h.75M98.4 104.0h.75M98.7 103.8h.75M98.7 104.0h.75M100.0 104.1h.75M104.0 104.1h.75M104.8 104.4h.75M109.6 104.5h.75M110.6 104.3h.75M111.0 104.5h.75M111.7 104.0h.75M111.9 103.9h.75M112.5 103.7h.75M112.6 104.3h.75M112.8 103.8h.75M113.3 104.4h.75M113.9 103.6h.75M113.9 104.3h.75M114.1 103.6h.75M114.2 103.6h.75M114.6 104.3h.75M114.9 103.6h.75M115.2 104.1h.75M115.3 103.9h.75M115.4 104.3h.75M116.0 103.5h.75M116.1 104.2h.75M116.1 103.6h.75M116.6 103.9h.75M116.6 103.6h.75M116.9 103.6h.75M117.0 103.8h.75M117.0 103.6h.75M117.2 104.1h.75M117.2 103.9h.75M117.4 104.2h.75M117.4 104.0h.75M117.5 103.9h.75M117.5 103.9h.75M117.5 104.3h.75M117.6 104.0h.75M117.6 104.4h.75M117.7 103.6h.75M117.8 104.2h.75M117.9 103.5h.75M117.9 104.0h.75M118.0 103.8h.75M118.2 103.7h.75M118.2 103.7h.75M118.2 104.2h.75M118.3 104.4h.75M118.3 104.4h.75M118.4 104.2h.75M118.4 104.2h.75M118.5 104.2h.75M118.6 103.5h.75M118.6 103.7h.75M118.6 104.3h.75M118.7 103.6h.75M118.7 104.3h.75M118.8 104.4h.75M119.1 103.5h.75M119.1 103.9h.75M119.2 103.9h.75M119.2 103.7h.75M119.3 103.9h.75M119.4 104.0h.75M119.5 104.4h.75M119.6 104.5h.75M119.6 104.4h.75M119.7 104.0h.75M119.7 103.6h.75M119.9 104.4h.75M119.9 103.5h.75M120.1 104.2h.75M120.1 104.1h.75M120.2 104.2h.75M120.2 104.1h.75M120.2 104.0h.75M120.2 104.1h.75M120.2 104.3h.75M120.3 104.0h.75M120.3 104.5h.75M120.3 104.4h.75M120.4 104.0h.75M120.4 103.6h.75M120.4 103.6h.75M120.4 104.3h.75M120.5 103.7h.75M120.5 103.6h.75M120.5 104.3h.75M120.6 104.4h.75M120.6 103.9h.75M120.8 104.0h.75M120.8 103.8h.75M120.8 103.9h.75M121.0 104.3h.75M121.0 103.7h.75M121.2 103.8h.75M121.3 104.3h.75M121.4 104.3h.75M121.4 104.0h.75M121.4 103.5h.75M121.5 103.7h.75M121.5 104.0h.75M121.5 103.9h.75M121.5 104.2h.75M121.5 104.4h.75M122.0 104.2h.75M122.0 103.6h.75M122.3 104.1h.75M122.4 103.9h.75M122.7 103.5h.75M122.9 104.2h.75M123.0 103.5h.75M123.0 103.8h.75M123.1 103.7h.75M123.2 103.8h.75M123.3 103.9h.75M123.4 104.5h.75M123.5 103.5h.75M123.5 103.6h.75M123.7 104.3h.75M124.0 104.0h.75M124.0 104.5h.75M124.1 104.0h.75M124.3 103.5h.75M124.5 103.9h.75M124.6 104.1h.75M125.0 104.4h.75M125.1 103.7h.75M125.2 103.7h.75M125.2 103.5h.75M125.2 103.8h.75M125.2 103.8h.75M125.2 104.2h.75M125.3 104.3h.75M125.5 103.5h.75M125.7 104.4h.75M125.7 104.4h.75M126.0 103.6h.75M126.3 104.3h.75M126.3 103.7h.75M126.4 104.3h.75M126.7 103.7h.75M126.8 104.0h.75M126.9 104.2h.75M127.5 104.0h.75M127.6 104.4h.75M128.1 104.1h.75M128.4 103.9h.75M128.5 103.7h.75M129.4 104.2h.75M129.9 104.1h.75M131.2 104.0h.75M133.0 104.2h.75M142.8 103.8h.75M144.0 104.4h.75M69.7 105.1h.75M71.1 105.2h.75M77.2 104.9h.75M78.9 105.3h.75M80.4 105.3h.75M82.4 104.6h.75M83.2 104.6h.75M84.0 104.9h.75M88.6 104.8h.75M88.9 104.9h.75M90.1 105.5h.75M98.2 105.1h.75M98.5 104.9h.75M99.1 104.8h.75M100.2 105.5h.75M107.1 105.2h.75M107.6 104.6h.75M108.9 105.0h.75M110.2 104.6h.75M110.9 104.8h.75M111.2 105.3h.75M111.3 104.8h.75M112.3 105.3h.75M112.6 105.0h.75M112.8 104.6h.75M113.1 105.0h.75M113.1 104.9h.75M113.3 105.4h.75M113.4 104.8h.75M113.6 105.3h.75M113.6 105.4h.75M113.6 104.8h.75M113.8 104.8h.75M114.0 105.3h.75M114.2 104.9h.75M114.3 105.4h.75M114.4 104.7h.75M114.5 105.3h.75M114.5 105.4h.75M114.5 104.9h.75M114.6 104.5h.75M114.7 105.2h.75M114.7 104.8h.75M114.8 105.4h.75M114.9 105.0h.75M115.0 104.7h.75M115.3 105.3h.75M115.4 105.4h.75M115.4 104.7h.75M115.5 104.8h.75M115.6 104.9h.75M115.7 105.3h.75M115.7 104.8h.75M116.3 104.9h.75M116.6 105.5h.75M117.0 105.0h.75M117.3 105.4h.75M117.4 105.2h.75M117.6 104.7h.75M117.7 105.2h.75M117.8 105.1h.75M117.9 105.3h.75M118.0 104.9h.75M118.3 105.1h.75M118.4 105.0h.75M118.4 105.1h.75M118.5 104.5h.75M118.6 104.8h.75M118.7 105.5h.75M119.0 105.0h.75M119.1 105.4h.75M119.3 105.2h.75M119.5 105.2h.75M119.6 104.5h.75M119.7 104.7h.75M119.7 104.9h.75M119.7 105.4h.75M119.9 105.1h.75M120.1 105.0h.75M120.3 104.7h.75M120.3 104.6h.75M120.4 104.6h.75M120.5 105.1h.75M120.5 105.0h.75M120.6 105.0h.75M120.6 104.8h.75M120.9 105.1h.75M121.3 105.2h.75M121.4 105.2h.75M121.5 105.2h.75M121.9 105.2h.75M121.9 105.0h.75M122.0 105.0h.75M122.0 105.1h.75M122.1 105.2h.75M122.2 105.1h.75M122.3 104.8h.75M122.3 104.7h.75M122.3 104.9h.75M122.5 105.2h.75M122.7 105.5h.75M122.8 105.1h.75M122.8 104.9h.75M122.9 105.2h.75M123.0 104.9h.75M123.0 104.8h.75M123.2 105.1h.75M123.4 105.4h.75M123.9 105.1h.75M124.1 105.3h.75M124.3 104.6h.75M124.5 105.1h.75M124.5 105.3h.75M125.4 105.4h.75M125.5 104.5h.75M125.5 105.1h.75M125.6 104.7h.75M126.7 104.9h.75M127.9 105.3h.75M132.1 104.5h.75M132.2 104.9h.75M135.9 105.3h.75M140.5 104.9h.75M141.1 105.5h.75M68.2 105.7h.75M68.2 105.8h.75M74.0 105.7h.75M80.3 105.9h.75M81.6 106.3h.75M83.0 106.3h.75M86.2 106.4h.75M88.1 105.9h.75M88.5 105.5h.75M92.5 106.1h.75M93.1 106.0h.75M93.5 105.9h.75M95.8 106.4h.75M97.5 106.4h.75M97.7 105.9h.75M98.7 106.3h.75M98.8 105.9h.75M100.8 105.9h.75M102.8 105.7h.75M103.0 105.8h.75M104.2 105.6h.75M105.6 106.1h.75M105.9 105.7h.75M106.7 106.1h.75M106.8 106.3h.75M108.8 106.1h.75M109.0 106.2h.75M109.2 106.2h.75M109.7 105.9h.75M110.3 105.6h.75M111.0 106.4h.75M111.5 105.9h.75M111.5 106.0h.75M111.6 106.3h.75M112.0 105.7h.75M112.2 106.3h.75M112.3 105.7h.75M112.3 106.4h.75M112.4 106.0h.75M112.5 105.7h.75M112.7 106.4h.75M112.8 105.6h.75M113.1 105.8h.75M113.2 106.0h.75M113.4 106.4h.75M113.7 105.9h.75M113.9 106.1h.75M114.1 105.7h.75M114.2 106.5h.75M114.3 106.4h.75M114.3 105.6h.75M114.7 106.4h.75M115.0 106.3h.75M115.1 106.1h.75M115.2 105.9h.75M115.2 105.6h.75M115.2 106.3h.75M115.2 106.4h.75M115.3 106.1h.75M116.0 106.0h.75M116.0 105.9h.75M116.0 105.7h.75M116.2 106.4h.75M116.2 105.5h.75M116.3 106.3h.75M116.3 105.6h.75M116.6 106.3h.75M116.6 105.9h.75M116.8 105.7h.75M116.9 106.4h.75M117.0 105.9h.75M117.0 106.3h.75M117.1 106.2h.75M117.3 106.1h.75M117.5 106.4h.75M117.5 105.5h.75M117.7 106.4h.75M117.9 106.4h.75M118.0 106.3h.75M118.1 106.2h.75M118.1 105.9h.75M118.1 106.0h.75M118.4 106.3h.75M118.5 105.6h.75M118.8 106.0h.75M118.9 105.8h.75M118.9 105.9h.75M119.2 105.9h.75M119.5 106.2h.75M119.5 105.5h.75M119.6 106.5h.75M119.7 105.7h.75M119.9 105.8h.75M120.4 105.8h.75M120.4 105.7h.75M120.5 106.4h.75M120.6 106.5h.75M120.8 105.6h.75M121.3 106.3h.75M121.5 105.8h.75M121.5 105.8h.75M121.6 105.9h.75M121.6 106.3h.75M121.9 105.7h.75M121.9 106.1h.75M121.9 106.1h.75M122.0 106.1h.75M122.1 105.7h.75M122.5 105.8h.75M122.6 105.7h.75M122.9 105.5h.75M123.3 106.2h.75M123.6 105.6h.75M123.8 105.9h.75M124.0 106.2h.75M124.3 105.9h.75M124.4 106.0h.75M124.7 105.9h.75M125.1 106.1h.75M125.2 105.5h.75M125.7 106.3h.75M126.1 106.4h.75M129.0 106.0h.75M130.0 105.6h.75M139.6 105.5h.75M139.9 105.8h.75M69.8 106.8h.75M77.0 106.7h.75M81.2 107.3h.75M87.6 106.6h.75M87.8 107.0h.75M91.0 107.0h.75M91.8 107.3h.75M91.9 107.5h.75M93.5 106.8h.75M93.6 107.3h.75M96.1 106.9h.75M97.2 107.4h.75M97.7 106.7h.75M98.2 107.1h.75M98.4 107.2h.75M101.5 106.6h.75M102.0 107.0h.75M103.2 107.3h.75M103.9 107.5h.75M105.6 107.2h.75M105.7 107.3h.75M106.1 106.5h.75M107.5 106.9h.75M107.6 107.2h.75M108.0 107.2h.75M108.3 107.2h.75M109.6 107.0h.75M109.8 106.6h.75M110.0 106.5h.75M110.4 106.9h.75M110.5 106.8h.75M110.6 107.1h.75M110.9 107.0h.75M111.3 107.2h.75M111.4 107.4h.75M112.0 106.8h.75M112.0 106.5h.75M112.0 106.9h.75M112.1 107.1h.75M112.1 107.1h.75M112.4 107.2h.75M112.8 107.1h.75M112.9 107.1h.75M112.9 107.5h.75M112.9 107.1h.75M113.0 106.9h.75M113.0 107.2h.75M113.1 106.8h.75M113.2 107.2h.75M113.2 107.5h.75M113.2 106.8h.75M113.4 107.0h.75M113.6 107.0h.75M113.6 107.4h.75M114.0 106.9h.75M114.0 106.8h.75M114.1 107.2h.75M114.1 106.8h.75M114.2 106.8h.75M114.3 107.5h.75M114.4 106.9h.75M114.5 106.8h.75M114.5 107.4h.75M114.7 107.3h.75M114.7 106.8h.75M114.7 107.0h.75M114.8 106.7h.75M115.0 107.3h.75M115.1 107.2h.75M115.1 106.9h.75M115.1 106.9h.75M115.2 107.4h.75M115.2 107.0h.75M115.2 107.0h.75M115.3 106.8h.75M115.6 107.3h.75M115.6 106.9h.75M115.9 106.6h.75M116.1 107.4h.75M116.1 106.6h.75M116.4 107.3h.75M116.4 107.4h.75M116.6 107.5h.75M116.7 106.5h.75M116.7 106.6h.75M116.7 107.0h.75M116.8 106.8h.75M116.8 106.5h.75M117.1 107.1h.75M117.3 106.7h.75M117.4 106.7h.75M117.6 106.8h.75M117.6 106.6h.75M117.9 107.3h.75M118.1 107.0h.75M118.8 106.9h.75M118.9 106.8h.75M119.0 107.0h.75M119.0 106.5h.75M119.4 107.1h.75M119.5 106.6h.75M119.6 107.3h.75M119.9 106.7h.75M119.9 107.2h.75M120.1 106.7h.75M120.2 106.8h.75M120.5 106.5h.75M120.5 106.8h.75M120.8 107.1h.75M121.3 107.1h.75M121.5 107.4h.75M124.4 106.6h.75M129.8 106.8h.75M132.7 107.5h.75M68.7 108.1h.75M73.9 107.8h.75M75.9 107.8h.75M76.4 107.7h.75M76.5 108.3h.75M76.8 108.1h.75M83.7 108.4h.75M84.6 107.7h.75M84.6 108.2h.75M88.3 107.6h.75M92.5 108.2h.75M94.0 108.3h.75M96.6 108.3h.75M97.8 107.5h.75M98.0 108.3h.75M98.4 108.5h.75M99.2 108.0h.75M99.9 107.7h.75M99.9 107.6h.75M100.8 108.0h.75M101.5 107.5h.75M101.5 108.0h.75M101.6 107.8h.75M102.3 108.2h.75M102.5 108.3h.75M103.8 107.5h.75M105.0 108.4h.75M105.6 108.4h.75M105.6 108.4h.75M105.9 107.7h.75M106.3 107.5h.75M106.5 108.0h.75M108.1 108.0h.75M108.4 108.3h.75M109.0 108.5h.75M109.1 108.3h.75M109.4 108.1h.75M110.1 108.2h.75M110.1 108.1h.75M110.5 108.0h.75M110.6 108.1h.75M110.6 108.0h.75M110.7 107.8h.75M110.7 108.4h.75M110.8 108.0h.75M111.0 108.1h.75M111.4 107.6h.75M111.4 107.8h.75M111.5 107.8h.75M111.6 108.2h.75M112.1 108.3h.75M112.1 107.9h.75M112.4 108.3h.75M112.4 107.9h.75M112.4 108.5h.75M112.4 107.9h.75M112.8 107.8h.75M112.8 108.0h.75M112.8 107.9h.75M112.9 107.6h.75M113.2 107.5h.75M113.2 108.5h.75M113.3 108.5h.75M113.4 107.6h.75M113.4 107.9h.75M113.5 107.6h.75M113.6 108.3h.75M113.6 108.0h.75M113.7 108.0h.75M113.8 108.3h.75M114.0 108.4h.75M114.0 108.4h.75M114.0 108.0h.75M114.1 108.2h.75M114.5 107.7h.75M114.7 107.6h.75M114.7 107.7h.75M114.8 107.9h.75M114.8 108.2h.75M114.8 107.6h.75M114.8 107.5h.75M115.0 108.3h.75M115.1 108.4h.75M115.3 107.9h.75M115.4 107.6h.75M115.6 108.2h.75M115.7 107.8h.75M115.8 107.8h.75M115.9 108.0h.75M116.0 107.7h.75M116.1 108.2h.75M116.1 108.5h.75M116.2 108.3h.75M116.3 108.2h.75M116.4 108.1h.75M116.5 108.4h.75M116.6 108.2h.75M116.6 108.3h.75M116.8 107.8h.75M116.9 108.3h.75M118.3 107.5h.75M118.4 107.9h.75M118.6 107.5h.75M118.9 107.7h.75M119.1 107.8h.75M119.3 107.9h.75M119.3 107.5h.75M119.7 108.0h.75M120.7 107.6h.75M121.2 108.0h.75M123.0 107.9h.75M124.6 108.2h.75M126.6 108.2h.75M134.9 107.9h.75M136.1 107.9h.75M68.6 108.8h.75M73.1 108.7h.75M79.2 109.2h.75M89.2 109.3h.75M89.9 108.5h.75M91.8 108.8h.75M92.1 108.8h.75M94.2 108.5h.75M97.3 108.8h.75M97.4 108.8h.75M97.7 109.2h.75M98.1 109.1h.75M98.8 109.1h.75M98.9 109.2h.75M99.2 109.3h.75M100.0 109.4h.75M100.7 108.6h.75M100.9 108.5h.75M102.4 109.3h.75M102.7 108.7h.75M103.0 109.3h.75M103.3 108.9h.75M103.6 109.5h.75M103.9 108.9h.75M104.1 109.4h.75M104.3 109.1h.75M105.3 109.2h.75M105.6 109.2h.75M106.0 108.8h.75M106.8 109.0h.75M107.6 109.1h.75M107.8 109.4h.75M108.3 108.8h.75M108.5 109.5h.75M108.7 108.6h.75M109.1 109.4h.75M109.1 108.7h.75M109.2 108.8h.75M109.4 109.2h.75M109.5 108.7h.75M109.8 109.3h.75M109.9 109.4h.75M110.0 108.8h.75M110.2 108.7h.75M110.6 108.8h.75M110.8 109.2h.75M111.1 109.0h.75M111.1 108.9h.75M111.2 109.5h.75M111.8 108.7h.75M112.0 109.2h.75M112.1 108.7h.75M112.4 108.8h.75M112.8 109.0h.75M112.8 108.6h.75M112.8 109.4h.75M112.9 109.0h.75M112.9 108.7h.75M112.9 109.2h.75M112.9 109.1h.75M113.0 109.3h.75M113.2 109.0h.75M113.2 109.3h.75M113.5 108.9h.75M113.5 109.3h.75M113.6 108.7h.75M113.6 109.0h.75M113.7 108.5h.75M113.9 109.2h.75M113.9 109.1h.75M114.1 108.6h.75M114.2 109.0h.75M114.3 108.6h.75M114.6 109.3h.75M114.6 109.2h.75M114.8 109.0h.75M114.9 109.1h.75M115.2 108.6h.75M115.6 108.6h.75M115.9 108.8h.75M116.2 108.5h.75M116.2 109.1h.75M116.5 109.3h.75M116.6 108.8h.75M116.7 109.2h.75M116.9 108.7h.75M117.2 108.6h.75M117.5 108.6h.75M117.8 108.8h.75M118.0 109.2h.75M118.4 108.6h.75M119.0 109.4h.75M119.4 109.2h.75M119.4 109.3h.75M119.7 108.7h.75M120.5 109.1h.75M120.6 108.8h.75M120.7 109.1h.75M120.8 108.7h.75M121.2 108.8h.75M122.1 108.9h.75M122.6 108.6h.75M123.8 109.1h.75M124.4 108.8h.75M128.1 109.3h.75M132.2 108.9h.75M67.7 110.5h.75M70.6 109.9h.75M71.7 109.6h.75M75.8 109.6h.75M76.0 110.3h.75M76.7 109.8h.75M77.3 110.4h.75M77.8 110.0h.75M79.2 109.7h.75M79.5 110.0h.75M79.6 109.8h.75M81.1 109.9h.75M81.5 109.8h.75M82.3 109.9h.75M85.6 109.7h.75M86.5 109.7h.75M87.0 109.5h.75M87.1 110.5h.75M89.0 109.5h.75M89.3 109.7h.75M89.4 110.4h.75M91.0 109.7h.75M93.5 110.4h.75M93.9 110.2h.75M94.1 109.6h.75M95.9 110.4h.75M96.2 110.5h.75M97.6 110.0h.75M97.8 109.8h.75M98.1 109.9h.75M98.8 109.8h.75M99.9 110.0h.75M100.7 109.5h.75M100.9 110.5h.75M101.1 110.0h.75M101.5 110.0h.75M103.0 109.7h.75M103.0 110.5h.75M103.3 110.4h.75M103.3 110.2h.75M103.3 110.0h.75M103.6 109.8h.75M103.8 109.7h.75M104.3 109.5h.75M104.4 109.5h.75M104.8 109.6h.75M104.9 109.5h.75M105.4 110.0h.75M105.5 110.4h.75M105.7 109.8h.75M106.2 109.9h.75M106.3 110.1h.75M106.5 110.5h.75M107.1 110.2h.75M107.1 109.9h.75M107.2 109.9h.75M107.4 109.9h.75M108.1 109.7h.75M108.4 110.3h.75M108.5 109.8h.75M108.8 110.2h.75M109.1 110.2h.75M109.4 110.1h.75M109.7 109.9h.75M110.0 110.3h.75M110.0 110.0h.75M110.3 110.2h.75M110.5 110.0h.75M110.6 110.1h.75M110.7 110.5h.75M110.9 109.5h.75M111.0 110.0h.75M111.0 110.3h.75M111.1 110.5h.75M111.1 110.1h.75M111.3 110.5h.75M111.3 110.2h.75M111.4 109.7h.75M111.5 110.0h.75M111.6 109.8h.75M111.7 109.8h.75M111.7 110.5h.75M111.9 109.5h.75M111.9 110.3h.75M111.9 110.3h.75M112.1 109.8h.75M112.1 110.1h.75M112.2 110.5h.75M112.4 109.7h.75M112.4 110.2h.75M112.5 110.2h.75M112.6 110.4h.75M112.6 110.0h.75M112.6 110.0h.75M112.6 110.4h.75M112.9 109.5h.75M112.9 109.7h.75M113.0 109.7h.75M113.0 110.5h.75M113.0 109.8h.75M113.0 109.5h.75M113.0 109.9h.75M113.1 110.4h.75M113.4 109.9h.75M113.4 110.3h.75M113.4 109.7h.75M113.4 110.2h.75M113.5 110.4h.75M113.5 109.9h.75M113.6 110.1h.75M113.7 109.9h.75M113.7 110.2h.75M113.7 110.0h.75M113.8 109.6h.75M113.9 110.0h.75M114.0 109.7h.75M114.1 109.9h.75M114.1 110.0h.75M114.4 109.6h.75M114.5 109.6h.75M114.5 110.4h.75M114.7 110.2h.75M114.7 109.9h.75M114.8 109.6h.75M114.8 110.2h.75M114.9 110.2h.75M115.3 109.6h.75M115.5 110.0h.75M115.5 110.1h.75M116.3 110.1h.75M116.5 110.4h.75M116.6 110.1h.75M116.7 110.5h.75M118.1 110.4h.75M118.3 109.9h.75M118.6 110.5h.75M118.6 109.7h.75M120.5 109.8h.75M136.9 109.7h.75M142.2 110.4h.75M73.6 111.5h.75M77.4 111.3h.75M81.4 110.9h.75M82.4 111.3h.75M82.9 111.4h.75M83.8 111.4h.75M84.0 111.2h.75M85.1 111.0h.75M85.9 111.1h.75M89.0 110.7h.75M92.1 110.7h.75M92.6 111.0h.75M92.6 111.2h.75M92.6 111.3h.75M93.0 111.4h.75M93.2 110.9h.75M93.6 111.4h.75M94.7 110.8h.75M95.5 110.7h.75M95.6 110.6h.75M95.7 110.5h.75M96.6 110.6h.75M97.0 111.3h.75M97.1 111.3h.75M98.1 110.6h.75M98.2 110.8h.75M98.2 110.6h.75M98.6 111.5h.75M99.1 111.3h.75M99.3 111.2h.75M99.7 111.2h.75M99.7 111.4h.75M99.8 110.8h.75M100.2 110.6h.75M101.3 111.2h.75M101.5 111.3h.75M101.5 111.4h.75M101.6 111.5h.75M102.4 110.7h.75M102.8 111.0h.75M103.3 110.6h.75M103.8 110.6h.75M103.8 110.9h.75M103.9 111.3h.75M104.0 111.4h.75M104.4 110.6h.75M104.7 110.8h.75M104.8 111.4h.75M105.4 111.2h.75M105.4 110.9h.75M105.9 111.3h.75M105.9 111.3h.75M106.2 110.5h.75M106.2 110.9h.75M106.6 111.1h.75M106.7 110.5h.75M106.7 111.5h.75M107.0 110.6h.75M107.1 110.6h.75M107.3 111.5h.75M107.6 111.3h.75M107.6 111.2h.75M107.7 111.1h.75M108.0 110.8h.75M108.1 111.0h.75M108.3 110.7h.75M108.4 110.8h.75M108.5 111.1h.75M108.8 110.5h.75M109.0 110.7h.75M109.1 110.6h.75M109.2 110.6h.75M109.2 110.5h.75M109.3 110.9h.75M109.5 111.2h.75M109.5 110.9h.75M109.5 110.9h.75M109.6 110.8h.75M109.7 111.3h.75M109.9 111.0h.75M109.9 110.5h.75M109.9 111.1h.75M110.6 111.3h.75M110.6 111.0h.75M110.7 110.8h.75M110.7 110.9h.75M111.0 110.5h.75M111.4 111.4h.75M111.4 111.4h.75M111.4 110.8h.75M111.7 110.5h.75M111.8 111.0h.75M111.9 110.5h.75M112.0 111.1h.75M112.1 111.3h.75M112.1 111.1h.75M112.2 111.3h.75M112.4 111.3h.75M112.6 111.1h.75M112.6 110.8h.75M112.9 111.0h.75M112.9 111.4h.75M112.9 110.9h.75M112.9 110.9h.75M113.0 111.2h.75M113.0 111.3h.75M113.2 111.1h.75M113.2 111.0h.75M113.3 110.5h.75M113.4 111.0h.75M113.4 110.7h.75M113.6 111.5h.75M113.6 111.1h.75M113.8 111.0h.75M114.0 111.5h.75M114.1 110.7h.75M114.3 110.9h.75M114.5 111.5h.75M115.7 110.7h.75M115.8 110.9h.75M115.9 111.4h.75M116.4 110.8h.75M117.3 111.1h.75M117.6 111.0h.75M118.1 110.5h.75M119.4 110.8h.75M119.8 111.0h.75M124.9 110.8h.75M125.2 111.4h.75M125.8 110.7h.75M126.6 110.7h.75M127.6 111.4h.75M130.4 110.8h.75M134.7 110.7h.75M67.8 111.8h.75M75.4 111.6h.75M76.3 112.2h.75M78.2 111.5h.75M79.6 111.6h.75M80.1 112.2h.75M80.6 112.4h.75M81.5 112.3h.75M82.1 112.2h.75M82.8 111.5h.75M85.4 112.4h.75M86.7 111.8h.75M86.7 111.8h.75M87.8 111.6h.75M92.3 112.1h.75M94.0 112.3h.75M95.0 112.5h.75M95.6 112.1h.75M96.0 111.8h.75M96.2 112.3h.75M96.4 111.9h.75M96.8 111.6h.75M97.2 112.1h.75M97.3 111.6h.75M98.4 112.2h.75M98.5 111.6h.75M99.4 112.4h.75M99.9 112.1h.75M100.2 111.7h.75M101.3 111.9h.75M101.5 111.5h.75M101.8 112.2h.75M104.0 112.4h.75M104.3 112.5h.75M104.4 111.9h.75M104.6 112.0h.75M104.7 111.8h.75M105.5 112.1h.75M105.6 112.0h.75M105.8 111.9h.75M105.8 111.8h.75M106.0 111.7h.75M106.0 112.0h.75M106.3 112.1h.75M106.6 111.5h.75M106.6 111.5h.75M107.3 112.4h.75M107.6 112.4h.75M107.8 112.3h.75M107.9 111.6h.75M108.1 112.3h.75M108.5 112.0h.75M108.7 112.3h.75M109.0 111.5h.75M109.2 111.6h.75M109.2 111.5h.75M109.3 111.9h.75M109.4 111.9h.75M109.6 111.6h.75M109.7 112.3h.75M109.7 112.0h.75M109.7 111.9h.75M109.8 112.1h.75M109.8 112.1h.75M109.8 111.7h.75M109.9 111.9h.75M110.0 112.1h.75M110.0 111.6h.75M110.1 111.8h.75M110.3 112.1h.75M110.3 111.6h.75M110.5 111.7h.75M110.5 112.2h.75M110.6 111.7h.75M110.9 111.9h.75M110.9 112.4h.75M110.9 111.9h.75M111.0 112.1h.75M111.1 111.6h.75M111.2 111.9h.75M111.5 111.9h.75M111.5 112.4h.75M111.6 111.5h.75M111.7 112.2h.75M111.8 111.7h.75M112.0 112.3h.75M112.1 111.9h.75M112.1 111.6h.75M112.2 112.0h.75M112.4 111.9h.75M112.9 112.1h.75M113.0 112.3h.75M113.1 111.6h.75M113.2 112.2h.75M113.2 111.6h.75M113.5 112.0h.75M113.7 112.3h.75M113.8 111.7h.75M114.1 111.5h.75M114.6 111.9h.75M114.7 112.4h.75M114.8 111.6h.75M115.2 111.7h.75M115.3 112.5h.75M115.4 111.7h.75M115.5 111.9h.75M115.9 112.5h.75M116.5 112.3h.75M116.6 111.6h.75M117.0 112.3h.75M117.4 111.8h.75M117.4 111.8h.75M117.6 112.4h.75M118.7 112.5h.75M118.7 112.2h.75M133.1 111.7h.75M136.0 111.5h.75M143.0 112.3h.75M76.3 113.4h.75M77.6 113.2h.75M78.6 112.9h.75M79.2 113.3h.75M79.6 113.3h.75M80.6 113.4h.75M81.9 113.2h.75M82.9 113.4h.75M83.6 113.5h.75M86.5 113.3h.75M87.7 113.4h.75M88.3 113.0h.75M90.0 112.8h.75M90.6 113.0h.75M91.0 113.4h.75M91.5 113.3h.75M91.6 113.1h.75M95.2 113.0h.75M95.2 113.0h.75M95.4 113.4h.75M95.7 112.9h.75M96.5 112.8h.75M96.9 112.5h.75M97.5 112.7h.75M99.0 113.5h.75M99.0 113.0h.75M99.9 113.2h.75M100.2 113.2h.75M100.7 113.2h.75M101.5 113.1h.75M101.6 113.4h.75M101.9 112.7h.75M102.5 113.1h.75M103.2 112.7h.75M103.3 112.7h.75M103.4 113.0h.75M103.4 113.4h.75M103.8 112.7h.75M104.0 113.4h.75M104.2 112.5h.75M104.7 112.9h.75M104.7 112.8h.75M105.3 113.4h.75M105.7 112.6h.75M106.2 112.7h.75M106.2 113.0h.75M106.4 113.0h.75M106.7 113.1h.75M107.4 112.7h.75M107.5 112.6h.75M107.6 112.8h.75M107.7 112.7h.75M107.7 113.3h.75M107.7 112.6h.75M108.0 113.2h.75M108.3 113.0h.75M108.4 113.4h.75M108.8 113.0h.75M108.9 112.6h.75M109.1 113.3h.75M109.2 113.0h.75M109.6 113.4h.75M109.7 113.0h.75M110.6 112.9h.75M111.0 112.5h.75M111.2 113.5h.75M111.2 112.7h.75M111.2 113.3h.75M111.2 113.0h.75M111.5 113.2h.75M111.6 113.2h.75M111.7 113.4h.75M112.3 112.5h.75M112.8 112.7h.75M114.0 112.8h.75M114.3 112.5h.75M114.4 112.6h.75M115.2 113.0h.75M115.3 112.9h.75M115.5 112.8h.75M115.7 112.5h.75M118.9 113.5h.75M119.1 112.8h.75M122.5 113.1h.75M123.1 113.4h.75M124.3 112.5h.75M125.5 113.2h.75M126.4 113.4h.75M130.3 113.4h.75M139.0 113.1h.75M146.5 112.7h.75M75.0 113.6h.75M77.5 114.4h.75M79.2 113.8h.75M80.3 113.9h.75M80.6 114.1h.75M81.7 113.9h.75M84.1 113.6h.75M84.5 114.4h.75M86.9 114.3h.75M90.8 113.6h.75M90.8 114.5h.75M91.1 113.8h.75M91.6 114.3h.75M92.9 114.4h.75M95.0 114.4h.75M95.1 114.3h.75M98.2 114.2h.75M98.3 113.7h.75M98.4 114.1h.75M98.4 114.4h.75M98.7 114.3h.75M101.9 114.0h.75M102.6 114.4h.75M102.9 114.4h.75M103.6 113.6h.75M103.6 113.6h.75M104.3 113.5h.75M104.6 114.2h.75M104.8 114.4h.75M105.3 113.9h.75M106.1 114.4h.75M106.1 114.3h.75M106.6 114.5h.75M106.6 114.0h.75M106.8 113.7h.75M107.1 113.6h.75M107.6 113.6h.75M107.7 113.6h.75M107.8 113.7h.75M108.0 113.7h.75M108.3 113.9h.75M108.3 113.7h.75M108.3 114.4h.75M108.5 114.1h.75M108.5 114.3h.75M108.8 113.6h.75M109.2 113.9h.75M109.2 113.9h.75M109.8 114.2h.75M110.1 114.0h.75M110.1 113.6h.75M110.2 113.6h.75M110.2 113.9h.75M110.4 114.1h.75M110.5 114.4h.75M110.5 114.4h.75M110.6 114.0h.75M111.0 113.6h.75M111.5 113.7h.75M111.6 114.4h.75M111.7 114.4h.75M112.6 113.9h.75M112.8 113.7h.75M112.9 113.8h.75M113.3 114.5h.75M113.4 114.1h.75M115.8 114.5h.75M116.9 114.4h.75M117.8 114.4h.75M119.1 114.3h.75M120.3 114.3h.75M123.8 114.3h.75M126.6 114.1h.75M77.4 114.6h.75M78.3 115.2h.75M80.9 115.2h.75M81.2 114.6h.75M82.7 115.3h.75M83.0 114.8h.75M83.8 115.5h.75M86.5 115.4h.75M89.3 115.0h.75M92.5 115.4h.75M92.6 114.6h.75M92.8 114.6h.75M93.4 114.6h.75M93.9 114.9h.75M97.5 114.7h.75M97.8 115.4h.75M98.2 115.2h.75M100.4 115.5h.75M101.5 114.9h.75M102.1 114.9h.75M102.6 114.9h.75M102.6 114.9h.75M103.3 114.7h.75M103.5 115.3h.75M103.7 114.8h.75M103.9 114.9h.75M104.3 114.9h.75M104.3 115.4h.75M104.7 115.4h.75M105.0 114.6h.75M105.3 114.6h.75M105.5 114.6h.75M105.6 115.4h.75M105.9 114.5h.75M106.1 114.9h.75M106.3 114.7h.75M106.4 115.2h.75M106.7 115.0h.75M107.0 115.4h.75M107.2 114.8h.75M107.4 114.8h.75M107.8 114.5h.75M108.2 115.3h.75M108.7 114.8h.75M108.8 114.8h.75M108.8 114.8h.75M108.9 114.5h.75M109.1 114.8h.75M109.3 115.1h.75M109.6 114.7h.75M109.6 115.1h.75M109.8 115.1h.75M110.5 115.0h.75M110.8 114.6h.75M110.8 114.7h.75M111.6 114.9h.75M111.7 114.8h.75M111.7 115.2h.75M111.8 114.8h.75M111.8 114.8h.75M112.8 115.4h.75M113.9 115.4h.75M114.1 114.8h.75M114.2 115.3h.75M114.6 115.3h.75M114.8 115.5h.75M115.9 115.5h.75M116.5 114.6h.75M116.6 115.3h.75M117.1 115.2h.75M117.2 115.1h.75M117.4 115.0h.75M122.9 115.1h.75M123.9 115.4h.75M75.2 116.5h.75M76.9 116.2h.75M77.4 116.5h.75M77.7 115.9h.75M82.0 116.0h.75M83.8 115.8h.75M86.9 116.0h.75M88.1 116.2h.75M88.4 115.9h.75M92.0 115.9h.75M92.3 115.8h.75M94.7 115.9h.75M95.4 115.9h.75M95.7 116.1h.75M95.8 116.4h.75M96.2 116.1h.75M96.5 116.5h.75M97.0 116.2h.75M97.7 115.5h.75M97.8 116.3h.75M98.1 116.1h.75M98.7 115.8h.75M99.7 116.1h.75M100.6 115.6h.75M100.8 116.0h.75M101.3 116.4h.75M101.4 115.7h.75M102.2 115.6h.75M103.1 116.2h.75M104.0 115.7h.75M104.4 116.4h.75M104.6 116.3h.75M104.8 116.3h.75M104.9 116.2h.75M106.3 115.6h.75M106.7 116.4h.75M106.7 115.7h.75M107.2 116.2h.75M108.1 115.7h.75M108.2 115.8h.75M109.6 116.4h.75M110.0 115.8h.75M110.3 116.0h.75M110.3 115.6h.75M110.9 116.2h.75M111.5 115.7h.75M112.2 116.0h.75M112.3 116.3h.75M112.4 115.7h.75M113.1 116.1h.75M113.5 116.4h.75M113.6 115.5h.75M114.2 115.7h.75M115.0 115.5h.75M115.0 115.8h.75M116.4 116.3h.75M124.5 115.8h.75M124.7 115.6h.75M125.6 115.7h.75M126.8 116.0h.75M128.4 116.5h.75M130.7 116.0h.75M67.3 117.5h.75M67.4 117.2h.75M69.4 117.4h.75M73.9 117.3h.75M77.8 116.5h.75M78.0 117.5h.75M78.7 117.3h.75M80.8 117.1h.75M86.0 117.4h.75M86.9 117.3h.75M91.6 117.4h.75M93.6 116.9h.75M94.5 117.4h.75M94.5 117.0h.75M94.7 116.9h.75M95.1 116.6h.75M98.4 117.2h.75M98.8 117.3h.75M101.5 116.6h.75M103.8 117.2h.75M103.9 116.6h.75M104.6 116.9h.75M104.6 116.8h.75M105.1 116.5h.75M105.5 117.1h.75M105.5 116.7h.75M106.2 116.7h.75M106.5 116.8h.75M106.7 117.1h.75M107.4 116.7h.75M107.8 116.5h.75M108.6 117.0h.75M108.7 117.0h.75M108.8 117.0h.75M109.4 116.7h.75M109.5 117.1h.75M109.6 116.5h.75M109.8 116.7h.75M110.0 117.0h.75M111.0 116.6h.75M111.3 117.4h.75M111.6 117.4h.75M111.9 116.7h.75M111.9 117.1h.75M113.2 117.4h.75M114.2 116.9h.75M114.9 116.8h.75M115.2 116.5h.75M117.3 116.9h.75M127.6 116.7h.75M67.0 117.7h.75M71.7 117.5h.75M75.4 117.8h.75M82.5 117.8h.75M83.9 117.7h.75M84.2 117.8h.75M85.6 117.8h.75M85.6 117.5h.75M88.6 117.6h.75M93.1 117.7h.75M96.5 117.8h.75M98.5 117.9h.75M103.1 117.8h.75M103.7 117.6h.75M104.3 117.6h.75M105.8 117.9h.75M107.9 117.6h.75M108.8 117.6h.75M109.0 117.5h.75M109.3 117.9h.75M109.4 117.7h.75M109.7 117.7h.75M111.3 117.7h.75M113.1 117.7h.75M113.8 117.7h.75M118.3 117.6h.75M118.5 117.6h.75M119.4 117.7h.75M131.5 117.5h.75" stroke="#000" stroke-opacity="0.6" stroke-width="0.75" fill="none"/>
<rect x="65.90" y="58.50" width="81.70" height="60.40" fill="none" stroke="#666" stroke-width="0.9"/>
<line x1="115.50" y1="58.50" x2="115.50" y2="118.90" stroke="#707070" stroke-width="0.9"/>
<line x1="65.90" y1="107.50" x2="147.60" y2="107.50" stroke="#707070" stroke-width="0.9"/>
<text x="60.50" y="57.60" font-size="6.38" fill="#2a2a2a" textLength="75.50" lengthAdjust="spacingAndGlyphs">Specimen_001-Sample A7</text>
<path d="M66.54 118.90v1.6 M69.04 118.90v1.6 M70.98 118.90v1.6 M72.56 118.90v1.6 M73.90 118.90v1.6 M75.06 118.90v1.6 M76.08 118.90v1.6 M77.00 118.90v2.6 M83.02 118.90v1.6 M86.54 118.90v1.6 M89.04 118.90v1.6 M90.98 118.90v1.6 M92.56 118.90v1.6 M93.90 118.90v1.6 M95.06 118.90v1.6 M96.08 118.90v1.6 M97.00 118.90v2.6 M103.02 118.90v1.6 M106.54 118.90v1.6 M109.04 118.90v1.6 M110.98 118.90v1.6 M112.56 118.90v1.6 M113.90 118.90v1.6 M115.06 118.90v1.6 M116.08 118.90v1.6 M117.00 118.90v2.6 M123.02 118.90v1.6 M126.54 118.90v1.6 M129.04 118.90v1.6 M130.98 118.90v1.6 M132.56 118.90v1.6 M133.90 118.90v1.6 M135.06 118.90v1.6 M136.08 118.90v1.6 M137.00 118.90v2.6" stroke="#333" stroke-width="0.6"/>
<text x="74.40" y="127.40" font-size="4.1" fill="#3a3a3a" stroke="#3a3a3a" stroke-width="0.18" textLength="3.80" lengthAdjust="spacingAndGlyphs">10</text>
<text x="78.30" y="125.50" font-size="2.9519999999999995" fill="#3a3a3a" stroke="#3a3a3a" stroke-width="0.15">2</text>
<text x="94.40" y="127.40" font-size="4.1" fill="#3a3a3a" stroke="#3a3a3a" stroke-width="0.18" textLength="3.80" lengthAdjust="spacingAndGlyphs">10</text>
<text x="98.30" y="125.50" font-size="2.9519999999999995" fill="#3a3a3a" stroke="#3a3a3a" stroke-width="0.15">3</text>
<text x="114.40" y="127.40" font-size="4.1" fill="#3a3a3a" stroke="#3a3a3a" stroke-width="0.18" textLength="3.80" lengthAdjust="spacingAndGlyphs">10</text>
<text x="118.30" y="125.50" font-size="2.9519999999999995" fill="#3a3a3a" stroke="#3a3a3a" stroke-width="0.15">4</text>
<text x="134.40" y="127.40" font-size="4.1" fill="#3a3a3a" stroke="#3a3a3a" stroke-width="0.18" textLength="3.80" lengthAdjust="spacingAndGlyphs">10</text>
<text x="138.30" y="125.50" font-size="2.9519999999999995" fill="#3a3a3a" stroke="#3a3a3a" stroke-width="0.15">5</text>
<text x="86.40" y="136.40" font-size="6.19" fill="#2a2a2a" textLength="41.60" lengthAdjust="spacingAndGlyphs">CD8 PE-Cy7-A</text>
<text x="52.80" y="107.30" font-size="5.7" fill="#333" textLength="35.50" lengthAdjust="spacingAndGlyphs" transform="rotate(-90 52.80 107.30)">CD4 PerCP-A</text>
<path d="M65.90 118.54h-1.6 M65.90 116.67h-1.6 M65.90 115.22h-1.6 M65.90 114.03h-1.6 M65.90 113.02h-1.6 M65.90 112.15h-1.6 M65.90 111.39h-1.6 M65.90 110.70h-2.6 M65.90 106.18h-1.6 M65.90 103.54h-1.6 M65.90 101.67h-1.6 M65.90 100.22h-1.6 M65.90 99.03h-1.6 M65.90 98.02h-1.6 M65.90 97.15h-1.6 M65.90 96.39h-1.6 M65.90 95.70h-2.6 M65.90 91.18h-1.6 M65.90 88.54h-1.6 M65.90 86.67h-1.6 M65.90 85.22h-1.6 M65.90 84.03h-1.6 M65.90 83.02h-1.6 M65.90 82.15h-1.6 M65.90 81.39h-1.6 M65.90 80.70h-2.6 M65.90 76.18h-1.6 M65.90 73.54h-1.6 M65.90 71.67h-1.6 M65.90 70.22h-1.6 M65.90 69.03h-1.6 M65.90 68.02h-1.6 M65.90 67.15h-1.6 M65.90 66.39h-1.6 M65.90 65.70h-2.6 M65.90 61.18h-1.6 M65.90 58.54h-1.6" stroke="#555" stroke-width="0.6"/>
<text x="57.20" y="112.30" font-size="4.4" fill="#222" stroke="#222" stroke-width="0.3" textLength="3.80" lengthAdjust="spacingAndGlyphs">10</text>
<text x="54.80" y="109.30" font-size="3.2" fill="#222" stroke="#222" stroke-width="0.2">2</text>
<text x="57.20" y="97.30" font-size="4.4" fill="#222" stroke="#222" stroke-width="0.3" textLength="3.80" lengthAdjust="spacingAndGlyphs">10</text>
<text x="54.80" y="94.30" font-size="3.2" fill="#222" stroke="#222" stroke-width="0.2">3</text>
<text x="57.20" y="82.30" font-size="4.4" fill="#222" stroke="#222" stroke-width="0.3" textLength="3.80" lengthAdjust="spacingAndGlyphs">10</text>
<text x="54.80" y="79.30" font-size="3.2" fill="#222" stroke="#222" stroke-width="0.2">4</text>
<text x="57.20" y="67.30" font-size="4.4" fill="#222" stroke="#222" stroke-width="0.3" textLength="3.80" lengthAdjust="spacingAndGlyphs">10</text>
<text x="54.80" y="64.30" font-size="3.2" fill="#222" stroke="#222" stroke-width="0.2">5</text>
<text x="69.20" y="69.10" font-size="5.8" fill="#2a2a2a" stroke="#2a2a2a" stroke-width="0.05" textLength="6.30" lengthAdjust="spacingAndGlyphs">Q1</text>
<text x="133.80" y="69.20" font-size="5.8" fill="#2a2a2a" stroke="#2a2a2a" stroke-width="0.05" textLength="7.00" lengthAdjust="spacingAndGlyphs">Q2</text>
<text x="68.70" y="116.20" font-size="5.8" fill="#2a2a2a" stroke="#2a2a2a" stroke-width="0.05" textLength="6.30" lengthAdjust="spacingAndGlyphs">Q3</text>
<text x="133.60" y="116.20" font-size="5.8" fill="#2a2a2a" stroke="#2a2a2a" stroke-width="0.05" textLength="6.60" lengthAdjust="spacingAndGlyphs">Q4</text>
<path d="M426.8 67.1h.75M418.5 74.4h.75M418.5 81.8h.75M417.2 82.5h.75M458.0 87.4h.75M451.8 89.4h.75M447.0 90.4h.75M447.7 89.8h.75M459.9 89.9h.75M404.5 91.2h.75M425.5 91.4h.75M445.9 91.5h.75M448.9 91.2h.75M450.0 91.4h.75M450.4 91.3h.75M450.7 90.6h.75M451.3 91.4h.75M453.1 90.7h.75M453.3 91.5h.75M454.7 91.0h.75M454.9 91.0h.75M456.1 91.0h.75M458.7 91.1h.75M460.0 91.3h.75M406.3 91.6h.75M408.4 91.8h.75M421.0 92.4h.75M429.0 92.2h.75M434.1 92.4h.75M438.3 92.0h.75M438.6 92.3h.75M439.1 92.1h.75M440.2 91.6h.75M440.2 91.9h.75M445.8 91.6h.75M447.7 92.0h.75M449.5 91.5h.75M449.7 92.2h.75M450.5 92.4h.75M456.1 92.3h.75M456.7 92.4h.75M459.5 92.5h.75M461.1 92.1h.75M409.1 92.7h.75M431.7 93.0h.75M441.7 93.5h.75M444.2 92.6h.75M445.9 92.8h.75M446.9 93.3h.75M447.7 92.8h.75M448.4 92.9h.75M448.9 93.1h.75M449.3 93.4h.75M449.6 93.5h.75M450.0 93.4h.75M450.7 92.9h.75M451.2 92.8h.75M452.1 93.2h.75M452.5 92.7h.75M454.7 93.4h.75M458.3 93.4h.75M459.4 92.9h.75M461.6 92.6h.75M461.6 93.3h.75M414.9 94.3h.75M416.2 94.3h.75M420.0 93.9h.75M430.4 94.1h.75M432.1 94.3h.75M433.3 93.7h.75M434.2 94.1h.75M437.5 94.2h.75M438.1 94.2h.75M438.8 94.2h.75M439.9 94.3h.75M441.8 94.1h.75M442.3 94.3h.75M442.6 94.5h.75M443.4 94.1h.75M443.7 94.1h.75M444.2 93.7h.75M444.6 93.6h.75M445.7 93.6h.75M445.9 94.2h.75M446.2 94.1h.75M446.3 93.6h.75M446.3 94.2h.75M447.0 94.0h.75M447.3 94.5h.75M447.9 94.0h.75M448.3 94.1h.75M448.7 93.5h.75M450.0 94.2h.75M450.1 93.7h.75M451.1 94.2h.75M451.8 94.2h.75M453.4 94.3h.75M453.9 93.6h.75M455.4 93.8h.75M456.1 93.7h.75M457.0 94.4h.75M457.2 94.3h.75M457.2 93.8h.75M459.5 94.0h.75M460.4 94.3h.75M391.5 94.8h.75M406.8 95.3h.75M412.7 95.3h.75M415.8 95.1h.75M420.3 95.0h.75M420.6 95.0h.75M420.6 94.8h.75M421.8 95.4h.75M429.1 95.0h.75M431.2 95.5h.75M431.6 95.1h.75M432.1 95.4h.75M432.3 95.5h.75M434.4 95.5h.75M434.9 95.1h.75M435.9 95.2h.75M436.0 94.7h.75M437.5 94.7h.75M437.5 94.7h.75M439.0 94.7h.75M439.2 94.7h.75M439.5 94.9h.75M440.0 94.7h.75M440.4 95.3h.75M440.9 95.2h.75M441.1 95.2h.75M441.2 95.1h.75M441.7 95.4h.75M442.0 95.2h.75M442.2 95.2h.75M442.5 94.6h.75M442.9 94.8h.75M443.0 95.3h.75M443.4 95.3h.75M444.5 94.8h.75M445.3 95.1h.75M445.8 94.7h.75M445.8 95.1h.75M446.3 94.8h.75M446.4 95.4h.75M446.6 95.1h.75M446.7 95.3h.75M447.1 95.2h.75M447.5 94.6h.75M448.3 94.7h.75M448.3 94.9h.75M448.5 94.7h.75M448.7 95.2h.75M448.8 95.3h.75M448.9 95.1h.75M449.4 95.4h.75M450.1 94.8h.75M450.9 95.4h.75M451.4 95.3h.75M451.7 95.3h.75M452.1 95.2h.75M452.6 95.4h.75M453.1 95.1h.75M455.5 94.7h.75M455.5 95.0h.75M457.2 95.5h.75M382.8 95.7h.75M383.6 96.1h.75M392.1 95.8h.75M399.4 96.4h.75M404.6 95.6h.75M406.5 95.9h.75M406.6 96.4h.75M409.5 96.2h.75M409.8 95.9h.75M411.2 95.9h.75M411.6 95.6h.75M415.1 96.5h.75M415.4 95.6h.75M417.0 95.8h.75M417.2 96.1h.75M419.1 96.1h.75M420.7 96.5h.75M420.9 96.1h.75M421.4 96.2h.75M423.8 96.1h.75M427.5 96.5h.75M427.6 96.1h.75M429.1 95.8h.75M430.1 95.6h.75M434.5 95.8h.75M435.1 96.0h.75M435.7 95.7h.75M436.0 95.7h.75M436.2 96.3h.75M436.8 95.9h.75M438.3 96.4h.75M438.7 95.9h.75M438.8 95.5h.75M438.9 95.9h.75M439.0 95.8h.75M439.8 95.8h.75M441.1 95.8h.75M441.6 96.0h.75M442.2 96.5h.75M442.7 95.6h.75M442.9 96.5h.75M443.6 96.1h.75M443.7 96.1h.75M443.8 96.4h.75M444.1 96.1h.75M444.5 96.2h.75M444.6 95.8h.75M444.8 96.3h.75M445.1 96.2h.75M445.3 96.2h.75M446.1 96.5h.75M446.3 95.7h.75M446.5 95.8h.75M446.5 96.2h.75M446.7 96.1h.75M446.8 96.0h.75M447.2 96.4h.75M447.9 95.7h.75M448.1 96.3h.75M448.4 95.8h.75M448.6 95.9h.75M449.1 96.1h.75M449.1 95.5h.75M450.2 95.5h.75M450.8 95.6h.75M453.1 96.0h.75M453.7 96.1h.75M454.3 96.3h.75M455.4 95.9h.75M455.8 96.0h.75M455.8 95.9h.75M456.0 95.6h.75M456.2 95.8h.75M457.9 96.2h.75M461.5 95.9h.75M385.1 97.4h.75M386.1 97.4h.75M386.8 97.1h.75M387.2 97.1h.75M387.5 96.8h.75M389.2 97.2h.75M391.3 96.9h.75M399.6 96.5h.75M405.0 96.5h.75M406.4 97.2h.75M407.4 96.8h.75M408.5 97.3h.75M409.7 96.7h.75M410.2 97.1h.75M410.2 97.4h.75M410.5 96.7h.75M410.7 97.3h.75M411.0 96.6h.75M411.5 97.1h.75M412.3 96.9h.75M412.3 97.5h.75M412.8 97.1h.75M413.1 97.3h.75M413.7 97.1h.75M414.5 97.2h.75M414.8 97.0h.75M414.9 97.4h.75M415.2 97.2h.75M415.6 96.9h.75M416.5 97.4h.75M416.6 96.9h.75M416.8 97.0h.75M417.4 97.4h.75M418.0 96.6h.75M418.6 97.0h.75M419.0 96.8h.75M419.4 96.6h.75M419.6 96.9h.75M420.2 96.5h.75M420.3 97.2h.75M421.0 97.5h.75M421.2 97.3h.75M421.6 97.3h.75M421.7 97.4h.75M422.3 97.5h.75M423.2 97.2h.75M423.2 97.0h.75M424.2 96.8h.75M425.8 97.2h.75M427.1 97.5h.75M427.5 97.2h.75M427.5 96.5h.75M428.2 97.0h.75M430.1 97.1h.75M432.1 96.7h.75M432.2 97.2h.75M432.7 96.5h.75M433.8 96.8h.75M433.9 97.4h.75M434.0 97.1h.75M434.2 97.0h.75M434.4 97.3h.75M434.6 97.1h.75M434.6 97.0h.75M434.6 96.6h.75M434.8 97.4h.75M435.3 96.9h.75M435.8 97.1h.75M436.8 97.5h.75M437.2 97.4h.75M437.3 96.5h.75M438.0 97.2h.75M438.1 96.6h.75M438.8 96.5h.75M438.9 96.8h.75M439.1 97.0h.75M440.1 97.4h.75M440.6 96.7h.75M440.8 96.8h.75M440.8 97.4h.75M441.0 96.9h.75M441.5 97.3h.75M441.8 96.6h.75M441.8 97.5h.75M442.3 97.4h.75M442.4 96.5h.75M442.6 97.0h.75M442.6 97.4h.75M442.7 97.0h.75M443.1 96.6h.75M444.3 97.4h.75M444.4 97.4h.75M444.4 96.9h.75M444.6 97.2h.75M444.7 97.1h.75M444.7 96.6h.75M445.1 96.8h.75M445.6 96.7h.75M445.8 97.3h.75M445.9 96.8h.75M446.3 96.7h.75M446.9 97.0h.75M447.0 97.1h.75M447.2 97.5h.75M447.2 97.0h.75M448.2 97.0h.75M448.3 96.6h.75M448.6 97.0h.75M448.8 97.1h.75M449.1 97.1h.75M449.2 97.0h.75M449.4 97.1h.75M449.6 97.0h.75M449.9 96.7h.75M450.4 96.7h.75M450.5 96.8h.75M450.6 96.6h.75M450.6 97.2h.75M450.7 96.8h.75M450.8 97.4h.75M451.1 97.5h.75M451.1 97.4h.75M451.6 97.1h.75M452.1 96.8h.75M453.2 97.5h.75M453.6 96.9h.75M453.8 96.8h.75M457.0 97.3h.75M457.8 96.7h.75M459.5 96.9h.75M460.8 96.9h.75M384.6 98.0h.75M385.1 98.5h.75M385.3 98.3h.75M385.4 97.9h.75M385.9 98.1h.75M387.1 97.7h.75M389.8 98.1h.75M392.7 97.8h.75M393.8 98.4h.75M397.7 98.4h.75M400.2 97.8h.75M402.9 97.7h.75M404.2 98.5h.75M405.0 97.6h.75M405.2 98.1h.75M405.6 98.5h.75M407.3 97.7h.75M407.9 98.1h.75M408.0 98.4h.75M408.5 97.5h.75M408.7 97.8h.75M409.7 98.4h.75M410.1 98.5h.75M410.6 98.2h.75M410.8 98.1h.75M411.8 98.2h.75M411.9 98.1h.75M412.1 98.0h.75M412.4 98.1h.75M412.6 97.9h.75M412.6 97.5h.75M412.8 97.6h.75M412.9 98.2h.75M413.9 97.7h.75M414.0 97.6h.75M414.1 97.9h.75M414.1 97.7h.75M414.2 98.5h.75M414.3 98.1h.75M414.7 98.4h.75M415.6 98.3h.75M416.3 97.9h.75M416.4 97.8h.75M416.4 97.8h.75M416.9 98.4h.75M417.0 97.9h.75M417.1 98.3h.75M417.3 98.5h.75M417.8 98.0h.75M417.8 97.7h.75M418.0 97.9h.75M418.2 98.2h.75M418.7 98.1h.75M419.0 98.1h.75M419.0 97.6h.75M419.2 97.9h.75M419.4 98.4h.75M419.8 97.9h.75M419.9 98.5h.75M420.4 97.8h.75M420.5 98.4h.75M420.8 98.2h.75M421.1 97.9h.75M421.7 98.4h.75M421.9 98.4h.75M422.4 98.2h.75M422.6 98.0h.75M424.0 98.0h.75M424.2 98.0h.75M424.5 98.1h.75M424.5 97.9h.75M425.1 97.7h.75M425.5 98.0h.75M425.5 97.7h.75M425.6 97.7h.75M426.5 98.4h.75M427.1 98.3h.75M427.9 98.0h.75M428.8 98.0h.75M428.9 98.2h.75M429.3 98.5h.75M430.9 98.4h.75M431.0 97.8h.75M431.3 97.9h.75M431.3 98.0h.75M431.5 97.9h.75M432.9 97.5h.75M433.5 97.9h.75M435.7 98.4h.75M436.3 98.1h.75M436.3 98.2h.75M436.3 97.5h.75M436.5 97.5h.75M436.9 98.4h.75M437.7 98.5h.75M437.8 98.4h.75M437.9 97.7h.75M438.2 97.7h.75M438.5 98.0h.75M438.5 97.5h.75M439.1 97.6h.75M439.1 98.1h.75M439.2 98.0h.75M439.2 97.5h.75M439.5 98.4h.75M439.5 97.7h.75M439.6 98.1h.75M439.6 98.5h.75M439.8 97.5h.75M439.8 97.8h.75M439.9 97.8h.75M440.0 98.3h.75M440.1 97.9h.75M440.8 98.1h.75M440.9 98.3h.75M441.3 98.1h.75M441.5 98.0h.75M441.5 98.4h.75M441.5 97.6h.75M441.7 97.9h.75M441.9 98.5h.75M441.9 98.0h.75M442.0 97.8h.75M442.0 97.5h.75M442.0 98.2h.75M442.1 97.6h.75M442.2 98.0h.75M442.3 97.7h.75M442.4 97.7h.75M442.6 98.2h.75M442.8 98.3h.75M443.1 97.7h.75M443.1 98.4h.75M443.1 98.0h.75M443.2 98.2h.75M443.6 98.4h.75M443.7 98.4h.75M443.7 98.5h.75M443.8 98.4h.75M443.9 97.9h.75M444.1 98.0h.75M444.2 98.5h.75M444.4 98.5h.75M444.6 97.8h.75M444.6 98.2h.75M444.8 98.1h.75M444.9 98.3h.75M445.1 98.0h.75M445.2 97.5h.75M445.2 98.4h.75M445.2 97.7h.75M445.3 98.3h.75M445.5 98.4h.75M445.7 98.5h.75M445.8 98.3h.75M445.9 98.3h.75M446.1 98.5h.75M446.4 98.2h.75M446.4 97.6h.75M446.5 98.2h.75M446.7 98.3h.75M446.8 98.4h.75M446.9 97.9h.75M446.9 98.3h.75M447.1 98.3h.75M447.2 98.1h.75M447.2 98.0h.75M447.5 98.3h.75M447.7 97.7h.75M447.7 97.6h.75M447.8 98.3h.75M448.0 98.1h.75M448.4 97.9h.75M448.5 98.3h.75M448.7 98.0h.75M448.8 98.4h.75M449.1 97.8h.75M449.5 97.7h.75M449.8 98.5h.75M450.0 97.6h.75M450.9 97.8h.75M451.1 97.7h.75M451.5 98.1h.75M451.6 97.9h.75M451.9 98.1h.75M452.5 97.8h.75M452.7 98.4h.75M453.3 98.4h.75M456.6 98.4h.75M383.8 98.7h.75M386.2 99.1h.75M386.7 98.8h.75M386.8 99.4h.75M387.4 99.2h.75M387.7 99.2h.75M389.7 99.1h.75M391.5 99.1h.75M391.6 99.3h.75M394.7 99.0h.75M395.1 98.7h.75M397.1 99.5h.75M398.3 98.6h.75M400.9 99.5h.75M402.0 99.4h.75M404.8 98.9h.75M405.0 99.2h.75M405.4 98.7h.75M405.7 98.6h.75M406.9 98.5h.75M407.2 98.5h.75M407.7 98.6h.75M408.6 99.3h.75M408.6 99.5h.75M408.6 98.6h.75M408.7 98.7h.75M408.8 98.6h.75M409.3 99.4h.75M409.6 99.4h.75M409.9 99.4h.75M410.2 98.7h.75M410.6 98.7h.75M411.1 99.5h.75M411.2 98.7h.75M411.2 99.1h.75M411.4 98.7h.75M411.5 99.1h.75M412.1 98.8h.75M412.2 98.6h.75M412.4 98.8h.75M412.8 98.9h.75M413.0 99.3h.75M413.6 99.1h.75M413.7 98.6h.75M413.7 98.8h.75M414.1 99.4h.75M414.1 99.2h.75M414.2 99.0h.75M414.3 99.0h.75M414.3 98.6h.75M414.4 98.7h.75M414.9 98.8h.75M414.9 99.0h.75M415.0 99.0h.75M415.1 98.9h.75M415.2 99.1h.75M415.4 99.4h.75M415.5 98.7h.75M415.6 99.2h.75M415.6 99.2h.75M415.6 98.9h.75M415.7 98.6h.75M415.7 98.8h.75M415.9 98.5h.75M416.0 99.2h.75M416.1 98.8h.75M416.2 99.4h.75M416.2 99.2h.75M416.2 98.7h.75M416.3 99.0h.75M416.6 98.7h.75M416.9 98.7h.75M416.9 99.1h.75M416.9 98.7h.75M417.0 98.6h.75M417.2 99.0h.75M417.2 99.4h.75M417.6 98.5h.75M417.8 99.5h.75M417.9 99.1h.75M418.0 98.7h.75M418.0 98.6h.75M418.0 98.9h.75M418.1 98.5h.75M418.1 99.1h.75M418.6 99.1h.75M418.7 99.1h.75M418.7 99.0h.75M419.1 98.6h.75M419.1 98.7h.75M419.2 99.2h.75M419.3 98.6h.75M419.5 99.4h.75M419.9 98.8h.75M420.0 98.8h.75M420.1 99.2h.75M420.2 99.2h.75M420.3 98.9h.75M420.4 98.5h.75M420.5 99.3h.75M420.8 99.2h.75M421.1 99.0h.75M421.3 98.9h.75M421.5 99.3h.75M422.2 99.1h.75M422.3 99.4h.75M422.3 99.4h.75M422.4 99.2h.75M422.4 98.7h.75M422.9 99.1h.75M422.9 98.7h.75M423.0 98.7h.75M423.4 98.6h.75M423.5 99.0h.75M423.7 98.8h.75M424.5 99.5h.75M425.1 98.8h.75M425.2 99.1h.75M425.3 99.3h.75M425.5 98.8h.75M425.6 98.9h.75M426.1 99.5h.75M426.3 98.7h.75M427.2 99.5h.75M427.4 99.5h.75M427.6 99.4h.75M428.1 98.8h.75M428.3 98.8h.75M428.5 99.3h.75M428.9 99.0h.75M429.1 98.7h.75M430.0 98.8h.75M434.1 98.9h.75M434.6 99.1h.75M434.9 98.8h.75M435.0 99.4h.75M435.2 99.4h.75M435.3 98.9h.75M435.9 98.6h.75M435.9 99.2h.75M436.5 99.3h.75M436.7 99.2h.75M436.9 99.0h.75M437.1 99.4h.75M437.3 99.1h.75M437.5 99.2h.75M437.5 98.8h.75M437.9 99.0h.75M438.8 99.5h.75M439.1 99.0h.75M439.1 99.1h.75M439.2 99.2h.75M439.4 99.0h.75M439.5 98.6h.75M439.6 99.2h.75M439.7 98.9h.75M439.9 98.8h.75M440.7 98.9h.75M440.7 98.6h.75M441.0 99.1h.75M441.1 98.8h.75M441.2 99.2h.75M441.3 99.0h.75M441.3 99.0h.75M441.4 99.3h.75M441.8 99.4h.75M442.1 99.1h.75M442.2 99.3h.75M442.7 98.6h.75M443.0 99.5h.75M443.0 99.1h.75M443.2 99.1h.75M443.3 99.1h.75M443.3 98.7h.75M443.3 98.6h.75M443.9 98.8h.75M443.9 98.7h.75M444.2 98.9h.75M444.3 98.9h.75M444.3 98.9h.75M444.4 98.9h.75M444.6 99.0h.75M444.7 99.1h.75M444.9 99.3h.75M445.0 98.7h.75M445.1 99.3h.75M445.1 98.7h.75M445.2 98.7h.75M445.6 99.2h.75M445.6 99.2h.75M445.8 99.0h.75M445.9 98.9h.75M446.0 99.3h.75M446.4 99.5h.75M446.8 98.9h.75M447.0 98.8h.75M447.0 99.0h.75M447.0 98.7h.75M447.1 99.2h.75M447.2 98.5h.75M447.2 98.9h.75M447.2 99.2h.75M447.4 99.3h.75M447.4 98.8h.75M447.8 99.4h.75M448.1 98.8h.75M448.2 98.9h.75M448.4 99.4h.75M448.4 99.3h.75M448.4 99.4h.75M448.5 99.0h.75M448.6 99.5h.75M448.8 99.2h.75M448.8 99.2h.75M448.9 98.8h.75M449.0 99.3h.75M449.1 99.3h.75M449.2 98.7h.75M449.2 98.8h.75M449.3 98.7h.75M449.5 99.1h.75M449.6 99.0h.75M449.6 98.8h.75M449.7 99.0h.75M449.8 98.6h.75M450.2 98.9h.75M450.2 98.7h.75M450.4 99.5h.75M450.5 99.1h.75M450.8 99.4h.75M450.9 99.3h.75M451.0 99.2h.75M451.2 98.7h.75M452.9 98.9h.75M454.8 99.0h.75M383.0 99.8h.75M385.1 99.9h.75M386.4 99.9h.75M387.5 99.9h.75M388.4 99.8h.75M388.5 100.2h.75M388.8 99.8h.75M389.3 99.6h.75M389.5 99.9h.75M391.7 100.4h.75M391.8 100.2h.75M392.1 100.3h.75M392.7 100.4h.75M394.0 99.9h.75M396.1 100.5h.75M396.3 99.9h.75M396.7 100.4h.75M397.6 100.2h.75M398.4 100.4h.75M398.7 100.1h.75M399.7 99.8h.75M399.9 100.4h.75M399.9 99.8h.75M400.6 100.2h.75M400.6 99.5h.75M400.9 99.6h.75M401.5 99.7h.75M401.7 99.9h.75M401.9 100.4h.75M403.5 100.5h.75M403.6 100.2h.75M403.8 100.4h.75M404.3 100.0h.75M405.3 99.6h.75M405.7 99.6h.75M407.5 100.4h.75M407.5 100.2h.75M407.9 99.6h.75M408.0 100.2h.75M408.3 100.0h.75M408.3 100.4h.75M408.4 100.3h.75M408.5 100.5h.75M408.5 99.9h.75M408.7 100.0h.75M408.8 99.8h.75M408.8 100.4h.75M409.0 99.6h.75M409.3 100.3h.75M409.3 100.0h.75M409.4 99.6h.75M409.6 100.0h.75M409.7 100.5h.75M410.1 99.9h.75M410.6 100.4h.75M411.1 100.5h.75M411.1 100.3h.75M411.5 100.5h.75M411.6 99.7h.75M411.7 100.0h.75M411.9 100.1h.75M411.9 99.7h.75M411.9 99.9h.75M412.0 100.3h.75M412.0 99.7h.75M412.1 99.6h.75M412.2 99.8h.75M412.5 100.2h.75M412.6 100.3h.75M412.7 99.6h.75M413.3 99.7h.75M413.3 100.4h.75M413.3 99.7h.75M413.3 100.4h.75M413.4 100.2h.75M413.4 100.3h.75M413.5 100.4h.75M413.8 99.7h.75M414.3 100.4h.75M414.4 99.5h.75M414.5 99.5h.75M414.6 100.4h.75M414.9 99.5h.75M415.2 100.3h.75M415.4 99.9h.75M415.6 99.5h.75M415.6 99.7h.75M415.7 100.5h.75M416.0 100.0h.75M416.1 100.5h.75M416.2 100.4h.75M416.3 100.2h.75M416.5 100.2h.75M416.5 100.5h.75M416.9 100.0h.75M417.0 100.4h.75M417.0 99.6h.75M417.1 99.7h.75M417.2 100.3h.75M417.2 100.0h.75M417.3 100.0h.75M417.4 99.5h.75M417.5 100.0h.75M417.5 99.8h.75M417.6 99.8h.75M417.6 99.6h.75M417.8 100.2h.75M417.8 99.5h.75M417.9 100.2h.75M418.0 100.0h.75M418.2 99.9h.75M418.3 100.1h.75M418.4 99.7h.75M418.5 99.8h.75M419.0 99.6h.75M419.1 99.9h.75M419.1 99.9h.75M419.1 99.6h.75M419.2 100.1h.75M419.2 99.6h.75M419.2 99.7h.75M419.2 100.5h.75M419.5 99.8h.75M419.6 99.7h.75M419.6 100.1h.75M419.7 99.8h.75M419.7 99.8h.75M419.8 100.2h.75M419.9 99.6h.75M419.9 100.3h.75M419.9 100.4h.75M420.0 99.6h.75M420.1 100.5h.75M420.1 99.7h.75M420.1 99.9h.75M420.5 99.7h.75M420.7 100.1h.75M420.8 100.0h.75M421.1 99.9h.75M421.2 100.4h.75M421.2 99.5h.75M421.4 99.9h.75M421.8 100.5h.75M422.1 100.4h.75M422.4 99.7h.75M422.6 100.4h.75M422.8 100.3h.75M422.8 100.4h.75M423.1 100.1h.75M423.2 100.0h.75M423.3 100.1h.75M423.4 100.0h.75M423.5 99.6h.75M423.6 100.5h.75M423.8 99.7h.75M423.8 99.9h.75M423.9 100.2h.75M424.4 99.7h.75M424.6 99.8h.75M424.6 99.7h.75M424.8 100.2h.75M424.9 100.2h.75M425.0 100.4h.75M425.1 99.8h.75M425.7 99.7h.75M425.9 99.8h.75M425.9 100.3h.75M426.3 99.6h.75M426.7 100.5h.75M426.9 99.5h.75M427.1 100.1h.75M427.2 100.1h.75M427.7 99.7h.75M427.8 100.3h.75M428.0 100.4h.75M428.1 99.7h.75M428.2 100.2h.75M428.3 100.2h.75M428.6 99.8h.75M428.6 100.5h.75M428.8 99.7h.75M429.0 100.1h.75M429.0 100.3h.75M429.2 100.3h.75M429.4 100.3h.75M429.7 99.7h.75M429.8 100.3h.75M430.0 100.2h.75M430.1 99.9h.75M430.4 99.9h.75M430.7 99.8h.75M430.9 99.5h.75M431.9 99.9h.75M433.4 99.6h.75M433.9 100.3h.75M433.9 99.6h.75M434.8 100.4h.75M436.1 100.0h.75M436.4 99.7h.75M436.6 100.0h.75M437.0 99.6h.75M437.5 99.6h.75M438.0 100.3h.75M438.1 99.6h.75M438.6 100.0h.75M438.8 99.8h.75M439.1 100.5h.75M439.3 99.6h.75M439.5 100.3h.75M439.6 100.0h.75M439.7 100.1h.75M439.7 100.1h.75M439.9 100.5h.75M440.0 99.5h.75M440.1 100.5h.75M440.5 100.1h.75M440.9 99.8h.75M440.9 100.4h.75M441.2 100.5h.75M441.2 100.5h.75M441.5 100.4h.75M441.6 100.0h.75M441.6 99.6h.75M441.8 100.0h.75M441.9 100.0h.75M442.2 100.2h.75M442.2 100.5h.75M442.3 100.2h.75M442.4 99.6h.75M442.6 100.2h.75M442.7 99.7h.75M442.9 100.2h.75M442.9 99.6h.75M443.0 99.5h.75M443.2 100.0h.75M443.6 100.2h.75M443.7 100.4h.75M443.7 99.8h.75M443.8 100.4h.75M443.8 100.1h.75M443.9 100.2h.75M444.2 99.9h.75M444.4 100.1h.75M444.5 99.9h.75M444.6 99.7h.75M444.6 99.8h.75M444.6 100.1h.75M444.7 99.6h.75M444.7 100.4h.75M444.8 100.4h.75M444.8 100.1h.75M445.1 100.1h.75M445.2 99.7h.75M445.4 99.7h.75M445.5 100.1h.75M445.6 99.8h.75M445.7 100.3h.75M445.9 99.8h.75M446.0 99.9h.75M446.5 100.0h.75M446.5 100.0h.75M446.8 100.1h.75M446.9 100.2h.75M447.2 99.7h.75M447.2 99.9h.75M447.4 100.3h.75M447.4 99.8h.75M447.6 100.4h.75M447.7 100.4h.75M447.8 99.9h.75M447.9 100.1h.75M448.1 100.3h.75M448.2 99.7h.75M448.3 99.6h.75M448.5 99.9h.75M448.5 100.3h.75M448.7 99.7h.75M448.7 100.4h.75M448.9 99.7h.75M449.1 100.3h.75M449.1 100.1h.75M449.1 100.3h.75M449.3 100.0h.75M449.4 99.5h.75M449.5 100.2h.75M449.6 100.4h.75M449.9 99.8h.75M450.3 99.6h.75M450.4 100.1h.75M450.6 100.4h.75M451.0 100.2h.75M451.3 100.1h.75M451.6 100.2h.75M451.6 99.6h.75M452.8 99.9h.75M453.2 100.2h.75M453.3 99.6h.75M454.1 99.9h.75M454.2 99.6h.75M454.5 100.3h.75M455.5 99.8h.75M455.9 100.2h.75M383.1 101.3h.75M383.1 101.0h.75M383.7 100.7h.75M384.5 101.5h.75M384.5 100.7h.75M387.2 101.0h.75M388.3 101.0h.75M389.0 100.6h.75M390.1 101.0h.75M390.9 100.7h.75M391.5 100.5h.75M392.3 100.8h.75M392.7 100.8h.75M393.0 100.9h.75M393.7 101.4h.75M394.5 101.0h.75M394.9 100.8h.75M395.7 101.4h.75M395.8 100.7h.75M399.7 100.7h.75M401.3 101.1h.75M401.4 100.5h.75M401.8 101.4h.75M402.2 100.5h.75M402.5 100.8h.75M403.0 101.3h.75M404.4 101.3h.75M405.1 101.0h.75M405.3 101.2h.75M405.4 100.7h.75M405.8 101.3h.75M405.8 100.6h.75M405.8 100.6h.75M405.9 101.0h.75M406.3 100.7h.75M406.4 101.5h.75M406.6 100.9h.75M406.7 100.6h.75M407.0 100.6h.75M407.7 101.5h.75M407.8 100.9h.75M408.0 101.3h.75M408.1 101.3h.75M408.1 101.4h.75M408.8 101.1h.75M408.9 101.1h.75M409.3 101.2h.75M409.3 101.1h.75M409.4 101.2h.75M409.4 100.9h.75M409.4 101.1h.75M409.5 101.1h.75M409.5 100.6h.75M409.8 100.6h.75M409.8 100.7h.75M410.3 100.8h.75M410.5 100.8h.75M410.5 101.4h.75M410.6 101.4h.75M410.6 101.3h.75M410.7 101.2h.75M411.0 100.9h.75M411.6 101.3h.75M411.8 101.0h.75M411.8 100.9h.75M412.1 100.9h.75M412.2 101.2h.75M412.2 100.6h.75M412.3 101.1h.75M412.5 100.6h.75M412.7 101.4h.75M413.0 100.7h.75M413.1 101.0h.75M413.4 101.2h.75M413.4 100.7h.75M413.5 101.1h.75M413.9 101.0h.75M414.1 100.8h.75M414.3 101.3h.75M414.5 101.3h.75M414.7 101.2h.75M414.8 101.3h.75M415.1 101.1h.75M415.3 100.8h.75M415.3 101.4h.75M415.8 101.0h.75M415.8 100.7h.75M416.0 101.1h.75M416.0 100.6h.75M416.3 101.1h.75M416.4 100.9h.75M416.4 101.0h.75M416.4 101.5h.75M416.6 101.0h.75M416.6 100.9h.75M416.7 101.4h.75M416.7 101.4h.75M416.8 101.0h.75M417.0 101.1h.75M417.2 100.6h.75M417.3 101.1h.75M417.3 101.1h.75M417.3 100.7h.75M417.9 100.7h.75M418.2 101.2h.75M418.3 101.3h.75M418.4 101.0h.75M418.6 100.8h.75M418.7 101.0h.75M418.7 101.3h.75M418.9 101.3h.75M418.9 101.2h.75M419.1 101.2h.75M419.4 101.3h.75M419.4 100.9h.75M419.5 101.1h.75M419.6 101.3h.75M419.6 100.6h.75M419.6 101.0h.75M419.8 100.9h.75M419.8 101.1h.75M420.0 101.3h.75M420.1 100.6h.75M420.2 100.7h.75M420.2 100.5h.75M420.3 101.2h.75M420.6 101.1h.75M420.8 100.6h.75M420.8 101.1h.75M420.8 101.0h.75M421.3 101.4h.75M421.4 100.5h.75M421.5 101.1h.75M421.6 101.0h.75M421.7 100.6h.75M422.0 101.1h.75M422.1 100.7h.75M422.1 100.9h.75M422.5 100.7h.75M422.6 100.7h.75M422.7 100.8h.75M422.7 101.3h.75M422.9 101.1h.75M423.0 101.5h.75M423.0 100.7h.75M423.8 100.5h.75M423.9 100.6h.75M424.0 100.7h.75M424.4 101.0h.75M424.5 100.8h.75M424.9 101.1h.75M425.1 100.8h.75M425.3 101.0h.75M425.6 100.7h.75M425.6 100.6h.75M425.9 101.2h.75M426.0 100.8h.75M426.2 101.0h.75M426.2 100.7h.75M426.4 100.9h.75M426.5 100.7h.75M427.0 100.8h.75M427.1 100.7h.75M427.2 101.2h.75M427.4 101.4h.75M427.5 101.3h.75M427.5 101.2h.75M427.6 100.9h.75M427.7 101.0h.75M428.7 101.2h.75M429.1 101.1h.75M429.3 100.7h.75M429.4 101.4h.75M429.4 100.6h.75M429.5 101.1h.75M429.8 100.6h.75M429.8 101.1h.75M430.0 101.5h.75M430.1 101.0h.75M430.3 100.6h.75M430.7 101.5h.75M433.4 101.3h.75M433.5 101.0h.75M433.6 100.9h.75M433.8 101.3h.75M433.8 100.6h.75M434.0 100.7h.75M434.6 101.1h.75M434.6 101.3h.75M435.1 101.3h.75M436.8 101.4h.75M436.9 101.2h.75M437.8 101.2h.75M437.9 101.0h.75M438.0 101.2h.75M438.0 100.8h.75M438.1 101.4h.75M438.5 100.6h.75M438.7 101.4h.75M438.8 100.7h.75M439.0 100.9h.75M439.0 100.5h.75M439.3 101.2h.75M439.3 100.7h.75M439.5 101.2h.75M439.8 101.4h.75M440.1 101.3h.75M440.2 101.2h.75M440.3 100.7h.75M440.8 101.3h.75M440.9 101.5h.75M441.0 100.7h.75M441.0 101.1h.75M441.1 101.2h.75M441.1 100.6h.75M441.2 101.5h.75M441.2 101.0h.75M441.3 101.2h.75M441.6 101.3h.75M441.6 101.4h.75M441.6 100.9h.75M441.6 101.0h.75M441.7 101.1h.75M442.0 101.4h.75M442.2 100.6h.75M442.2 101.2h.75M442.3 101.4h.75M442.5 100.5h.75M442.8 101.2h.75M442.9 100.7h.75M443.0 101.1h.75M443.1 100.5h.75M443.1 101.3h.75M443.1 101.3h.75M443.2 101.3h.75M443.4 101.3h.75M443.5 101.5h.75M443.6 101.0h.75M443.6 101.5h.75M443.7 101.1h.75M443.8 101.2h.75M443.9 100.6h.75M443.9 101.4h.75M444.1 100.6h.75M444.1 100.9h.75M444.1 100.9h.75M444.2 101.0h.75M444.3 100.8h.75M444.3 101.4h.75M444.3 100.8h.75M444.4 100.6h.75M444.4 101.5h.75M444.5 101.5h.75M444.5 100.8h.75M444.7 101.0h.75M444.7 101.3h.75M444.7 100.7h.75M444.8 101.4h.75M444.8 100.8h.75M444.8 101.4h.75M444.9 101.0h.75M445.0 101.0h.75M445.1 101.2h.75M445.1 100.5h.75M445.1 100.7h.75M445.2 101.4h.75M445.3 101.1h.75M445.3 101.3h.75M445.3 100.6h.75M445.7 100.9h.75M445.7 100.7h.75M445.9 101.2h.75M446.0 100.6h.75M446.0 101.2h.75M446.2 100.6h.75M446.5 100.8h.75M446.6 101.0h.75M446.6 101.3h.75M446.6 100.6h.75M446.7 101.1h.75M446.7 100.6h.75M446.8 100.8h.75M446.8 101.4h.75M446.9 100.5h.75M446.9 100.7h.75M447.0 101.3h.75M447.1 101.4h.75M447.1 101.2h.75M447.2 100.8h.75M447.3 100.6h.75M447.4 101.1h.75M447.4 101.1h.75M447.5 101.0h.75M447.6 101.1h.75M447.6 101.5h.75M447.6 100.6h.75M447.7 100.6h.75M447.8 100.5h.75M447.9 101.2h.75M448.6 101.3h.75M448.7 101.0h.75M449.2 101.5h.75M449.2 100.6h.75M449.8 101.4h.75M449.9 100.6h.75M450.1 100.7h.75M450.4 100.9h.75M450.8 100.7h.75M451.8 101.4h.75M452.6 100.9h.75M452.7 100.8h.75M453.8 101.1h.75M454.0 101.3h.75M454.6 101.3h.75M455.8 101.3h.75M457.2 100.9h.75M459.8 100.8h.75M382.2 102.5h.75M382.9 101.9h.75M383.3 102.0h.75M385.6 101.9h.75M387.0 101.7h.75M387.3 102.3h.75M387.9 102.0h.75M388.3 102.2h.75M390.3 101.9h.75M390.8 102.2h.75M390.9 101.6h.75M391.3 101.6h.75M391.5 101.8h.75M392.1 102.4h.75M392.2 102.1h.75M392.2 101.8h.75M392.5 102.2h.75M393.3 101.8h.75M393.7 102.0h.75M394.0 101.8h.75M394.7 102.0h.75M396.3 101.9h.75M396.6 102.2h.75M397.1 101.7h.75M397.1 101.5h.75M398.2 102.1h.75M398.2 102.1h.75M399.9 101.9h.75M400.4 101.5h.75M401.2 101.7h.75M402.3 102.0h.75M403.6 102.4h.75M404.9 101.6h.75M405.8 102.5h.75M406.2 102.1h.75M406.4 102.3h.75M406.8 102.4h.75M407.2 102.2h.75M407.4 101.8h.75M408.3 102.3h.75M408.5 101.5h.75M408.5 102.1h.75M408.6 102.0h.75M408.7 101.8h.75M409.5 101.7h.75M409.6 102.0h.75M409.9 102.1h.75M410.0 102.3h.75M410.0 101.8h.75M410.2 101.8h.75M410.4 101.8h.75M410.6 102.4h.75M410.6 101.8h.75M411.1 102.2h.75M411.4 101.9h.75M411.8 102.1h.75M411.9 101.9h.75M412.1 102.5h.75M412.2 101.8h.75M412.2 101.9h.75M413.1 102.2h.75M413.4 101.7h.75M413.6 101.7h.75M413.8 101.9h.75M413.9 102.0h.75M413.9 101.7h.75M414.2 102.4h.75M414.7 101.7h.75M414.7 101.7h.75M414.8 102.0h.75M415.1 101.8h.75M415.3 102.0h.75M415.3 101.6h.75M415.5 101.7h.75M415.5 101.6h.75M415.6 102.0h.75M415.9 102.2h.75M416.0 101.9h.75M416.2 102.5h.75M416.3 102.0h.75M416.4 102.5h.75M416.6 102.3h.75M416.7 102.0h.75M416.9 102.4h.75M417.0 101.8h.75M417.1 101.5h.75M417.2 101.6h.75M417.3 101.6h.75M417.4 102.0h.75M417.6 101.6h.75M417.6 101.9h.75M417.7 102.2h.75M418.1 102.4h.75M418.3 101.6h.75M418.6 102.1h.75M418.8 102.0h.75M419.0 102.5h.75M419.3 101.6h.75M419.4 102.4h.75M419.7 102.0h.75M419.9 101.8h.75M419.9 101.7h.75M420.1 101.6h.75M420.3 101.8h.75M420.4 101.8h.75M420.8 101.6h.75M420.9 101.8h.75M421.0 102.4h.75M422.0 101.9h.75M422.1 101.7h.75M422.1 101.6h.75M422.1 101.8h.75M422.2 102.1h.75M422.9 101.8h.75M423.0 102.1h.75M423.1 101.6h.75M423.2 101.8h.75M423.7 101.7h.75M424.4 101.6h.75M425.1 101.8h.75M425.2 102.1h.75M425.9 101.8h.75M425.9 102.2h.75M426.0 101.7h.75M426.1 102.3h.75M426.2 102.4h.75M426.3 102.4h.75M426.3 101.5h.75M426.3 102.2h.75M427.3 101.5h.75M427.3 101.6h.75M428.0 101.9h.75M428.4 102.0h.75M428.4 101.7h.75M428.7 102.0h.75M428.8 101.6h.75M428.8 101.9h.75M429.0 102.4h.75M429.0 101.6h.75M429.3 101.7h.75M429.3 102.2h.75M429.5 102.4h.75M430.1 101.8h.75M430.2 101.8h.75M431.0 101.7h.75M432.3 101.8h.75M433.3 102.4h.75M433.5 102.1h.75M434.2 101.9h.75M435.1 101.5h.75M435.6 101.5h.75M435.9 102.4h.75M436.0 102.4h.75M436.6 102.5h.75M436.6 102.5h.75M436.8 102.3h.75M437.6 101.7h.75M437.8 102.3h.75M438.0 102.4h.75M438.1 101.6h.75M438.6 101.8h.75M438.7 102.0h.75M438.7 101.8h.75M438.8 102.1h.75M439.0 102.1h.75M439.2 102.5h.75M439.5 102.4h.75M439.5 101.8h.75M439.6 101.9h.75M439.7 101.7h.75M439.7 102.0h.75M439.8 101.9h.75M439.9 101.8h.75M440.0 102.5h.75M440.0 102.1h.75M440.1 102.2h.75M440.1 102.2h.75M440.1 102.0h.75M440.3 101.5h.75M440.3 102.1h.75M440.4 102.2h.75M440.5 102.4h.75M440.6 101.8h.75M440.9 101.6h.75M440.9 102.4h.75M441.3 101.5h.75M441.3 102.3h.75M441.4 101.8h.75M441.4 102.4h.75M441.6 101.7h.75M441.9 102.1h.75M441.9 101.7h.75M441.9 102.4h.75M441.9 101.9h.75M442.1 101.9h.75M442.2 102.2h.75M442.4 101.6h.75M442.5 102.0h.75M442.5 101.8h.75M442.5 101.6h.75M442.6 101.7h.75M442.6 102.4h.75M442.7 101.8h.75M442.8 102.4h.75M442.8 101.5h.75M442.9 101.8h.75M442.9 102.4h.75M443.1 102.2h.75M443.2 101.9h.75M443.2 102.0h.75M443.2 102.3h.75M443.3 101.6h.75M443.3 102.4h.75M443.3 101.6h.75M443.3 102.0h.75M443.3 102.3h.75M443.3 102.0h.75M443.3 101.9h.75M443.4 102.0h.75M443.4 102.1h.75M443.5 102.1h.75M443.6 102.5h.75M443.6 102.5h.75M443.7 102.3h.75M443.7 102.2h.75M443.8 101.8h.75M443.8 102.1h.75M444.0 101.7h.75M444.1 101.5h.75M444.2 102.0h.75M444.3 102.3h.75M444.4 102.4h.75M444.4 101.9h.75M444.4 101.7h.75M444.4 102.0h.75M444.6 101.7h.75M444.6 101.9h.75M444.6 101.9h.75M444.7 102.0h.75M444.7 101.9h.75M444.8 101.7h.75M444.8 101.8h.75M445.0 102.0h.75M445.1 102.4h.75M445.2 102.0h.75M445.3 101.6h.75M445.4 101.5h.75M445.6 101.6h.75M445.6 101.8h.75M445.6 102.0h.75M445.6 102.0h.75M445.7 102.0h.75M446.1 101.6h.75M446.2 101.9h.75M446.4 101.8h.75M446.4 101.6h.75M446.4 101.7h.75M446.4 101.8h.75M446.7 102.1h.75M446.9 102.0h.75M446.9 102.0h.75M447.0 101.7h.75M447.2 102.2h.75M447.2 102.1h.75M447.3 101.7h.75M447.3 101.9h.75M447.3 101.9h.75M447.3 102.2h.75M447.4 102.1h.75M447.5 102.3h.75M447.5 101.6h.75M447.5 102.3h.75M447.7 101.6h.75M447.8 102.5h.75M447.8 101.9h.75M448.0 101.9h.75M448.1 101.8h.75M448.2 102.3h.75M448.2 101.6h.75M448.2 102.5h.75M448.3 102.3h.75M448.6 102.3h.75M448.9 101.8h.75M449.3 101.7h.75M449.6 102.0h.75M449.7 101.9h.75M450.8 102.0h.75M452.4 102.0h.75M453.6 102.2h.75M454.6 102.2h.75M454.8 101.6h.75M461.9 102.1h.75M381.3 102.8h.75M383.3 103.4h.75M388.2 103.4h.75M390.7 102.8h.75M392.3 103.2h.75M399.4 102.9h.75M401.7 103.1h.75M402.1 103.1h.75M402.3 102.8h.75M402.5 103.1h.75M403.0 102.9h.75M403.1 103.3h.75M404.7 103.2h.75M405.3 102.5h.75M406.6 103.4h.75M407.3 103.3h.75M407.4 102.6h.75M408.1 103.3h.75M408.2 103.2h.75M408.5 102.8h.75M408.5 102.8h.75M408.9 103.3h.75M409.0 103.1h.75M409.1 102.7h.75M410.3 103.0h.75M411.4 102.5h.75M412.5 103.1h.75M413.0 102.7h.75M413.0 103.0h.75M414.0 103.0h.75M414.0 102.7h.75M414.1 103.3h.75M414.5 102.5h.75M414.9 102.7h.75M415.0 102.8h.75M415.7 103.1h.75M415.8 103.1h.75M416.7 102.8h.75M416.8 103.0h.75M417.2 103.4h.75M417.3 102.8h.75M417.4 103.2h.75M417.7 103.2h.75M417.7 102.9h.75M419.1 103.4h.75M419.1 102.9h.75M419.4 102.6h.75M419.4 102.8h.75M419.7 102.9h.75M419.9 102.8h.75M420.0 102.8h.75M420.5 103.1h.75M420.7 102.6h.75M421.0 103.2h.75M421.1 103.4h.75M421.2 102.6h.75M421.2 102.7h.75M421.2 102.6h.75M422.0 103.0h.75M422.1 103.2h.75M422.5 102.9h.75M422.6 103.2h.75M422.7 103.1h.75M423.0 103.3h.75M423.3 102.9h.75M423.5 102.5h.75M423.6 102.8h.75M424.0 103.3h.75M424.2 103.5h.75M424.7 103.0h.75M424.8 102.8h.75M425.0 102.6h.75M425.3 103.4h.75M425.3 102.8h.75M425.3 102.6h.75M426.0 102.6h.75M426.1 103.0h.75M426.2 103.2h.75M426.2 102.7h.75M426.6 102.8h.75M426.6 102.6h.75M426.7 102.7h.75M427.0 102.7h.75M427.0 102.6h.75M427.1 103.1h.75M428.3 102.9h.75M428.3 103.2h.75M428.3 103.4h.75M428.8 102.6h.75M429.0 102.7h.75M429.1 103.1h.75M431.1 102.8h.75M431.3 102.9h.75M432.9 102.9h.75M433.6 103.4h.75M434.1 103.3h.75M435.2 102.8h.75M435.2 103.0h.75M435.5 102.6h.75M435.7 103.1h.75M436.2 103.4h.75M436.3 102.5h.75M437.3 103.3h.75M437.8 103.1h.75M438.0 103.4h.75M438.3 103.4h.75M438.4 103.5h.75M438.6 103.3h.75M438.6 103.2h.75M438.9 102.6h.75M438.9 103.2h.75M439.1 102.8h.75M439.1 102.6h.75M439.2 102.8h.75M439.3 102.5h.75M439.4 102.6h.75M439.9 103.1h.75M440.0 103.2h.75M440.1 103.4h.75M440.1 103.4h.75M440.2 102.5h.75M440.3 103.0h.75M440.4 102.6h.75M440.5 102.6h.75M440.5 102.9h.75M440.5 103.4h.75M440.6 103.2h.75M440.6 103.4h.75M440.7 103.0h.75M440.8 103.5h.75M440.8 102.5h.75M440.9 102.9h.75M440.9 103.0h.75M441.2 103.3h.75M441.2 102.5h.75M441.3 103.0h.75M441.6 103.3h.75M441.6 103.2h.75M441.6 102.7h.75M441.7 103.3h.75M441.9 103.5h.75M442.1 103.4h.75M442.1 102.6h.75M442.1 103.5h.75M442.3 103.0h.75M442.3 102.6h.75M442.3 103.0h.75M442.3 103.0h.75M442.4 103.0h.75M442.6 102.5h.75M442.7 102.9h.75M443.0 102.7h.75M443.1 102.9h.75M443.2 102.6h.75M443.3 103.0h.75M443.3 103.3h.75M443.5 103.2h.75M443.6 102.7h.75M443.7 102.9h.75M443.8 102.5h.75M443.8 103.1h.75M443.9 103.3h.75M444.1 103.3h.75M444.1 102.6h.75M444.1 103.0h.75M444.2 103.4h.75M444.4 103.3h.75M444.4 103.0h.75M444.6 102.6h.75M444.6 103.0h.75M444.9 103.5h.75M444.9 103.3h.75M445.0 103.5h.75M445.1 103.1h.75M445.1 103.4h.75M445.4 102.7h.75M445.8 102.6h.75M445.8 102.8h.75M445.9 102.7h.75M445.9 102.5h.75M446.0 102.6h.75M446.2 103.0h.75M446.3 102.9h.75M446.5 103.0h.75M446.5 103.2h.75M446.7 103.2h.75M446.7 103.4h.75M446.7 102.6h.75M446.8 103.1h.75M446.9 102.7h.75M446.9 102.8h.75M447.0 102.8h.75M447.1 102.8h.75M447.2 102.8h.75M447.3 103.2h.75M447.3 103.0h.75M447.5 103.1h.75M447.5 102.7h.75M447.6 103.2h.75M447.7 103.1h.75M447.8 102.8h.75M447.8 103.2h.75M447.8 102.9h.75M447.9 103.0h.75M448.1 103.2h.75M448.2 102.9h.75M448.4 102.8h.75M448.5 102.5h.75M448.5 103.0h.75M448.6 103.3h.75M448.7 103.1h.75M449.2 102.9h.75M451.1 102.7h.75M451.8 103.0h.75M451.9 102.5h.75M452.7 102.9h.75M454.9 102.6h.75M455.9 103.0h.75M458.8 103.0h.75M460.1 102.5h.75M385.3 104.5h.75M388.1 103.6h.75M392.7 103.6h.75M393.7 103.9h.75M396.3 103.6h.75M397.3 104.1h.75M398.0 104.0h.75M399.2 103.5h.75M403.6 103.9h.75M405.1 103.6h.75M407.2 103.7h.75M408.9 104.3h.75M409.3 103.8h.75M409.5 104.3h.75M410.4 103.6h.75M412.5 103.7h.75M414.5 103.9h.75M415.6 104.0h.75M416.2 103.8h.75M417.4 104.5h.75M417.6 103.6h.75M417.9 103.6h.75M418.7 104.0h.75M419.8 104.3h.75M420.3 103.7h.75M421.3 103.9h.75M421.4 103.9h.75M422.0 104.4h.75M422.7 104.3h.75M422.8 103.9h.75M423.1 104.3h.75M423.2 103.5h.75M423.9 104.0h.75M424.1 103.9h.75M425.4 104.5h.75M425.6 104.1h.75M426.2 103.7h.75M428.1 103.8h.75M428.3 103.5h.75M428.5 103.6h.75M429.6 103.8h.75M430.6 103.5h.75M431.5 104.2h.75M431.7 103.7h.75M432.2 103.6h.75M433.6 104.5h.75M434.2 104.0h.75M434.3 104.3h.75M434.7 103.6h.75M434.8 104.4h.75M434.9 104.4h.75M435.2 104.3h.75M435.4 103.8h.75M435.5 104.3h.75M435.7 103.7h.75M435.7 104.2h.75M435.7 103.7h.75M436.7 103.6h.75M436.8 104.4h.75M436.8 104.5h.75M437.1 103.8h.75M437.1 104.2h.75M437.2 104.4h.75M437.3 104.2h.75M437.3 103.5h.75M437.3 103.8h.75M437.6 103.9h.75M437.8 104.4h.75M437.9 103.9h.75M437.9 103.6h.75M438.4 103.9h.75M438.4 104.2h.75M438.5 103.8h.75M438.6 103.9h.75M438.7 103.5h.75M438.7 103.7h.75M438.7 103.9h.75M438.8 104.3h.75M438.8 103.7h.75M438.9 104.0h.75M438.9 103.8h.75M439.0 103.5h.75M439.2 104.3h.75M439.4 104.1h.75M439.5 104.2h.75M439.5 103.8h.75M439.6 103.9h.75M439.9 103.8h.75M439.9 103.8h.75M440.0 104.2h.75M440.1 103.8h.75M440.2 103.6h.75M440.2 104.4h.75M440.3 103.8h.75M440.4 104.2h.75M440.6 103.9h.75M440.6 103.5h.75M440.6 104.0h.75M440.7 104.1h.75M440.7 104.1h.75M440.7 103.6h.75M440.7 104.1h.75M441.3 103.8h.75M441.4 104.0h.75M441.4 104.3h.75M441.5 103.9h.75M441.5 103.9h.75M441.6 104.2h.75M441.7 104.2h.75M441.8 104.1h.75M441.9 104.3h.75M441.9 103.7h.75M442.0 104.4h.75M442.0 104.1h.75M442.1 104.0h.75M442.1 104.2h.75M442.2 103.7h.75M442.3 103.9h.75M442.5 103.7h.75M442.6 104.0h.75M442.9 103.9h.75M442.9 104.4h.75M443.1 103.8h.75M443.2 103.6h.75M443.2 104.2h.75M443.3 103.7h.75M443.3 104.3h.75M443.3 103.8h.75M443.3 104.1h.75M443.3 104.2h.75M443.5 103.5h.75M443.7 103.7h.75M443.8 104.1h.75M443.8 104.3h.75M443.8 104.1h.75M443.9 103.8h.75M444.0 104.2h.75M444.2 104.4h.75M444.2 104.1h.75M444.2 103.7h.75M444.3 104.3h.75M444.8 104.3h.75M445.1 104.3h.75M445.1 103.9h.75M445.1 103.9h.75M445.2 104.4h.75M445.2 103.6h.75M445.2 104.0h.75M445.2 104.5h.75M445.2 103.6h.75M445.3 104.5h.75M445.4 103.9h.75M445.5 103.6h.75M445.6 104.1h.75M446.1 103.8h.75M446.1 104.0h.75M446.2 104.1h.75M446.3 104.4h.75M446.4 103.8h.75M446.6 104.0h.75M446.7 103.9h.75M446.9 104.4h.75M447.3 103.8h.75M447.5 104.1h.75M447.8 103.7h.75M448.2 104.2h.75M448.2 103.8h.75M448.2 104.3h.75M448.3 103.6h.75M448.3 103.9h.75M448.4 103.8h.75M448.6 103.6h.75M448.6 104.2h.75M448.7 104.2h.75M449.1 104.1h.75M449.2 104.1h.75M449.3 103.7h.75M449.4 103.6h.75M449.6 104.4h.75M449.6 103.9h.75M450.7 103.8h.75M451.4 104.2h.75M455.7 104.5h.75M456.6 104.1h.75M381.0 104.6h.75M381.0 105.3h.75M393.9 104.6h.75M400.1 104.5h.75M401.4 105.1h.75M404.0 105.3h.75M404.4 104.5h.75M405.5 105.5h.75M408.2 104.5h.75M408.5 105.3h.75M410.4 105.0h.75M416.1 105.1h.75M416.5 104.5h.75M416.6 104.7h.75M416.9 104.7h.75M418.3 104.9h.75M418.7 104.7h.75M420.5 104.8h.75M421.6 104.8h.75M421.7 105.1h.75M421.8 105.2h.75M421.9 104.6h.75M423.1 104.8h.75M423.6 104.7h.75M423.9 104.6h.75M424.1 105.0h.75M424.6 105.2h.75M426.7 104.9h.75M427.2 104.8h.75M427.7 104.9h.75M428.7 105.4h.75M429.1 104.7h.75M429.3 104.8h.75M429.4 105.4h.75M429.5 105.2h.75M429.9 104.6h.75M430.1 105.4h.75M430.5 105.0h.75M430.8 105.4h.75M430.9 104.8h.75M431.4 105.1h.75M432.1 104.6h.75M433.5 104.7h.75M434.0 104.5h.75M434.4 105.4h.75M434.6 104.9h.75M434.8 105.4h.75M434.8 105.3h.75M434.9 105.0h.75M435.1 105.0h.75M435.1 104.7h.75M435.2 105.4h.75M435.7 105.0h.75M435.9 104.7h.75M436.0 104.5h.75M436.1 104.5h.75M436.1 105.2h.75M436.3 104.5h.75M436.3 105.5h.75M436.6 105.3h.75M436.7 104.8h.75M437.0 105.3h.75M437.0 105.1h.75M437.1 104.7h.75M437.1 104.7h.75M437.2 104.7h.75M437.3 104.7h.75M437.3 105.1h.75M437.3 104.6h.75M437.4 105.2h.75M437.4 104.6h.75M437.5 105.3h.75M437.6 105.1h.75M438.2 105.5h.75M438.4 104.6h.75M438.8 105.1h.75M438.9 105.3h.75M438.9 104.5h.75M439.1 104.9h.75M439.2 105.0h.75M439.2 104.7h.75M439.4 105.1h.75M439.5 104.7h.75M439.5 105.0h.75M439.5 104.6h.75M439.7 105.2h.75M439.8 105.0h.75M439.8 105.4h.75M440.1 104.6h.75M440.1 105.2h.75M440.2 104.9h.75M440.2 105.5h.75M440.2 104.8h.75M440.5 104.6h.75M440.5 104.5h.75M440.6 104.6h.75M440.7 104.8h.75M440.7 104.7h.75M440.7 104.9h.75M440.7 104.6h.75M441.0 104.8h.75M441.0 105.0h.75M441.1 104.6h.75M441.1 105.3h.75M441.2 105.5h.75M441.2 104.8h.75M441.4 104.6h.75M441.5 104.6h.75M441.6 105.1h.75M441.8 105.3h.75M441.8 105.1h.75M441.8 105.2h.75M441.9 105.3h.75M442.0 105.1h.75M442.2 105.1h.75M442.2 104.8h.75M442.4 104.7h.75M442.4 105.1h.75M442.5 105.5h.75M442.6 104.6h.75M442.7 104.8h.75M442.7 105.3h.75M442.8 105.4h.75M443.0 105.2h.75M443.3 105.4h.75M443.4 104.6h.75M443.7 105.2h.75M443.7 105.1h.75M443.7 104.6h.75M443.8 105.4h.75M443.8 104.7h.75M443.8 105.4h.75M443.9 104.5h.75M444.0 105.0h.75M444.1 105.4h.75M444.2 105.4h.75M444.2 104.7h.75M444.3 104.9h.75M444.3 104.9h.75M444.4 104.8h.75M444.5 105.5h.75M444.6 105.5h.75M444.7 105.4h.75M444.8 104.8h.75M445.1 104.9h.75M445.1 104.7h.75M445.4 104.9h.75M445.7 104.8h.75M445.7 105.2h.75M445.9 104.9h.75M445.9 105.4h.75M446.2 105.5h.75M446.3 105.2h.75M446.6 104.6h.75M446.7 105.1h.75M446.8 104.9h.75M446.8 105.1h.75M446.9 105.4h.75M447.0 104.9h.75M447.0 104.7h.75M448.0 104.9h.75M448.7 105.2h.75M449.2 105.1h.75M449.6 105.0h.75M450.3 104.6h.75M452.5 105.1h.75M460.8 104.6h.75M385.0 106.0h.75M385.8 106.1h.75M386.0 106.3h.75M387.7 105.6h.75M389.6 105.9h.75M390.9 105.5h.75M394.3 105.9h.75M395.8 106.4h.75M399.8 106.2h.75M402.0 106.5h.75M406.3 105.6h.75M406.3 106.1h.75M409.6 106.2h.75M409.6 106.2h.75M410.6 106.4h.75M411.1 105.8h.75M415.2 106.3h.75M417.4 106.1h.75M420.0 105.8h.75M421.8 105.6h.75M422.3 106.5h.75M425.1 105.7h.75M429.2 105.5h.75M429.2 106.3h.75M429.5 106.3h.75M430.0 105.7h.75M430.6 105.7h.75M430.9 106.4h.75M431.8 106.3h.75M432.0 105.9h.75M432.4 106.2h.75M432.9 105.5h.75M433.2 105.9h.75M433.4 106.1h.75M433.8 106.0h.75M434.3 106.2h.75M435.1 106.1h.75M435.4 106.0h.75M435.6 105.9h.75M435.7 106.1h.75M435.9 105.8h.75M436.0 105.7h.75M436.1 106.3h.75M436.5 105.5h.75M436.9 106.3h.75M437.0 106.3h.75M437.2 105.8h.75M437.2 106.5h.75M437.2 106.1h.75M437.3 106.5h.75M437.4 106.2h.75M437.6 105.8h.75M437.6 106.0h.75M437.7 106.5h.75M437.9 105.6h.75M437.9 106.4h.75M437.9 105.7h.75M438.4 105.6h.75M438.4 105.7h.75M438.5 106.0h.75M438.7 106.0h.75M438.8 105.9h.75M438.8 105.6h.75M439.1 106.4h.75M439.2 106.4h.75M439.2 106.4h.75M439.3 106.1h.75M439.3 105.8h.75M439.3 106.3h.75M439.4 106.2h.75M439.5 106.3h.75M439.6 106.4h.75M439.7 105.6h.75M439.8 106.1h.75M439.8 105.8h.75M439.9 106.1h.75M440.0 106.1h.75M440.1 106.0h.75M440.1 105.6h.75M440.1 105.9h.75M440.2 105.7h.75M440.4 106.0h.75M440.5 106.3h.75M440.5 105.7h.75M440.8 105.7h.75M441.1 106.1h.75M441.3 105.9h.75M441.4 105.7h.75M441.8 106.5h.75M441.8 106.5h.75M441.8 105.6h.75M442.0 106.4h.75M442.1 106.0h.75M442.3 106.0h.75M442.4 106.2h.75M442.4 105.9h.75M442.4 106.4h.75M442.7 105.8h.75M442.8 106.4h.75M442.9 105.8h.75M443.0 106.1h.75M443.1 106.0h.75M443.2 106.2h.75M443.3 105.9h.75M443.4 105.8h.75M443.5 106.2h.75M443.5 106.4h.75M443.5 105.7h.75M443.7 105.9h.75M443.8 105.8h.75M443.9 105.6h.75M443.9 105.8h.75M444.0 105.6h.75M444.1 105.8h.75M444.1 105.6h.75M444.3 106.3h.75M444.4 105.8h.75M444.4 105.5h.75M444.5 106.0h.75M445.3 105.7h.75M445.6 105.8h.75M445.6 106.5h.75M445.6 106.0h.75M446.5 106.4h.75M446.7 105.6h.75M446.8 105.6h.75M447.1 106.1h.75M447.5 106.0h.75M447.5 106.1h.75M447.7 106.3h.75M448.2 105.7h.75M449.7 105.8h.75M451.5 105.8h.75M455.4 105.8h.75M455.8 106.1h.75M389.0 107.2h.75M391.7 107.0h.75M395.3 106.9h.75M395.5 107.0h.75M396.4 106.5h.75M397.7 107.0h.75M406.5 107.4h.75M407.7 106.9h.75M409.4 106.8h.75M410.1 107.1h.75M411.1 107.5h.75M411.7 107.5h.75M413.1 107.4h.75M415.7 106.9h.75M416.6 106.8h.75M421.7 107.3h.75M422.1 107.5h.75M422.3 106.7h.75M423.1 107.0h.75M424.1 107.1h.75M424.4 107.2h.75M425.5 107.4h.75M425.7 106.5h.75M425.7 107.2h.75M426.8 107.3h.75M428.0 107.2h.75M428.1 106.8h.75M428.1 107.2h.75M428.2 106.6h.75M429.0 106.6h.75M429.1 106.7h.75M429.3 107.3h.75M429.4 107.3h.75M430.4 107.3h.75M430.7 107.1h.75M430.8 106.5h.75M430.9 107.1h.75M430.9 106.6h.75M431.0 106.7h.75M431.1 107.4h.75M431.3 107.2h.75M431.6 106.7h.75M431.7 107.4h.75M431.7 107.1h.75M431.8 107.2h.75M431.9 107.4h.75M432.2 107.4h.75M432.2 106.7h.75M432.2 106.9h.75M432.3 107.0h.75M432.6 106.7h.75M433.0 107.2h.75M433.2 106.6h.75M433.6 106.8h.75M433.6 107.4h.75M433.6 107.0h.75M433.8 107.1h.75M435.0 106.8h.75M435.2 107.4h.75M435.3 107.0h.75M435.4 107.3h.75M435.5 107.3h.75M435.7 106.8h.75M435.8 107.3h.75M436.2 107.4h.75M436.3 107.0h.75M436.3 106.8h.75M436.8 107.0h.75M436.8 106.5h.75M437.1 107.2h.75M437.2 107.1h.75M437.5 107.1h.75M437.5 106.9h.75M437.5 106.8h.75M437.6 107.0h.75M437.8 107.0h.75M437.9 106.7h.75M438.0 107.1h.75M438.0 106.9h.75M438.0 107.1h.75M438.1 106.7h.75M438.2 107.4h.75M438.5 107.5h.75M438.7 107.2h.75M438.7 106.5h.75M439.1 107.3h.75M439.5 107.1h.75M439.6 106.5h.75M440.1 107.3h.75M440.2 106.9h.75M440.2 107.3h.75M440.2 107.1h.75M440.3 106.9h.75M440.4 107.3h.75M440.5 107.2h.75M440.6 107.5h.75M440.6 107.3h.75M440.7 107.1h.75M440.7 106.8h.75M440.8 107.0h.75M440.8 106.9h.75M440.8 107.0h.75M440.9 106.6h.75M440.9 107.0h.75M441.1 106.8h.75M441.4 106.9h.75M441.5 106.8h.75M441.5 107.2h.75M441.5 106.9h.75M441.6 107.4h.75M441.8 106.6h.75M441.9 106.9h.75M442.1 106.9h.75M442.4 106.7h.75M442.5 107.4h.75M442.5 107.3h.75M442.7 106.5h.75M442.8 107.2h.75M442.8 107.1h.75M443.0 107.1h.75M443.0 106.7h.75M443.1 107.1h.75M443.4 107.2h.75M443.5 107.1h.75M443.5 107.0h.75M443.7 107.3h.75M443.8 107.3h.75M444.1 106.6h.75M444.3 107.0h.75M444.3 107.1h.75M444.7 107.4h.75M445.3 106.6h.75M445.4 106.7h.75M445.5 107.4h.75M445.6 107.1h.75M446.1 106.5h.75M446.8 107.5h.75M448.0 107.2h.75M450.0 106.7h.75M453.0 107.2h.75M454.8 107.2h.75M455.6 107.5h.75M457.0 107.2h.75M381.4 107.5h.75M390.2 108.3h.75M394.5 108.5h.75M396.3 107.7h.75M401.8 108.1h.75M401.8 107.8h.75M405.0 107.7h.75M405.4 107.6h.75M405.7 108.2h.75M407.1 108.4h.75M408.6 108.3h.75M411.7 108.2h.75M412.6 107.6h.75M418.4 108.1h.75M418.8 108.4h.75M419.5 108.3h.75M421.9 108.1h.75M422.9 108.0h.75M425.2 108.1h.75M426.8 107.9h.75M427.4 107.8h.75M427.7 108.1h.75M428.1 108.3h.75M428.3 108.5h.75M428.7 107.7h.75M428.8 108.2h.75M429.3 108.4h.75M429.8 108.2h.75M430.0 108.4h.75M430.5 108.1h.75M430.5 108.2h.75M430.5 108.3h.75M430.7 108.0h.75M430.9 108.1h.75M431.0 108.1h.75M431.3 107.9h.75M431.6 107.8h.75M431.7 108.3h.75M431.9 107.5h.75M432.1 108.4h.75M432.4 108.3h.75M432.7 107.6h.75M432.8 107.9h.75M432.8 107.9h.75M432.9 108.4h.75M433.2 108.5h.75M433.3 108.0h.75M433.4 108.4h.75M433.5 108.0h.75M433.5 107.7h.75M433.8 107.6h.75M434.0 107.7h.75M434.3 108.3h.75M434.3 108.1h.75M434.4 107.9h.75M434.5 108.5h.75M434.6 108.3h.75M434.7 108.3h.75M434.7 107.8h.75M434.7 107.6h.75M434.9 108.1h.75M435.6 108.3h.75M435.6 108.0h.75M435.8 107.7h.75M436.0 107.9h.75M436.0 108.4h.75M436.1 107.7h.75M436.2 108.0h.75M436.2 108.0h.75M436.4 108.0h.75M436.7 107.7h.75M436.8 107.8h.75M437.1 108.1h.75M437.1 107.7h.75M437.6 107.7h.75M437.8 107.7h.75M438.2 108.2h.75M438.2 107.8h.75M438.3 108.2h.75M438.6 107.8h.75M438.7 108.2h.75M438.9 107.7h.75M439.1 107.8h.75M439.1 107.5h.75M439.4 107.6h.75M439.4 108.1h.75M439.4 108.2h.75M439.6 107.8h.75M439.7 108.3h.75M439.8 107.5h.75M439.9 108.0h.75M440.0 108.5h.75M440.1 107.5h.75M440.8 108.2h.75M440.8 107.7h.75M441.1 107.7h.75M441.1 107.8h.75M441.1 108.0h.75M441.1 108.5h.75M441.3 108.1h.75M441.3 108.0h.75M441.3 108.3h.75M441.4 108.3h.75M441.6 108.3h.75M441.6 107.5h.75M441.9 107.6h.75M442.0 108.4h.75M442.4 107.8h.75M442.5 107.8h.75M442.5 108.0h.75M442.5 107.6h.75M442.7 108.2h.75M442.8 107.7h.75M443.0 107.6h.75M443.0 108.3h.75M443.3 107.8h.75M443.9 107.9h.75M444.3 108.4h.75M444.6 108.4h.75M444.8 107.7h.75M445.2 107.7h.75M446.6 108.5h.75M447.8 108.3h.75M448.1 108.3h.75M448.2 107.6h.75M449.0 108.4h.75M449.3 107.5h.75M450.6 108.4h.75M451.9 108.3h.75M455.1 108.0h.75M384.4 109.2h.75M398.1 108.8h.75M401.2 109.4h.75M404.6 109.1h.75M407.7 108.6h.75M408.1 109.3h.75M411.2 108.8h.75M412.6 108.5h.75M412.7 109.2h.75M419.4 109.2h.75M420.8 109.5h.75M421.9 109.1h.75M422.3 109.2h.75M422.4 109.0h.75M423.2 109.1h.75M424.0 109.1h.75M424.4 108.7h.75M425.7 108.9h.75M425.8 108.5h.75M426.1 109.5h.75M426.8 108.7h.75M427.1 108.7h.75M427.2 108.9h.75M427.5 109.2h.75M427.5 108.8h.75M427.5 109.1h.75M427.8 109.4h.75M427.8 109.0h.75M427.9 108.7h.75M428.0 108.7h.75M428.2 109.4h.75M428.3 109.2h.75M428.3 108.9h.75M428.4 108.9h.75M429.4 109.2h.75M429.5 108.7h.75M429.8 109.4h.75M429.8 108.8h.75M430.1 108.9h.75M430.3 109.4h.75M430.8 109.4h.75M430.9 109.2h.75M431.3 108.5h.75M431.7 109.0h.75M431.7 108.8h.75M431.9 108.6h.75M432.1 108.8h.75M432.8 109.4h.75M433.0 109.1h.75M433.0 108.6h.75M433.1 108.6h.75M433.2 108.6h.75M433.4 108.5h.75M433.6 109.4h.75M433.6 108.7h.75M434.5 109.0h.75M434.5 108.9h.75M434.5 109.0h.75M434.6 108.7h.75M434.8 109.2h.75M434.8 108.9h.75M435.1 109.4h.75M435.2 108.7h.75M435.6 108.6h.75M435.6 109.5h.75M435.6 108.9h.75M435.8 108.6h.75M436.0 109.2h.75M436.0 109.3h.75M436.2 108.5h.75M436.2 109.1h.75M436.3 108.5h.75M436.4 108.7h.75M436.5 109.2h.75M436.5 108.6h.75M436.6 109.3h.75M436.6 108.5h.75M437.0 109.0h.75M437.3 108.6h.75M437.4 109.1h.75M437.8 109.0h.75M437.9 109.2h.75M437.9 108.9h.75M437.9 109.1h.75M438.0 109.3h.75M438.0 108.8h.75M438.3 109.3h.75M438.4 109.0h.75M438.5 109.0h.75M438.8 109.4h.75M438.8 108.8h.75M438.9 109.2h.75M438.9 108.8h.75M439.0 109.3h.75M439.1 108.8h.75M439.3 109.4h.75M439.6 109.1h.75M439.9 109.1h.75M439.9 109.4h.75M440.0 108.6h.75M440.0 108.7h.75M440.3 108.9h.75M440.3 109.2h.75M440.4 108.6h.75M440.6 108.9h.75M441.4 109.1h.75M441.9 108.8h.75M442.0 109.3h.75M442.0 108.6h.75M442.9 109.0h.75M443.1 108.8h.75M443.5 109.4h.75M443.8 108.6h.75M443.8 109.0h.75M444.4 109.5h.75M444.4 108.5h.75M446.8 108.5h.75M447.0 108.9h.75M447.7 108.7h.75M450.8 109.0h.75M453.4 108.9h.75M454.3 108.8h.75M455.6 109.4h.75M382.8 109.6h.75M386.8 109.8h.75M388.5 110.4h.75M389.2 109.7h.75M399.4 109.8h.75M401.2 109.7h.75M402.1 109.8h.75M404.6 109.8h.75M405.6 110.5h.75M408.3 110.0h.75M413.9 109.6h.75M414.2 109.7h.75M414.7 109.9h.75M416.9 109.8h.75M417.5 110.0h.75M419.0 110.1h.75M420.0 109.6h.75M421.0 110.4h.75M421.5 110.0h.75M422.5 110.0h.75M424.6 109.8h.75M425.3 110.1h.75M425.8 110.2h.75M426.4 110.1h.75M426.4 110.0h.75M426.8 109.8h.75M426.9 109.9h.75M427.5 110.2h.75M428.1 110.5h.75M428.1 109.7h.75M428.1 109.9h.75M428.7 110.2h.75M428.9 110.0h.75M429.2 109.7h.75M429.4 109.6h.75M429.9 110.3h.75M430.0 109.7h.75M430.1 110.2h.75M430.2 109.9h.75M430.2 110.2h.75M430.2 110.5h.75M430.5 109.8h.75M430.7 110.1h.75M430.7 109.9h.75M430.7 109.6h.75M431.0 110.5h.75M431.0 110.0h.75M431.7 110.2h.75M431.9 110.0h.75M432.2 109.8h.75M432.3 109.9h.75M432.5 109.5h.75M433.0 110.0h.75M433.0 110.4h.75M433.0 110.2h.75M433.1 110.3h.75M433.1 110.3h.75M433.3 110.2h.75M433.4 109.6h.75M433.6 109.6h.75M433.8 110.1h.75M434.1 110.1h.75M434.2 109.8h.75M434.3 110.5h.75M434.4 109.8h.75M434.5 110.4h.75M434.5 110.5h.75M434.5 110.2h.75M435.4 110.4h.75M435.4 110.0h.75M435.6 109.6h.75M435.6 109.9h.75M436.3 109.7h.75M436.6 110.3h.75M436.6 110.2h.75M436.8 109.5h.75M436.9 109.7h.75M437.0 110.2h.75M437.2 110.4h.75M437.5 109.9h.75M437.6 109.6h.75M437.7 109.6h.75M437.9 110.1h.75M438.1 109.7h.75M438.2 110.3h.75M438.3 110.3h.75M438.3 109.9h.75M439.0 109.7h.75M439.3 109.9h.75M439.4 109.9h.75M440.1 110.3h.75M440.8 110.4h.75M440.9 110.0h.75M441.0 110.0h.75M441.0 109.5h.75M441.2 110.3h.75M441.3 109.7h.75M441.5 109.6h.75M442.0 110.2h.75M442.9 110.0h.75M443.9 110.5h.75M444.1 110.5h.75M444.3 109.7h.75M444.4 110.2h.75M444.5 109.5h.75M445.8 110.1h.75M447.1 110.2h.75M449.5 110.1h.75M452.2 109.9h.75M454.7 110.2h.75M458.1 109.8h.75M382.6 111.5h.75M382.8 111.3h.75M384.4 111.2h.75M385.8 110.6h.75M385.8 110.7h.75M388.7 110.7h.75M392.3 111.2h.75M392.4 111.1h.75M393.3 111.5h.75M393.4 111.2h.75M396.2 110.6h.75M397.8 110.8h.75M398.2 111.2h.75M400.7 111.3h.75M401.9 110.5h.75M404.3 110.6h.75M404.5 111.3h.75M405.5 111.4h.75M405.6 111.3h.75M406.5 111.4h.75M409.3 110.8h.75M409.4 110.8h.75M409.9 111.2h.75M410.0 110.6h.75M410.0 111.0h.75M412.1 110.8h.75M413.5 110.9h.75M417.1 110.7h.75M418.7 111.0h.75M418.9 110.6h.75M419.0 110.8h.75M419.1 111.0h.75M420.3 111.2h.75M420.4 111.1h.75M422.5 111.3h.75M422.8 111.0h.75M422.8 110.6h.75M424.1 111.1h.75M424.2 110.7h.75M424.3 111.0h.75M424.8 111.5h.75M425.2 111.0h.75M425.8 111.1h.75M426.2 110.8h.75M426.2 110.9h.75M426.5 111.0h.75M426.7 111.1h.75M427.4 111.4h.75M427.4 111.1h.75M427.7 110.5h.75M427.7 111.1h.75M427.9 110.6h.75M428.0 110.9h.75M428.2 110.6h.75M428.3 111.3h.75M428.6 111.4h.75M428.8 110.8h.75M429.3 110.8h.75M429.8 111.4h.75M430.1 111.3h.75M430.2 111.5h.75M430.2 111.1h.75M430.2 111.1h.75M430.3 111.1h.75M430.5 111.5h.75M430.6 110.9h.75M430.6 110.8h.75M430.7 110.5h.75M430.8 111.3h.75M430.9 111.4h.75M431.2 111.0h.75M431.5 111.1h.75M431.8 110.8h.75M432.1 111.3h.75M432.2 111.2h.75M432.5 110.7h.75M432.7 110.8h.75M432.7 110.7h.75M432.7 111.2h.75M433.1 111.2h.75M433.8 111.0h.75M434.1 111.2h.75M434.5 110.5h.75M434.6 111.3h.75M435.0 111.0h.75M435.0 110.9h.75M435.3 111.1h.75M435.6 110.8h.75M435.9 111.0h.75M436.0 110.8h.75M436.4 111.2h.75M436.6 111.0h.75M436.9 111.2h.75M436.9 111.1h.75M436.9 111.3h.75M437.0 110.7h.75M437.1 111.4h.75M437.2 110.6h.75M437.3 110.6h.75M437.3 111.4h.75M437.3 110.7h.75M437.4 110.8h.75M438.1 111.5h.75M438.3 111.0h.75M438.5 111.0h.75M438.6 111.0h.75M438.6 110.5h.75M438.8 111.1h.75M438.8 111.4h.75M439.1 111.4h.75M440.1 110.8h.75M440.3 111.3h.75M441.2 110.8h.75M441.5 110.8h.75M442.0 110.6h.75M442.2 110.8h.75M442.6 110.7h.75M442.6 111.0h.75M445.0 111.4h.75M445.9 110.7h.75M446.5 111.1h.75M447.1 111.3h.75M451.6 111.0h.75M452.2 110.8h.75M457.5 111.2h.75M458.8 110.9h.75M382.4 112.1h.75M384.9 111.7h.75M387.2 111.8h.75M399.1 111.7h.75M412.5 111.8h.75M413.9 111.7h.75M415.0 111.7h.75M415.7 112.3h.75M417.8 111.9h.75M418.4 111.6h.75M419.2 111.8h.75M420.2 112.4h.75M420.6 111.9h.75M420.7 112.4h.75M421.8 112.2h.75M422.6 112.2h.75M423.8 111.6h.75M424.1 112.1h.75M424.4 112.2h.75M424.5 111.5h.75M424.7 112.2h.75M424.7 111.8h.75M424.7 112.4h.75M425.0 112.4h.75M425.1 112.2h.75M425.1 112.0h.75M425.2 111.7h.75M425.2 111.7h.75M425.2 111.7h.75M425.6 111.9h.75M425.6 112.5h.75M425.7 111.7h.75M426.1 112.3h.75M426.2 112.3h.75M426.3 112.1h.75M426.5 111.7h.75M426.6 112.3h.75M426.9 112.5h.75M427.5 111.7h.75M427.6 112.4h.75M427.7 112.2h.75M428.1 112.2h.75M428.4 111.8h.75M429.1 112.3h.75M429.2 112.4h.75M429.3 112.3h.75M429.3 112.2h.75M429.3 112.4h.75M429.4 111.8h.75M429.7 111.9h.75M430.2 111.6h.75M430.3 111.8h.75M430.6 111.6h.75M430.8 112.3h.75M431.0 112.0h.75M431.0 111.8h.75M431.3 111.7h.75M432.0 112.5h.75M432.0 111.8h.75M432.1 112.2h.75M432.1 112.2h.75M432.2 111.7h.75M432.3 112.4h.75M432.4 112.2h.75M432.5 111.5h.75M432.6 111.9h.75M432.8 112.1h.75M433.1 111.6h.75M434.0 112.1h.75M434.1 111.9h.75M434.3 112.2h.75M434.3 111.6h.75M434.7 112.2h.75M435.1 111.7h.75M435.4 112.2h.75M435.5 112.1h.75M436.2 112.3h.75M436.5 111.9h.75M437.0 112.2h.75M437.5 112.3h.75M438.0 112.1h.75M438.2 112.0h.75M438.4 111.8h.75M439.4 111.9h.75M439.6 112.4h.75M440.7 112.0h.75M440.8 112.4h.75M442.3 111.8h.75M442.7 112.4h.75M443.2 112.2h.75M446.8 112.0h.75M447.8 112.4h.75M449.0 111.6h.75M451.5 112.2h.75M456.9 111.5h.75M458.1 111.6h.75M397.1 113.1h.75M407.3 112.6h.75M407.6 113.1h.75M408.9 113.0h.75M410.8 112.6h.75M411.1 112.8h.75M411.6 113.1h.75M417.3 112.7h.75M417.4 113.1h.75M418.1 113.2h.75M419.4 112.8h.75M419.9 112.6h.75M419.9 112.8h.75M421.5 112.7h.75M422.5 113.3h.75M424.0 112.7h.75M424.3 112.5h.75M424.7 112.8h.75M425.5 112.8h.75M425.8 112.9h.75M425.9 112.6h.75M426.0 112.6h.75M426.1 113.3h.75M426.3 112.6h.75M426.7 113.4h.75M426.7 112.8h.75M426.8 112.9h.75M427.3 112.7h.75M427.6 113.0h.75M427.6 113.2h.75M427.8 113.2h.75M427.8 112.9h.75M427.8 112.6h.75M428.0 113.2h.75M428.1 113.3h.75M428.1 112.5h.75M428.3 112.8h.75M428.3 113.4h.75M428.3 113.4h.75M428.6 112.9h.75M428.8 113.4h.75M429.0 113.0h.75M429.1 113.4h.75M429.1 113.2h.75M429.5 113.4h.75M429.7 112.9h.75M430.0 113.4h.75M430.2 113.2h.75M430.3 112.9h.75M430.7 113.1h.75M430.7 112.9h.75M430.9 113.1h.75M431.3 113.1h.75M431.4 112.8h.75M431.4 113.4h.75M432.1 113.2h.75M432.2 112.9h.75M432.5 112.7h.75M432.6 112.8h.75M432.7 112.8h.75M433.2 113.1h.75M433.3 112.9h.75M433.6 113.4h.75M433.8 112.9h.75M433.9 112.7h.75M434.1 112.8h.75M434.2 113.4h.75M434.8 113.2h.75M434.9 113.1h.75M435.3 113.1h.75M435.9 113.3h.75M436.1 112.7h.75M436.3 112.9h.75M436.3 112.8h.75M436.5 113.0h.75M436.8 113.3h.75M437.0 112.9h.75M437.0 113.1h.75M437.2 112.7h.75M437.2 112.7h.75M437.2 113.4h.75M437.3 112.8h.75M437.5 112.7h.75M439.3 113.3h.75M439.7 112.6h.75M440.7 112.9h.75M440.7 113.2h.75M441.0 112.9h.75M442.1 112.8h.75M442.5 112.7h.75M442.5 112.9h.75M442.8 113.2h.75M448.3 112.6h.75M452.9 112.7h.75M461.9 112.5h.75M462.3 112.7h.75M386.8 113.8h.75M389.2 113.5h.75M390.9 113.9h.75M392.2 114.1h.75M395.1 114.2h.75M397.3 114.0h.75M398.4 114.2h.75M398.8 113.6h.75M399.2 114.4h.75M402.9 114.1h.75M403.7 114.4h.75M408.1 113.9h.75M409.7 113.8h.75M409.8 114.0h.75M413.1 113.6h.75M414.3 114.4h.75M414.5 113.8h.75M414.5 114.1h.75M416.3 114.5h.75M421.0 114.5h.75M421.6 113.5h.75M421.9 114.3h.75M423.8 113.5h.75M425.0 113.9h.75M425.0 113.8h.75M425.1 114.4h.75M425.3 113.7h.75M425.3 113.6h.75M425.6 114.1h.75M426.4 114.2h.75M426.4 114.0h.75M426.8 114.2h.75M426.9 113.9h.75M427.4 113.9h.75M427.8 113.8h.75M428.2 113.9h.75M428.6 113.5h.75M428.8 114.4h.75M428.8 113.5h.75M429.2 113.7h.75M429.6 113.8h.75M429.7 113.7h.75M429.8 114.1h.75M430.1 114.3h.75M430.1 114.0h.75M430.3 113.9h.75M430.3 113.5h.75M430.6 114.5h.75M430.8 113.6h.75M430.9 114.4h.75M431.1 114.1h.75M431.3 113.5h.75M431.3 114.0h.75M431.4 114.1h.75M431.5 113.9h.75M431.7 113.6h.75M432.0 113.5h.75M432.2 113.6h.75M432.3 114.1h.75M432.5 113.9h.75M432.6 114.4h.75M432.9 113.7h.75M433.6 113.5h.75M433.8 114.1h.75M433.9 113.9h.75M434.9 114.0h.75M435.1 114.0h.75M435.4 114.3h.75M436.5 114.2h.75M436.6 114.1h.75M437.9 113.6h.75M438.7 114.1h.75M439.0 114.2h.75M439.1 113.5h.75M440.2 114.1h.75M441.3 113.5h.75M442.0 114.2h.75M442.4 113.9h.75M443.7 114.2h.75M444.7 113.5h.75M445.2 113.7h.75M449.7 114.2h.75M449.9 114.2h.75M451.5 113.7h.75M457.4 113.9h.75M460.1 114.5h.75M384.4 114.8h.75M386.3 115.5h.75M392.1 115.0h.75M393.6 114.9h.75M393.9 115.1h.75M401.8 114.6h.75M403.3 115.1h.75M407.0 114.8h.75M408.5 114.6h.75M410.4 114.5h.75M411.2 114.6h.75M413.8 115.2h.75M416.5 115.3h.75M417.3 114.7h.75M418.8 115.1h.75M420.6 114.8h.75M420.8 114.5h.75M421.9 115.0h.75M423.6 115.4h.75M424.7 114.7h.75M424.7 115.3h.75M424.9 114.8h.75M425.0 115.0h.75M425.0 115.0h.75M425.6 114.9h.75M426.0 114.8h.75M426.1 114.8h.75M426.6 115.2h.75M427.3 115.0h.75M427.3 115.3h.75M427.7 115.1h.75M428.0 114.6h.75M428.2 114.5h.75M428.3 114.6h.75M428.6 114.6h.75M429.1 114.7h.75M429.7 115.0h.75M430.0 115.3h.75M430.2 115.1h.75M431.2 114.7h.75M431.3 114.6h.75M431.6 114.7h.75M432.0 114.7h.75M432.5 114.8h.75M432.6 115.5h.75M433.4 114.8h.75M433.5 115.0h.75M433.8 115.2h.75M433.9 115.3h.75M433.9 115.4h.75M434.4 114.6h.75M435.0 115.0h.75M435.1 115.5h.75M435.6 114.7h.75M435.7 115.0h.75M437.1 115.0h.75M438.9 115.2h.75M440.2 114.7h.75M440.8 114.7h.75M441.4 114.8h.75M442.1 115.2h.75M449.6 115.1h.75M453.0 114.7h.75M456.0 114.8h.75M456.8 115.5h.75M384.6 115.5h.75M390.8 115.7h.75M399.2 116.1h.75M400.1 115.9h.75M404.5 116.0h.75M405.7 116.3h.75M407.1 115.6h.75M409.9 116.0h.75M410.3 115.7h.75M411.9 116.5h.75M412.0 116.5h.75M412.9 115.9h.75M416.0 116.4h.75M422.1 116.0h.75M423.3 115.8h.75M424.0 116.2h.75M424.0 116.1h.75M424.6 115.7h.75M425.8 116.4h.75M425.8 115.8h.75M426.0 116.4h.75M426.1 115.7h.75M426.2 115.6h.75M426.4 115.5h.75M426.8 115.6h.75M426.9 116.0h.75M427.5 115.7h.75M427.5 116.4h.75M427.7 115.7h.75M427.9 116.2h.75M427.9 115.6h.75M428.0 116.5h.75M428.2 115.9h.75M428.2 115.9h.75M428.5 115.6h.75M428.6 115.6h.75M428.6 116.0h.75M428.7 116.2h.75M428.7 115.6h.75M428.8 116.3h.75M429.6 116.3h.75M429.9 116.1h.75M430.0 116.4h.75M430.0 115.7h.75M430.2 115.5h.75M430.5 116.2h.75M430.7 115.6h.75M431.7 115.9h.75M431.7 116.4h.75M431.8 116.3h.75M431.9 115.5h.75M432.1 115.9h.75M432.3 116.1h.75M433.1 115.7h.75M433.8 116.4h.75M434.1 115.8h.75M434.2 115.8h.75M435.0 115.8h.75M437.2 116.1h.75M438.6 115.7h.75M439.3 116.3h.75M439.8 116.0h.75M442.4 116.0h.75M446.0 116.0h.75M451.9 116.3h.75M452.5 116.1h.75M452.7 115.5h.75M455.7 115.8h.75M457.3 115.8h.75M461.2 116.1h.75M382.7 116.9h.75M384.4 117.5h.75M391.0 117.4h.75M392.6 116.9h.75M394.3 117.5h.75M397.1 117.1h.75M399.9 117.4h.75M401.2 117.3h.75M403.6 117.4h.75M408.7 117.5h.75M411.0 116.8h.75M411.1 116.6h.75M411.8 117.2h.75M421.3 116.5h.75M422.3 117.2h.75M422.4 117.0h.75M422.9 116.8h.75M423.0 117.3h.75M423.2 117.0h.75M423.3 117.1h.75M423.8 117.0h.75M424.5 117.4h.75M424.5 116.6h.75M425.2 116.8h.75M425.5 117.3h.75M425.9 117.0h.75M426.3 117.2h.75M426.4 117.0h.75M427.5 117.0h.75M428.0 116.8h.75M428.0 116.9h.75M428.1 116.7h.75M428.5 117.1h.75M428.6 117.2h.75M428.7 117.1h.75M428.8 117.1h.75M429.2 116.8h.75M429.3 116.9h.75M429.6 116.7h.75M430.3 116.7h.75M431.8 116.5h.75M432.4 117.4h.75M433.6 116.9h.75M434.1 116.8h.75M435.1 117.4h.75M436.0 116.6h.75M439.5 117.0h.75M440.9 117.1h.75M442.1 116.6h.75M444.5 116.8h.75M447.9 117.2h.75M449.4 117.2h.75M450.0 116.7h.75M452.1 116.8h.75M454.3 116.8h.75M457.4 117.5h.75M382.4 117.9h.75M386.3 117.9h.75M386.5 118.3h.75M386.6 118.3h.75M388.8 118.4h.75M388.9 117.9h.75M396.9 118.1h.75M397.0 117.7h.75M398.3 117.6h.75M399.9 118.1h.75M401.7 118.1h.75M406.0 118.2h.75M406.9 117.7h.75M407.3 117.9h.75M410.6 117.8h.75M412.1 117.9h.75M412.3 117.9h.75M415.4 118.4h.75M416.1 117.7h.75M416.2 118.0h.75M417.4 117.9h.75M418.6 117.9h.75M420.3 118.0h.75M420.9 118.2h.75M421.0 117.8h.75M421.9 117.6h.75M422.9 117.6h.75M423.0 117.8h.75M423.2 117.6h.75M423.6 118.3h.75M424.1 117.9h.75M424.9 118.4h.75M427.8 118.3h.75M428.1 118.4h.75M428.3 117.5h.75M428.5 118.1h.75M429.5 118.1h.75M429.6 118.3h.75M429.7 117.7h.75M430.4 118.2h.75M430.4 117.5h.75M431.4 118.3h.75M431.7 117.5h.75M431.8 117.8h.75M433.7 117.7h.75M434.2 118.0h.75M434.2 117.8h.75M434.6 117.6h.75M435.1 117.6h.75M436.7 118.3h.75M437.5 117.8h.75M438.3 118.4h.75M439.9 117.6h.75M441.7 118.2h.75M450.6 117.7h.75M455.3 118.3h.75M457.8 117.9h.75M459.4 118.4h.75M462.2 118.0h.75M381.3 119.0h.75M384.0 119.0h.75M385.9 118.9h.75M391.7 119.4h.75M392.1 119.2h.75M392.6 119.0h.75M398.5 119.3h.75M400.4 119.3h.75M406.5 119.2h.75M406.9 118.9h.75M411.1 119.2h.75M413.4 119.2h.75M414.0 119.3h.75M415.6 119.2h.75M416.6 119.0h.75M418.8 119.2h.75M421.2 119.2h.75M425.0 119.0h.75M425.7 119.3h.75M425.8 119.4h.75M426.4 119.3h.75M428.3 119.1h.75M428.4 118.7h.75M430.1 119.2h.75M430.9 118.8h.75M431.0 119.1h.75M433.0 119.3h.75M435.5 118.8h.75M435.8 118.6h.75M437.1 119.3h.75M440.1 119.2h.75M444.6 118.8h.75M447.6 118.8h.75M449.3 118.6h.75M450.2 119.2h.75M453.8 119.4h.75M456.4 119.3h.75M458.2 119.0h.75M388.6 119.9h.75M390.6 120.0h.75M391.0 120.5h.75M391.7 119.8h.75M392.3 120.4h.75M392.6 119.6h.75M392.9 119.9h.75M393.9 120.1h.75M394.1 120.3h.75M396.1 119.9h.75M397.0 119.9h.75M398.2 119.7h.75M399.2 120.0h.75M403.3 120.2h.75M404.1 120.1h.75M404.1 120.2h.75M405.8 120.4h.75M408.7 119.8h.75M408.9 120.0h.75M409.1 120.2h.75M410.5 120.2h.75M412.9 120.0h.75M413.3 120.5h.75M416.6 120.0h.75M417.5 119.8h.75M418.1 120.4h.75M419.0 119.9h.75M421.1 119.7h.75M421.1 119.9h.75M422.2 119.7h.75M423.0 119.5h.75M423.8 120.1h.75M424.1 119.9h.75M424.4 120.3h.75M426.3 119.9h.75M426.7 119.5h.75M427.9 119.9h.75M430.2 120.1h.75M430.6 120.2h.75M431.2 120.3h.75M433.0 119.9h.75M435.5 119.6h.75M435.5 119.9h.75M437.4 120.4h.75M439.0 120.2h.75M440.9 120.4h.75M455.2 120.3h.75M456.3 119.9h.75M461.1 119.7h.75M381.6 120.6h.75M387.3 120.8h.75M395.6 121.2h.75M396.8 120.9h.75M398.8 120.7h.75M399.1 121.3h.75M400.4 121.3h.75M404.4 121.3h.75M404.9 120.9h.75M406.2 121.5h.75M407.1 121.2h.75M407.4 120.8h.75M409.1 120.8h.75M410.6 120.9h.75M414.3 121.3h.75M415.9 120.9h.75M416.6 120.5h.75M417.0 120.8h.75M417.2 120.9h.75M417.8 121.1h.75M418.2 121.1h.75M419.4 121.2h.75M420.0 121.3h.75M420.2 121.1h.75M420.6 120.9h.75M420.6 120.7h.75M421.3 120.7h.75M423.8 120.7h.75M425.9 121.2h.75M428.0 120.5h.75M428.1 120.8h.75M428.2 121.4h.75M428.3 120.6h.75M429.4 121.0h.75M429.6 121.2h.75M429.9 121.3h.75M430.5 120.7h.75M431.3 120.9h.75M434.9 120.6h.75M436.9 120.9h.75M439.2 120.9h.75M442.7 121.3h.75M448.6 120.6h.75M451.6 120.8h.75M451.7 121.1h.75M452.4 121.3h.75M458.8 120.6h.75M461.5 120.6h.75M396.7 121.7h.75M397.3 121.6h.75M398.2 122.3h.75M399.8 122.0h.75M400.6 121.7h.75M401.6 121.6h.75M401.6 122.2h.75M403.7 121.6h.75M404.6 122.3h.75M406.1 122.1h.75M407.6 121.8h.75M408.3 121.8h.75M410.3 122.1h.75M411.1 122.1h.75M412.4 122.4h.75M412.7 121.8h.75M414.8 121.7h.75M416.2 122.0h.75M417.6 121.5h.75M418.1 122.1h.75M419.2 121.8h.75M419.5 121.8h.75M420.0 121.7h.75M420.4 121.5h.75M420.6 122.1h.75M422.0 122.3h.75M422.9 122.4h.75M425.8 122.1h.75M426.2 122.2h.75M426.6 121.5h.75M427.1 121.6h.75M427.8 121.9h.75M428.6 122.2h.75M436.5 122.0h.75M436.9 121.6h.75M444.3 121.6h.75M447.0 121.9h.75M447.9 121.8h.75M448.1 122.3h.75M452.8 121.6h.75M452.9 121.9h.75M459.1 122.5h.75M459.1 122.3h.75M383.8 123.2h.75M385.1 122.8h.75M386.8 122.9h.75M389.0 123.1h.75M391.1 122.7h.75M391.5 122.8h.75M398.3 122.7h.75M403.9 123.1h.75M406.1 123.3h.75M406.2 123.1h.75M406.6 123.3h.75M406.8 122.7h.75M408.4 123.4h.75M416.3 122.8h.75M420.6 123.0h.75M421.1 122.5h.75M421.2 123.3h.75M421.3 123.2h.75M421.9 122.7h.75M422.1 123.3h.75M422.9 122.9h.75M423.1 123.4h.75M423.9 123.2h.75M424.0 122.5h.75M425.2 122.8h.75M425.4 123.4h.75M425.5 122.7h.75M426.2 122.8h.75M426.7 123.1h.75M427.9 122.7h.75M429.9 123.1h.75M435.1 122.8h.75M436.2 122.6h.75M437.4 122.8h.75M441.4 123.3h.75M441.8 122.9h.75M442.0 123.5h.75M444.2 122.9h.75M449.1 122.7h.75M459.4 123.2h.75M393.5 123.8h.75M398.8 123.5h.75M402.8 123.8h.75M403.6 123.6h.75M405.4 123.6h.75M406.3 123.7h.75M408.5 123.7h.75M415.3 123.8h.75M422.1 123.7h.75M433.8 123.5h.75M436.3 123.7h.75M439.0 123.8h.75M439.7 123.6h.75" stroke="#000" stroke-opacity="0.6" stroke-width="0.75" fill="none"/>
<rect x="379.60" y="60.50" width="83.90" height="64.10" fill="none" stroke="#666" stroke-width="0.9"/>
<line x1="430.50" y1="60.50" x2="430.50" y2="124.60" stroke="#707070" stroke-width="0.9"/>
<line x1="379.60" y1="113.80" x2="463.50" y2="113.80" stroke="#707070" stroke-width="0.9"/>
<text x="374.00" y="59.20" font-size="6.5" fill="#2a2a2a" textLength="77.00" lengthAdjust="spacingAndGlyphs">Specimen_001-Sample A7</text>
<path d="M380.02 124.60v1.6 M382.64 124.60v1.6 M384.68 124.60v1.6 M386.34 124.60v1.6 M387.75 124.60v1.6 M388.96 124.60v1.6 M390.04 124.60v1.6 M391.00 124.60v2.6 M397.32 124.60v1.6 M401.02 124.60v1.6 M403.64 124.60v1.6 M405.68 124.60v1.6 M407.34 124.60v1.6 M408.75 124.60v1.6 M409.96 124.60v1.6 M411.04 124.60v1.6 M412.00 124.60v2.6 M418.32 124.60v1.6 M422.02 124.60v1.6 M424.64 124.60v1.6 M426.68 124.60v1.6 M428.34 124.60v1.6 M429.75 124.60v1.6 M430.96 124.60v1.6 M432.04 124.60v1.6 M433.00 124.60v2.6 M439.32 124.60v1.6 M443.02 124.60v1.6 M445.64 124.60v1.6 M447.68 124.60v1.6 M449.34 124.60v1.6 M450.75 124.60v1.6 M451.96 124.60v1.6 M453.04 124.60v1.6 M454.00 124.60v2.6" stroke="#333" stroke-width="0.6"/>
<text x="388.40" y="134.60" font-size="4.1" fill="#3a3a3a" stroke="#3a3a3a" stroke-width="0.18" textLength="3.80" lengthAdjust="spacingAndGlyphs">10</text>
<text x="392.30" y="132.70" font-size="2.9519999999999995" fill="#3a3a3a" stroke="#3a3a3a" stroke-width="0.15">2</text>
<text x="409.40" y="134.60" font-size="4.1" fill="#3a3a3a" stroke="#3a3a3a" stroke-width="0.18" textLength="3.80" lengthAdjust="spacingAndGlyphs">10</text>
<text x="413.30" y="132.70" font-size="2.9519999999999995" fill="#3a3a3a" stroke="#3a3a3a" stroke-width="0.15">3</text>
<text x="430.40" y="134.60" font-size="4.1" fill="#3a3a3a" stroke="#3a3a3a" stroke-width="0.18" textLength="3.80" lengthAdjust="spacingAndGlyphs">10</text>
<text x="434.30" y="132.70" font-size="2.9519999999999995" fill="#3a3a3a" stroke="#3a3a3a" stroke-width="0.15">4</text>
<text x="451.40" y="134.60" font-size="4.1" fill="#3a3a3a" stroke="#3a3a3a" stroke-width="0.18" textLength="3.80" lengthAdjust="spacingAndGlyphs">10</text>
<text x="455.30" y="132.70" font-size="2.9519999999999995" fill="#3a3a3a" stroke="#3a3a3a" stroke-width="0.15">5</text>
<text x="400.00" y="142.60" font-size="6.4" fill="#2a2a2a" textLength="43.00" lengthAdjust="spacingAndGlyphs">CD8 PE-Cy7-A</text>
<text x="365.20" y="110.30" font-size="5.7" fill="#333" textLength="35.50" lengthAdjust="spacingAndGlyphs" transform="rotate(-90 365.20 110.30)">CD4 PerCP-A</text>
<path d="M379.60 123.57h-1.6 M379.60 121.97h-1.6 M379.60 120.66h-1.6 M379.60 119.56h-1.6 M379.60 118.60h-1.6 M379.60 117.75h-1.6 M379.60 117.00h-2.6 M379.60 112.03h-1.6 M379.60 109.13h-1.6 M379.60 107.07h-1.6 M379.60 105.47h-1.6 M379.60 104.16h-1.6 M379.60 103.06h-1.6 M379.60 102.10h-1.6 M379.60 101.25h-1.6 M379.60 100.50h-2.6 M379.60 95.53h-1.6 M379.60 92.63h-1.6 M379.60 90.57h-1.6 M379.60 88.97h-1.6 M379.60 87.66h-1.6 M379.60 86.56h-1.6 M379.60 85.60h-1.6 M379.60 84.75h-1.6 M379.60 84.00h-2.6 M379.60 79.03h-1.6 M379.60 76.13h-1.6 M379.60 74.07h-1.6 M379.60 72.47h-1.6 M379.60 71.16h-1.6 M379.60 70.06h-1.6 M379.60 69.10h-1.6 M379.60 68.25h-1.6 M379.60 67.50h-2.6 M379.60 62.53h-1.6" stroke="#555" stroke-width="0.6"/>
<text x="371.20" y="118.60" font-size="4.4" fill="#222" stroke="#222" stroke-width="0.3" textLength="3.80" lengthAdjust="spacingAndGlyphs">10</text>
<text x="368.80" y="115.60" font-size="3.2" fill="#222" stroke="#222" stroke-width="0.2">2</text>
<text x="371.20" y="102.10" font-size="4.4" fill="#222" stroke="#222" stroke-width="0.3" textLength="3.80" lengthAdjust="spacingAndGlyphs">10</text>
<text x="368.80" y="99.10" font-size="3.2" fill="#222" stroke="#222" stroke-width="0.2">3</text>
<text x="371.20" y="85.60" font-size="4.4" fill="#222" stroke="#222" stroke-width="0.3" textLength="3.80" lengthAdjust="spacingAndGlyphs">10</text>
<text x="368.80" y="82.60" font-size="3.2" fill="#222" stroke="#222" stroke-width="0.2">4</text>
<text x="371.20" y="69.10" font-size="4.4" fill="#222" stroke="#222" stroke-width="0.3" textLength="3.80" lengthAdjust="spacingAndGlyphs">10</text>
<text x="368.80" y="66.10" font-size="3.2" fill="#222" stroke="#222" stroke-width="0.2">5</text>
<text x="385.60" y="72.50" font-size="5.8" fill="#2a2a2a" stroke="#2a2a2a" stroke-width="0.05" textLength="12.40" lengthAdjust="spacingAndGlyphs">Q1-1</text>
<text x="447.00" y="72.60" font-size="5.8" fill="#2a2a2a" stroke="#2a2a2a" stroke-width="0.05" textLength="12.00" lengthAdjust="spacingAndGlyphs">Q2-1</text>
<text x="386.00" y="121.80" font-size="5.8" fill="#2a2a2a" stroke="#2a2a2a" stroke-width="0.05" textLength="12.00" lengthAdjust="spacingAndGlyphs">Q3-1</text>
<text x="446.60" y="122.40" font-size="5.8" fill="#2a2a2a" stroke="#2a2a2a" stroke-width="0.05" textLength="12.80" lengthAdjust="spacingAndGlyphs">Q4-1</text>
</svg></body></html>
